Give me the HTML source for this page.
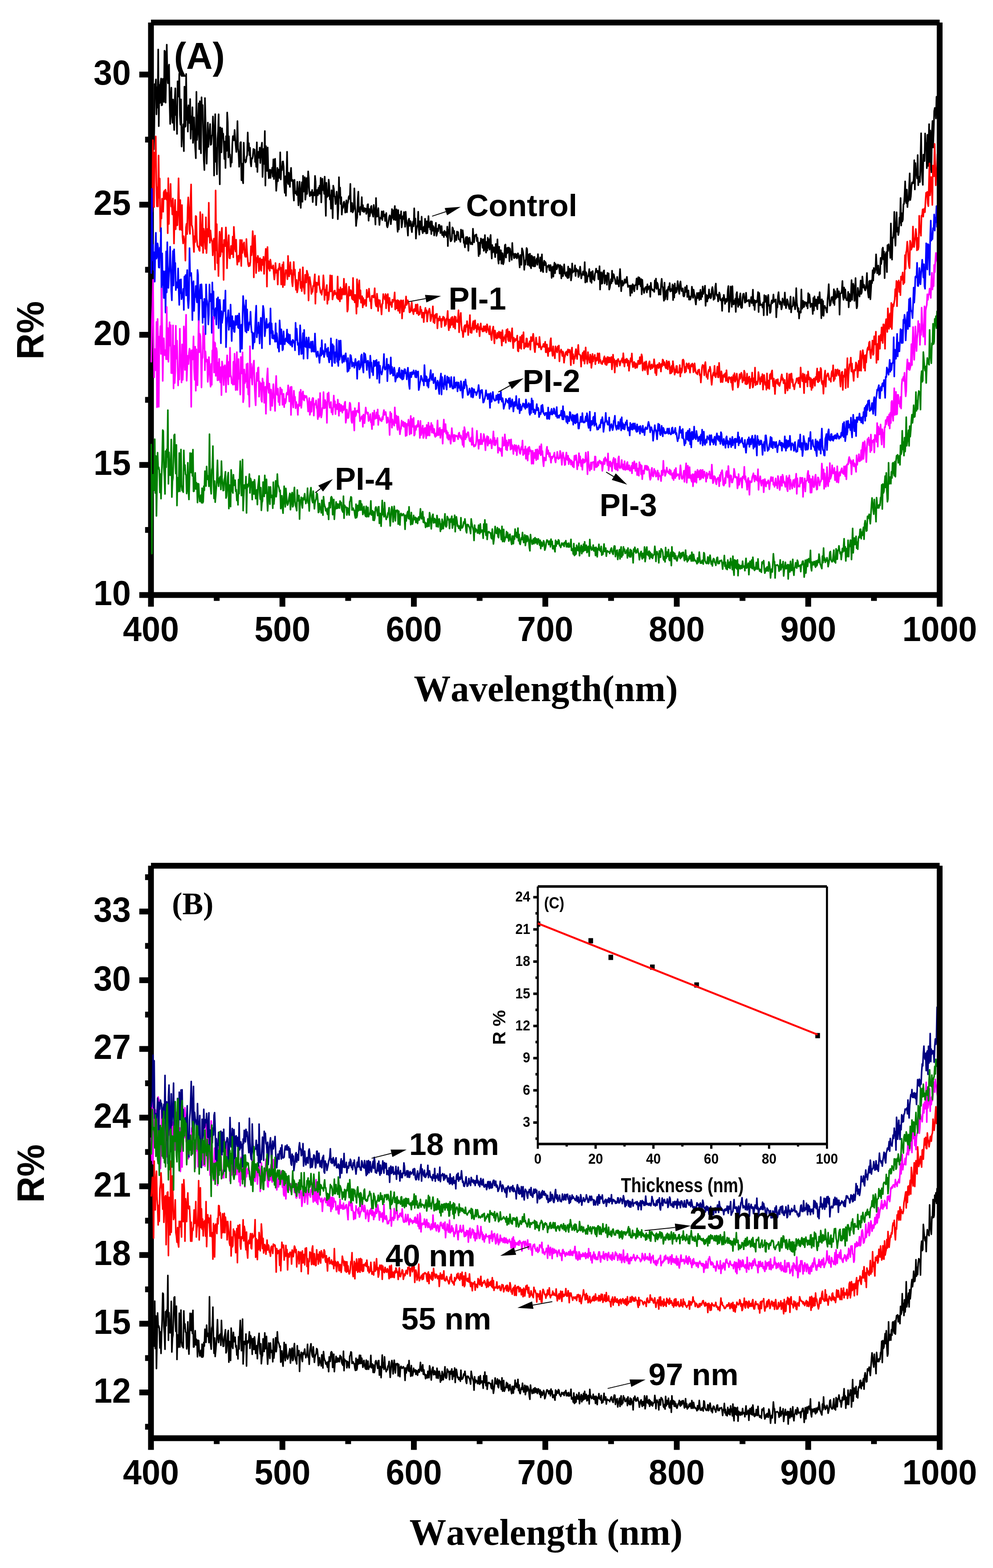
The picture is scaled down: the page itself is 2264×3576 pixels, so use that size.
<!DOCTYPE html>
<html lang="en"><head><meta charset="utf-8"><title>Reflectance spectra</title>
<style>html,body{margin:0;padding:0;background:#fff}svg{display:block}text{fill:#000}</style></head><body>
<svg width="2264" height="3576" viewBox="0 0 2264 3576">
<rect width="2264" height="3576" fill="#fff"/>
<g id="plotA">
<rect x="337.6" y="51.4" width="13.2" height="1332.2" fill="#000"/>
<rect x="344.2" y="1350.4" width="1798.2" height="13.2" fill="#000"/>
<text transform="translate(344.2,1461.9) scale(0.964,1)" font-family='"Liberation Sans", sans-serif' font-size="79.5" font-weight="bold" text-anchor="middle" >400</text>
<rect x="487.5" y="1357" width="13.2" height="13.4" fill="#000"/>
<rect x="637.3" y="1357" width="13.2" height="26.6" fill="#000"/>
<text transform="translate(643.9,1461.9) scale(0.964,1)" font-family='"Liberation Sans", sans-serif' font-size="79.5" font-weight="bold" text-anchor="middle" >500</text>
<rect x="787.2" y="1357" width="13.2" height="13.4" fill="#000"/>
<rect x="937" y="1357" width="13.2" height="26.6" fill="#000"/>
<text transform="translate(943.6,1461.9) scale(0.964,1)" font-family='"Liberation Sans", sans-serif' font-size="79.5" font-weight="bold" text-anchor="middle" >600</text>
<rect x="1086.9" y="1357" width="13.2" height="13.4" fill="#000"/>
<rect x="1236.7" y="1357" width="13.2" height="26.6" fill="#000"/>
<text transform="translate(1243.3,1461.9) scale(0.964,1)" font-family='"Liberation Sans", sans-serif' font-size="79.5" font-weight="bold" text-anchor="middle" >700</text>
<rect x="1386.6" y="1357" width="13.2" height="13.4" fill="#000"/>
<rect x="1536.4" y="1357" width="13.2" height="26.6" fill="#000"/>
<text transform="translate(1543,1461.9) scale(0.964,1)" font-family='"Liberation Sans", sans-serif' font-size="79.5" font-weight="bold" text-anchor="middle" >800</text>
<rect x="1686.3" y="1357" width="13.2" height="13.4" fill="#000"/>
<rect x="1836.1" y="1357" width="13.2" height="26.6" fill="#000"/>
<text transform="translate(1842.7,1461.9) scale(0.964,1)" font-family='"Liberation Sans", sans-serif' font-size="79.5" font-weight="bold" text-anchor="middle" >900</text>
<rect x="1986" y="1357" width="13.2" height="13.4" fill="#000"/>
<text transform="translate(2142.4,1461.9) scale(0.964,1)" font-family='"Liberation Sans", sans-serif' font-size="79.5" font-weight="bold" text-anchor="middle" >1000</text>
<rect x="317.6" y="1350.4" width="26.6" height="13.2" fill="#000"/>
<text transform="translate(298.4,1380) scale(0.964,1)" font-family='"Liberation Sans", sans-serif' font-size="79.5" font-weight="bold" text-anchor="end" >10</text>
<rect x="317.6" y="1053.7" width="26.6" height="13.2" fill="#000"/>
<text transform="translate(298.4,1083.3) scale(0.964,1)" font-family='"Liberation Sans", sans-serif' font-size="79.5" font-weight="bold" text-anchor="end" >15</text>
<rect x="317.6" y="756.9" width="26.6" height="13.2" fill="#000"/>
<text transform="translate(298.4,786.5) scale(0.964,1)" font-family='"Liberation Sans", sans-serif' font-size="79.5" font-weight="bold" text-anchor="end" >20</text>
<rect x="317.6" y="460.2" width="26.6" height="13.2" fill="#000"/>
<text transform="translate(298.4,489.8) scale(0.964,1)" font-family='"Liberation Sans", sans-serif' font-size="79.5" font-weight="bold" text-anchor="end" >25</text>
<rect x="317.6" y="163.4" width="26.6" height="13.2" fill="#000"/>
<text transform="translate(298.4,193) scale(0.964,1)" font-family='"Liberation Sans", sans-serif' font-size="79.5" font-weight="bold" text-anchor="end" >30</text>
<rect x="330.8" y="1202" width="13.4" height="13.2" fill="#000"/>
<rect x="330.8" y="905.3" width="13.4" height="13.2" fill="#000"/>
<rect x="330.8" y="608.6" width="13.4" height="13.2" fill="#000"/>
<rect x="330.8" y="311.8" width="13.4" height="13.2" fill="#000"/>
<polyline fill="none" stroke="#000000" stroke-width="3.7" stroke-linejoin="round" stroke-linecap="round" points="349,305.6 350.3,340.8 351.6,303 352.9,191.7 354.2,198.1 355.5,181.2 356.8,260.9 358.1,198.9 359.4,245.5 360.7,112.8 362,287.8 363.3,193.6 364.6,234.9 365.9,190.3 367.2,179.2 368.5,240.3 369.8,239.3 371.1,179.9 372.4,188 373.7,232.7 375,115.5 376.3,117.9 377.6,234.1 378.9,163.9 380.2,101.8 381.5,166.2 382.8,189.9 384.1,158.1 385.4,147.4 386.7,232.1 388,282.8 389.3,223.3 390.6,199.8 391.9,263.8 393.2,279.9 394.5,226.8 395.8,270.7 397.1,296.7 398.4,229 399.7,201.4 401,262.4 402.3,261.2 403.6,305.5 404.9,185.4 406.2,220.5 407.5,213.3 408.8,167.6 410.1,262.1 411.4,284.1 412.7,226.7 414,334.3 415.3,306.6 416.6,295.9 417.9,283.4 419.2,344.8 420.5,197.7 421.8,289.4 423.1,287.4 424.4,168.7 425.7,273.5 427,244.5 428.3,300.2 429.6,240 430.9,260.3 432.2,280.6 433.5,225.8 434.8,316.4 436.1,265.7 437.4,294.8 438.7,244.7 440,326 441.3,303.4 442.6,267.6 443.9,312.8 445.2,339.2 446.5,360.9 447.8,209.4 449.1,319.3 450.4,303.5 451.7,278.5 453,235.5 454.3,340.3 455.6,230.8 456.9,314 458.2,349.7 459.5,221.9 460.8,270.1 462.1,239.7 463.4,307.4 464.7,365 466,387.8 467.3,223.7 468.6,277.4 469.9,336 471.2,373.4 472.5,325.2 473.8,279.6 475.1,335 476.4,311.4 477.7,301.9 479,282.8 480.3,330.5 481.6,329.1 482.9,310.1 484.2,307 485.5,265.7 486.8,300.5 488.1,400.5 489.4,309.5 490.7,260.3 492,369.2 493.3,337 494.6,397.6 495.9,317 497.2,299.1 498.5,260.7 499.8,369.8 501.1,420.5 502.4,290.7 503.7,300.7 505,347.4 506.3,292.6 507.6,310.2 508.9,304.9 510.2,328.2 511.5,362.6 512.8,322.9 514.1,383.1 515.4,310.5 516.7,344.1 518,256.7 519.3,279.4 520.6,359.2 521.9,310.8 523.2,353.7 524.5,352.3 525.8,380.1 527.1,362.1 528.4,370.7 529.7,328.9 531,310.3 532.3,311 533.6,320 534.9,296.3 536.2,318.1 537.5,332.9 538.8,346.6 540.1,329.3 541.4,276.1 542.7,337.9 544,349.3 545.3,380.4 546.6,364.7 547.9,325.5 549.2,324.1 550.5,411.2 551.8,373.1 553.1,409.4 554.4,418 555.7,325.4 557,363.6 558.3,364.6 559.6,370.5 560.9,368.5 562.2,357.9 563.5,354.1 564.8,302.2 566.1,343.5 567.4,326.6 568.7,354 570,336.8 571.3,370.4 572.6,379.5 573.9,360.9 575.2,361.8 576.5,356.5 577.8,339.6 579.1,344.3 580.4,340.9 581.7,369.3 583,362.5 584.3,380.6 585.6,324.6 586.9,392.1 588.2,346.7 589.5,346.2 590.8,359.9 592.1,336.7 593.4,371.8 594.7,349.5 596,335.4 597.3,325.4 598.6,403.7 599.9,371.6 601.2,339.4 602.5,373.8 603.8,298.8 605.1,423.3 606.4,333.4 607.7,388 609,389.8 610.3,336.3 611.6,384.7 612.9,406.4 614.2,390.6 615.5,387.1 616.8,405.9 618.1,388.2 619.4,393.2 620.7,382.3 622,402.8 623.3,363.4 624.6,408.4 625.9,368.5 627.2,362 628.5,400.4 629.8,435.2 631.1,417.5 632.4,382.9 633.7,413.4 635,386.5 636.3,397.3 637.6,405.8 638.9,347.4 640.2,409.4 641.5,380.4 642.8,388.1 644.1,368.5 645.4,368.2 646.7,379.8 648,420.8 649.3,440 650.6,402.2 651.9,446.4 653.2,400.6 654.5,346.2 655.8,412 657.1,419.6 658.4,393.9 659.7,419 661,426.3 662.3,396.2 663.6,382.8 664.9,412.6 666.2,413 667.5,410.5 668.8,440.3 670.1,457.5 671.4,410.1 672.7,435.9 674,441.1 675.3,437 676.6,444.6 677.9,414.5 679.2,439.9 680.5,468.4 681.8,442.3 683.1,414.4 684.4,450.9 685.7,474.1 687,435.2 688.3,415.5 689.6,460.1 690.9,400.9 692.2,436.9 693.5,426.7 694.8,404.1 696.1,455.5 697.4,442.4 698.7,406.2 700,442.3 701.3,421.9 702.6,390.8 703.9,405.9 705.2,438.6 706.5,447.4 707.8,439.1 709.1,437.7 710.4,445.5 711.7,433 713,461 714.3,438.8 715.6,440.9 716.9,445.6 718.2,401 719.5,414 720.8,468 722.1,444.9 723.4,433.2 724.7,445.4 726,428.3 727.3,441.6 728.6,423.5 729.9,442 731.2,405.3 732.5,461.7 733.8,426.7 735.1,407.6 736.4,433.6 737.7,425.9 739,442.2 740.3,402.9 741.6,448 742.9,492.3 744.2,416.9 745.5,449.7 746.8,437.1 748.1,447.2 749.4,409.6 750.7,423.6 752,454.9 753.3,445.5 754.6,476 755.9,433.9 757.2,450.7 758.5,497.7 759.8,423.3 761.1,430.2 762.4,447.5 763.7,449 765,465.5 766.3,453.9 767.6,437 768.9,455.9 770.2,499.9 771.5,475.3 772.8,404.2 774.1,450.9 775.4,427.8 776.7,465.4 778,449.5 779.3,489.5 780.6,473.3 781.9,474 783.2,462.4 784.5,460 785.8,467.6 787.1,484.9 788.4,472 789.7,456.8 791,484.1 792.3,465.9 793.6,461.2 794.9,449.7 796.2,446.9 797.5,453.7 798.8,419.3 800.1,482.7 801.4,475.9 802.7,462.9 804,484.4 805.3,481.5 806.6,476.3 807.9,429.6 809.2,466.6 810.5,478.9 811.8,515.3 813.1,502.2 814.4,496.1 815.7,453.4 817,437.1 818.3,482.9 819.6,474.7 820.9,489.8 822.2,471.4 823.5,476.6 824.8,449.6 826.1,481.8 827.4,467.8 828.7,481 830,483.7 831.3,474.5 832.6,480.4 833.9,475.9 835.2,487.8 836.5,483.4 837.8,466.8 839.1,465.7 840.4,503.3 841.7,476.6 843,493.2 844.3,485.5 845.6,472 846.9,469.7 848.2,485 849.5,488.3 850.8,494.2 852.1,467.4 853.4,477.6 854.7,486.5 856,512.2 857.3,451.6 858.6,494.1 859.9,479.3 861.2,493.7 862.5,474.5 863.8,492.9 865.1,513.2 866.4,496.5 867.7,498.3 869,498.1 870.3,482.2 871.6,502 872.9,490.7 874.2,481.5 875.5,493 876.8,489.5 878.1,504 879.4,492.5 880.7,485.9 882,514.8 883.3,518.5 884.6,513.2 885.9,504.6 887.2,494.8 888.5,491.2 889.8,493.8 891.1,511.3 892.4,499.2 893.7,476.9 895,496.9 896.3,479.6 897.6,501.2 898.9,481.8 900.2,469.9 901.5,501.8 902.8,498.3 904.1,477.4 905.4,509 906.7,528.7 908,479.1 909.3,523.4 910.6,490 911.9,494.1 913.2,498.2 914.5,481.8 915.8,518.6 917.1,509 918.4,493.2 919.7,499.3 921,483.6 922.3,499.6 923.6,517.3 924.9,482.8 926.2,500 927.5,508 928.8,520.7 930.1,537.3 931.4,502.2 932.7,498.7 934,515.1 935.3,504.1 936.6,505.1 937.9,522.5 939.2,529.4 940.5,513.4 941.8,505.2 943.1,516 944.4,475.1 945.7,510.5 947,498.3 948.3,544.1 949.6,523.6 950.9,516.9 952.2,512.4 953.5,482.9 954.8,523.5 956.1,535.2 957.4,504.7 958.7,522.6 960,523.1 961.3,494.2 962.6,526.1 963.9,531.8 965.2,520.8 966.5,516.9 967.8,528 969.1,498.9 970.4,519.4 971.7,532.4 973,504.5 974.3,531.8 975.6,514.1 976.9,492.9 978.2,517.9 979.5,508 980.8,523.3 982.1,504.5 983.4,533.9 984.7,505.1 986,526.2 987.3,515.1 988.6,518.2 989.9,537 991.2,526 992.5,518.2 993.8,508.1 995.1,537.9 996.4,532.9 997.7,521.3 999,527.7 1000.3,512.8 1001.6,512.7 1002.9,515.3 1004.2,531.5 1005.5,527.9 1006.8,515.7 1008.1,536 1009.4,536.4 1010.7,529.4 1012,540.6 1013.3,526.4 1014.6,529.1 1015.9,536.1 1017.2,529.3 1018.5,540.1 1019.8,516.8 1021.1,561.3 1022.4,524 1023.7,532.2 1025,507.1 1026.3,542.7 1027.6,550.4 1028.9,548.9 1030.2,545.9 1031.5,518.5 1032.8,521 1034.1,531.9 1035.4,526.6 1036.7,551.3 1038,539.6 1039.3,537.1 1040.6,547.6 1041.9,528.2 1043.2,528.8 1044.5,529.4 1045.8,545.5 1047.1,546.4 1048.4,546.4 1049.7,551.6 1051,523.5 1052.3,532.6 1053.6,541.3 1054.9,525.2 1056.2,535.8 1057.5,553.8 1058.8,555.4 1060.1,564.1 1061.4,544.2 1062.7,540.6 1064,556.1 1065.3,540.4 1066.6,549.4 1067.9,572 1069.2,543.5 1070.5,541.9 1071.8,550 1073.1,556.8 1074.4,556.2 1075.7,553.2 1077,557.4 1078.3,521.5 1079.6,541 1080.9,552.7 1082.2,540.6 1083.5,536 1084.8,537.8 1086.1,534.6 1087.4,550 1088.7,542.4 1090,556.5 1091.3,584.2 1092.6,553.3 1093.9,579.4 1095.2,558.7 1096.5,543.9 1097.8,553.8 1099.1,546 1100.4,565.1 1101.7,545.5 1103,572.2 1104.3,565 1105.6,536.1 1106.9,566.9 1108.2,576.1 1109.5,551.7 1110.8,571.6 1112.1,542.1 1113.4,565.1 1114.7,545.8 1116,569.3 1117.3,545.2 1118.6,535.9 1119.9,569.2 1121.2,589.7 1122.5,558.9 1123.8,575.6 1125.1,567.9 1126.4,564 1127.7,574.9 1129,586.5 1130.3,556.4 1131.6,576.9 1132.9,574.7 1134.2,545.8 1135.5,589.3 1136.8,601.2 1138.1,562.5 1139.4,592.3 1140.7,574.1 1142,570.7 1143.3,601.4 1144.6,577.1 1145.9,577.9 1147.2,602.6 1148.5,598.4 1149.8,584.7 1151.1,559.6 1152.4,557.6 1153.7,587.5 1155,566.2 1156.3,577.8 1157.6,564.9 1158.9,575.4 1160.2,564.5 1161.5,596 1162.8,566.9 1164.1,577 1165.4,576.9 1166.7,592.6 1168,554.1 1169.3,580.3 1170.6,578.3 1171.9,588.7 1173.2,588.5 1174.5,578.6 1175.8,586.2 1177.1,579.8 1178.4,589.5 1179.7,583 1181,577.7 1182.3,584.8 1183.6,592.5 1184.9,610 1186.2,581.7 1187.5,590.8 1188.8,604 1190.1,566.3 1191.4,570 1192.7,575.4 1194,588.3 1195.3,615.4 1196.6,594.2 1197.9,603.7 1199.2,589 1200.5,565.7 1201.8,568.2 1203.1,604.1 1204.4,595.8 1205.7,580.2 1207,606.2 1208.3,578.5 1209.6,608.2 1210.9,611.8 1212.2,583 1213.5,585.9 1214.8,606.6 1216.1,586.4 1217.4,607.7 1218.7,585.8 1220,607.4 1221.3,599.8 1222.6,593.7 1223.9,589.4 1225.2,603.8 1226.5,579.7 1227.8,596 1229.1,595.1 1230.4,611.4 1231.7,587 1233,618.7 1234.3,596.4 1235.6,580.1 1236.9,616.6 1238.2,620.5 1239.5,601.4 1240.8,594.5 1242.1,604.7 1243.4,597.4 1244.7,600.9 1246,620.7 1247.3,608.5 1248.6,606.8 1249.9,608.5 1251.2,604.4 1252.5,615.9 1253.8,617.1 1255.1,604.4 1256.4,609.8 1257.7,633.8 1259,613.6 1260.3,608.1 1261.6,631 1262.9,610.2 1264.2,598.9 1265.5,623.1 1266.8,602 1268.1,606.1 1269.4,614.2 1270.7,610.1 1272,603.2 1273.3,605.9 1274.6,605.2 1275.9,623.9 1277.2,604.5 1278.5,607.1 1279.8,635 1281.1,607.9 1282.4,629.9 1283.7,629.5 1285,614.9 1286.3,602.9 1287.6,622.9 1288.9,625.9 1290.2,629.4 1291.5,620.7 1292.8,631.8 1294.1,634.1 1295.4,607.9 1296.7,633.4 1298,619.5 1299.3,612.7 1300.6,615.3 1301.9,639.6 1303.2,630.5 1304.5,600.8 1305.8,621.6 1307.1,619.9 1308.4,619.2 1309.7,615.6 1311,605.2 1312.3,629.4 1313.6,612.4 1314.9,618.7 1316.2,616.6 1317.5,615.6 1318.8,631.8 1320.1,628.7 1321.4,618.4 1322.7,608 1324,619.9 1325.3,635 1326.6,625.9 1327.9,627.3 1329.2,619 1330.5,622.2 1331.8,627.5 1333.1,597.8 1334.4,644.3 1335.7,620.4 1337,623 1338.3,642.8 1339.6,631.6 1340.9,630.4 1342.2,624.5 1343.5,613.7 1344.8,631.6 1346.1,642.1 1347.4,620.8 1348.7,645.1 1350,619.5 1351.3,618.1 1352.6,636.7 1353.9,632.3 1355.2,639.6 1356.5,624.7 1357.8,620.7 1359.1,612.5 1360.4,619.7 1361.7,621.4 1363,617.7 1364.3,636.8 1365.6,626.9 1366.9,607.1 1368.2,660.5 1369.5,625.9 1370.8,621.1 1372.1,647.2 1373.4,646 1374.7,622.7 1376,618.9 1377.3,616.6 1378.6,646.6 1379.9,632.8 1381.2,628.1 1382.5,636.5 1383.8,649.5 1385.1,622.4 1386.4,633.5 1387.7,623.6 1389,660.4 1390.3,656.3 1391.6,647.9 1392.9,636.7 1394.2,646 1395.5,617.3 1396.8,641.5 1398.1,625 1399.4,625.8 1400.7,632.4 1402,636.3 1403.3,645.8 1404.6,648 1405.9,644.2 1407.2,631.3 1408.5,648.1 1409.8,639.8 1411.1,653.5 1412.4,632.6 1413.7,613.7 1415,636.8 1416.3,664.1 1417.6,646.8 1418.9,640.1 1420.2,651.3 1421.5,647 1422.8,647.1 1424.1,637 1425.4,643.8 1426.7,645 1428,636.2 1429.3,631.5 1430.6,645.1 1431.9,654.4 1433.2,652.5 1434.5,651.3 1435.8,652 1437.1,674.3 1438.4,651 1439.7,659.1 1441,668 1442.3,648 1443.6,649.9 1444.9,658 1446.2,664.3 1447.5,650.6 1448.8,650.5 1450.1,648.4 1451.4,635.2 1452.7,659.8 1454,646.7 1455.3,632 1456.6,648.4 1457.9,633 1459.2,641.3 1460.5,652.8 1461.8,636.3 1463.1,671.3 1464.4,638.1 1465.7,655.3 1467,659.2 1468.3,668.1 1469.6,662.5 1470.9,656.1 1472.2,654.9 1473.5,654 1474.8,666.8 1476.1,648.3 1477.4,660.6 1478.7,654.1 1480,657.3 1481.3,652.5 1482.6,677 1483.9,644.8 1485.2,658.6 1486.5,658.9 1487.8,662.3 1489.1,660.9 1490.4,663.1 1491.7,665.7 1493,639.6 1494.3,656.2 1495.6,635.3 1496.9,659 1498.2,644.7 1499.5,647.5 1500.8,657.1 1502.1,672.1 1503.4,663.6 1504.7,660.2 1506,671.8 1507.3,648.7 1508.6,635.9 1509.9,653 1511.2,655.2 1512.5,670.6 1513.8,686 1515.1,644.6 1516.4,682.7 1517.7,674 1519,666.7 1520.3,661.5 1521.6,683.1 1522.9,659.1 1524.2,654 1525.5,660.7 1526.8,645.5 1528.1,664.8 1529.4,659 1530.7,663.5 1532,663.2 1533.3,648.6 1534.6,684.5 1535.9,651.4 1537.2,678.6 1538.5,646.7 1539.8,668.2 1541.1,656.5 1542.4,666.2 1543.7,657.8 1545,641 1546.3,652.2 1547.6,663.9 1548.9,670.2 1550.2,648.7 1551.5,641.8 1552.8,656.1 1554.1,663.9 1555.4,659.5 1556.7,657.7 1558,674.8 1559.3,676.1 1560.6,673.8 1561.9,655.1 1563.2,666 1564.5,663.4 1565.8,651.4 1567.1,677.3 1568.4,668.5 1569.7,662.4 1571,683.5 1572.3,675.8 1573.6,683.4 1574.9,680.3 1576.2,675.4 1577.5,653.8 1578.8,663.7 1580.1,679.4 1581.4,660.5 1582.7,670.1 1584,673.9 1585.3,685.5 1586.6,694.5 1587.9,679.6 1589.2,668.1 1590.5,680 1591.8,675 1593.1,667.7 1594.4,684.1 1595.7,674.8 1597,660.8 1598.3,682.6 1599.6,666.7 1600.9,677 1602.2,653.4 1603.5,670.4 1604.8,660.5 1606.1,661.6 1607.4,651.6 1608.7,697.5 1610,671.8 1611.3,679.3 1612.6,687.6 1613.9,673.5 1615.2,680.4 1616.5,660 1617.8,677.6 1619.1,670.5 1620.4,680.3 1621.7,676.8 1623,660 1624.3,654.7 1625.6,663.9 1626.9,683.8 1628.2,680.8 1629.5,681.2 1630.8,654.1 1632.1,646.7 1633.4,670 1634.7,674.6 1636,672.2 1637.3,687.5 1638.6,679.3 1639.9,667 1641.2,671.5 1642.5,684.9 1643.8,684.3 1645.1,682.4 1646.4,709 1647.7,679.6 1649,685.5 1650.3,672.3 1651.6,679.5 1652.9,693.2 1654.2,689.7 1655.5,681.5 1656.8,688.1 1658.1,684 1659.4,661.7 1660.7,652.3 1662,711.3 1663.3,694 1664.6,684 1665.9,653.3 1667.2,669.7 1668.5,699.9 1669.8,652.7 1671.1,680.9 1672.4,694.4 1673.7,685.8 1675,692.6 1676.3,681.2 1677.6,711.4 1678.9,671.1 1680.2,666.4 1681.5,686 1682.8,699.9 1684.1,682.1 1685.4,695.7 1686.7,676.9 1688,669 1689.3,700.3 1690.6,702.5 1691.9,701.5 1693.2,678.6 1694.5,670.2 1695.8,669.9 1697.1,680.5 1698.4,690.2 1699.7,689.5 1701,667.6 1702.3,687.4 1703.6,685.2 1704.9,686.5 1706.2,685.8 1707.5,683.6 1708.8,698.6 1710.1,686.9 1711.4,687.9 1712.7,677.4 1714,691.7 1715.3,685.1 1716.6,660.6 1717.9,696.6 1719.2,683.8 1720.5,706.9 1721.8,686 1723.1,685.9 1724.4,689.9 1725.7,687.7 1727,682.5 1728.3,666.2 1729.6,711.6 1730.9,668.1 1732.2,683.9 1733.5,696.2 1734.8,695 1736.1,694.1 1737.4,695.9 1738.7,701.4 1740,689.8 1741.3,719.2 1742.6,673.1 1743.9,689 1745.2,681.6 1746.5,674.7 1747.8,690.2 1749.1,718.7 1750.4,679.1 1751.7,672.5 1753,697.3 1754.3,695.3 1755.6,713.7 1756.9,711.3 1758.2,691.9 1759.5,685 1760.8,691.7 1762.1,686.9 1763.4,671.6 1764.7,688.8 1766,684.8 1767.3,685.8 1768.6,682.8 1769.9,723.6 1771.2,698.6 1772.5,701.1 1773.8,675.3 1775.1,666.3 1776.4,686 1777.7,693.8 1779,687.2 1780.3,689.9 1781.6,705.6 1782.9,700.3 1784.2,680.7 1785.5,687.9 1786.8,685 1788.1,695.6 1789.4,667.1 1790.7,691.2 1792,702.9 1793.3,695 1794.6,682.7 1795.9,686 1797.2,695.1 1798.5,699.6 1799.8,704.7 1801.1,691.9 1802.4,676.3 1803.7,712.5 1805,700.8 1806.3,699.2 1807.6,697.5 1808.9,678.1 1810.2,687.5 1811.5,695.2 1812.8,705.4 1814.1,693.4 1815.4,657.2 1816.7,690.6 1818,699.4 1819.3,710.9 1820.6,702.9 1821.9,726.4 1823.2,711.2 1824.5,710.1 1825.8,712.9 1827.1,660 1828.4,704.5 1829.7,701.1 1831,685.8 1832.3,700.6 1833.6,699.1 1834.9,688.4 1836.2,692.1 1837.5,690.7 1838.8,697.9 1840.1,689.4 1841.4,703.3 1842.7,668.6 1844,690.7 1845.3,671.3 1846.6,682.3 1847.9,700.2 1849.2,694 1850.5,692.4 1851.8,695.7 1853.1,716.2 1854.4,679.4 1855.7,708.1 1857,675.8 1858.3,689.8 1859.6,697.6 1860.9,682.8 1862.2,697.2 1863.5,705.3 1864.8,677 1866.1,691.9 1867.4,687.9 1868.7,666.4 1870,691.8 1871.3,683.3 1872.6,725.9 1873.9,682.5 1875.2,718.8 1876.5,686.4 1877.8,720.4 1879.1,698.7 1880.4,697.7 1881.7,702 1883,702 1884.3,708.9 1885.6,712.6 1886.9,682.2 1888.2,669.5 1889.5,648 1890.8,680.6 1892.1,697.2 1893.4,695.3 1894.7,687.7 1896,678 1897.3,677.2 1898.6,681.7 1899.9,691.1 1901.2,659.5 1902.5,695.7 1903.8,663.9 1905.1,682 1906.4,675 1907.7,678.8 1909,658.2 1910.3,666 1911.6,678.1 1912.9,664.4 1914.2,717.7 1915.5,669.4 1916.8,669.1 1918.1,668.6 1919.4,661.3 1920.7,640.9 1922,675.5 1923.3,683.7 1924.6,655.6 1925.9,679.1 1927.2,660.1 1928.5,678.7 1929.8,684.2 1931.1,684.9 1932.4,683.8 1933.7,665.6 1935,700.9 1936.3,670.1 1937.6,682 1938.9,687 1940.2,670.2 1941.5,638.8 1942.8,684 1944.1,654.7 1945.4,647 1946.7,654.1 1948,686.2 1949.3,669.3 1950.6,634 1951.9,682.4 1953.2,703.2 1954.5,698.4 1955.8,656.4 1957.1,665.3 1958.4,671.4 1959.7,676.3 1961,660.4 1962.3,639.6 1963.6,670.3 1964.9,666.1 1966.2,630.5 1967.5,645.5 1968.8,655.9 1970.1,649.5 1971.4,659.1 1972.7,662.3 1974,657.6 1975.3,646.1 1976.6,622.7 1977.9,657.4 1979.2,669.8 1980.5,678.7 1981.8,641.6 1983.1,640.1 1984.4,682.7 1985.7,662.5 1987,639.4 1988.3,645.7 1989.6,616.4 1990.9,640 1992.2,611.1 1993.5,622.8 1994.8,621.3 1996.1,613.1 1997.4,580 1998.7,603.3 2000,623.3 2001.3,614.6 2002.6,605.6 2003.9,626.8 2005.2,623.7 2006.5,624.6 2007.8,588.2 2009.1,602.2 2010.4,591.7 2011.7,567.8 2013,564.6 2014.3,591.9 2015.6,573.8 2016.9,634.5 2018.2,585.3 2019.5,579.4 2020.8,575.1 2022.1,620.7 2023.4,559.2 2024.7,572.5 2026,557.1 2027.3,567.2 2028.6,566.4 2029.9,588.3 2031.2,509.6 2032.5,558.5 2033.8,592.1 2035.1,541.9 2036.4,542.9 2037.7,526.7 2039,483 2040.3,535.6 2041.6,560.4 2042.9,518 2044.2,484.2 2045.5,528.1 2046.8,519.1 2048.1,536.2 2049.4,528.5 2050.7,496.1 2052,507.8 2053.3,451.7 2054.6,514.3 2055.9,486.2 2057.2,505.1 2058.5,500.8 2059.8,465.7 2061.1,465.4 2062.4,445 2063.7,413.7 2065,457.8 2066.3,463.3 2067.6,432.3 2068.9,472.3 2070.2,454 2071.5,458.3 2072.8,425.8 2074.1,395.4 2075.4,456.2 2076.7,447.9 2078,426.7 2079.3,416 2080.6,418.1 2081.9,417.9 2083.2,407.3 2084.5,365.3 2085.8,432.1 2087.1,371.9 2088.4,397.8 2089.7,395.5 2091,406.9 2092.3,353.6 2093.6,422.5 2094.9,405.3 2096.2,403 2097.5,415.3 2098.8,358 2100.1,303.8 2101.4,381.3 2102.7,406.7 2104,421.7 2105.3,352.5 2106.6,357.7 2107.9,367.3 2109.2,304.4 2110.5,332.1 2111.8,326.6 2113.1,383.6 2114.4,307.3 2115.7,378.7 2117,334.1 2118.3,283 2119.6,388.5 2120.9,297.6 2122.2,337.1 2123.5,392.9 2124.8,300.7 2126.1,275.8 2127.4,336.3 2128.7,301.3 2130,253.4 2131.3,246 2132.6,247.6 2133.9,270.2 2135.2,220.7 2136.5,229.6 2137.8,240.7"/>
<polyline fill="none" stroke="#ff0000" stroke-width="3.7" stroke-linejoin="round" stroke-linecap="round" points="346,466.4 347.3,482.9 348.6,319.7 349.9,431.5 351.2,472.3 352.5,347.8 353.8,377.2 355.1,311.1 356.4,413.1 357.7,470.7 359,427.2 360.3,470.9 361.6,354.7 362.9,450.9 364.2,407.2 365.5,528.1 366.8,491 368.1,498.1 369.4,453 370.7,480.8 372,482.9 373.3,439 374.6,435.5 375.9,454.2 377.2,432.6 378.5,439.9 379.8,455.3 381.1,440.2 382.4,532 383.7,406.4 385,510.9 386.3,448.9 387.6,452.9 388.9,419.4 390.2,470.9 391.5,457.6 392.8,488.9 394.1,452.6 395.4,481.2 396.7,555.5 398,496.9 399.3,455.9 400.6,523 401.9,482.6 403.2,513.8 404.5,513.6 405.8,469 407.1,406.5 408.4,472.5 409.7,524 411,456.1 412.3,512.3 413.6,524.5 414.9,467.5 416.2,539.6 417.5,555.2 418.8,538.5 420.1,547.4 421.4,548.3 422.7,594.4 424,518.7 425.3,510.3 426.6,534 427.9,473.9 429.2,450.2 430.5,475.1 431.8,524.2 433.1,533.3 434.4,458 435.7,420.7 437,513 438.3,516.7 439.6,524.6 440.9,554.6 442.2,574.6 443.5,538.3 444.8,552.3 446.1,492.7 447.4,493.5 448.7,544.6 450,559.6 451.3,563.1 452.6,562.2 453.9,570.1 455.2,572.2 456.5,483.6 457.8,518.7 459.1,559.3 460.4,561.3 461.7,488.8 463,576.8 464.3,521.5 465.6,529.6 466.9,546.8 468.2,567.4 469.5,495.5 470.8,577.1 472.1,547.9 473.4,521.8 474.7,539.5 476,462.3 477.3,525.8 478.6,553.6 479.9,525.7 481.2,541.6 482.5,548 483.8,552.2 485.1,582.4 486.4,550.7 487.7,544 489,566.9 490.3,614.9 491.6,434.3 492.9,570.8 494.2,511 495.5,600.2 496.8,579.1 498.1,629.6 499.4,559.4 500.7,528.4 502,585 503.3,579.4 504.6,534.1 505.9,519.7 507.2,574.8 508.5,557.9 509.8,638.5 511.1,547.1 512.4,550.6 513.7,561.3 515,518.5 516.3,541.5 517.6,612 518.9,564.1 520.2,553.4 521.5,536.4 522.8,587.9 524.1,589.3 525.4,577.5 526.7,560.8 528,579.5 529.3,579.2 530.6,539.6 531.9,587 533.2,517.3 534.5,540.5 535.8,567.7 537.1,573.5 538.4,546.7 539.7,584.5 541,603.7 542.3,587.3 543.6,583.2 544.9,596.8 546.2,584.3 547.5,547.1 548.8,570.3 550.1,606.6 551.4,547.4 552.7,576.9 554,566.5 555.3,556.7 556.6,553 557.9,580.6 559.2,585.5 560.5,585.7 561.8,545.1 563.1,572.4 564.4,587.3 565.7,602.2 567,607.4 568.3,600.2 569.6,606.3 570.9,597.3 572.2,561.6 573.5,582.1 574.8,565.6 576.1,527 577.4,545.6 578.7,632.7 580,562.4 581.3,537.4 582.6,574.9 583.9,622.9 585.2,588.4 586.5,598.1 587.8,583.4 589.1,589.2 590.4,618.3 591.7,608.5 593,588.8 594.3,612.8 595.6,617.6 596.9,591.6 598.2,602.7 599.5,604.3 600.8,585.5 602.1,624.7 603.4,596 604.7,589.8 606,567.4 607.3,575.4 608.6,653.6 609.9,563.3 611.2,611.9 612.5,595.6 613.8,613.8 615.1,617.6 616.4,592.1 617.7,601.8 619,611.6 620.3,612.3 621.6,609.7 622.9,605.2 624.2,624 625.5,637.5 626.8,624.8 628.1,599.9 629.4,621.8 630.7,615.8 632,623.8 633.3,648.9 634.6,612.5 635.9,615.7 637.2,601.3 638.5,612.9 639.8,610.3 641.1,648.9 642.4,627.2 643.7,603.7 645,655 646.3,597.8 647.6,647.4 648.9,650.1 650.2,630.1 651.5,615.8 652.8,617.7 654.1,616.4 655.4,636.8 656.7,583.7 658,616.8 659.3,630.2 660.6,617.7 661.9,598.1 663.2,624.9 664.5,615.9 665.8,642.8 667.1,653 668.4,630.6 669.7,597.3 671,626.3 672.3,614.8 673.6,643.6 674.9,661.1 676.2,638.4 677.5,666.8 678.8,659.3 680.1,647.4 681.4,621.3 682.7,638.6 684,614.1 685.3,656.9 686.6,642.7 687.9,664 689.2,645.3 690.5,609.6 691.8,653.1 693.1,657.9 694.4,670 695.7,626.5 697,627.8 698.3,644.4 699.6,617.3 700.9,622.3 702.2,626.4 703.5,685.4 704.8,636.7 706.1,631.9 707.4,641.7 708.7,650.5 710,670.3 711.3,665.6 712.6,665.6 713.9,651.9 715.2,652.4 716.5,639.8 717.8,625.5 719.1,692.7 720.4,644.1 721.7,666.5 723,644.8 724.3,649.6 725.6,649.3 726.9,629.7 728.2,651.2 729.5,658.8 730.8,667.6 732.1,663.8 733.4,672.2 734.7,660.6 736,658.1 737.3,627.9 738.6,646.3 739.9,684.1 741.2,661 742.5,673 743.8,658 745.1,650.1 746.4,693 747.7,667 749,683.8 750.3,670.3 751.6,657.1 752.9,627.9 754.2,664.7 755.5,639.2 756.8,628.6 758.1,683 759.4,674.3 760.7,673.7 762,663.8 763.3,662.6 764.6,670.9 765.9,668.2 767.2,669 768.5,679.9 769.8,630.7 771.1,682.6 772.4,660.2 773.7,681.7 775,687.4 776.3,655.3 777.6,681.5 778.9,681.5 780.2,658.9 781.5,661.5 782.8,671.8 784.1,635.5 785.4,662.7 786.7,671.8 788,662.8 789.3,647.1 790.6,665.7 791.9,710.7 793.2,705.7 794.5,672.2 795.8,653.9 797.1,674.1 798.4,673.4 799.7,661.6 801,666.3 802.3,680.2 803.6,682.7 804.9,633.8 806.2,684.4 807.5,672.3 808.8,689.6 810.1,672.7 811.4,681.8 812.7,715.4 814,636.9 815.3,699.4 816.6,679.5 817.9,650.1 819.2,639.4 820.5,681.5 821.8,662.2 823.1,690.5 824.4,680.4 825.7,675.6 827,701.2 828.3,679.8 829.6,695.4 830.9,690.3 832.2,684 833.5,689.3 834.8,697.9 836.1,660.8 837.4,673.5 838.7,677.8 840,674.5 841.3,658.3 842.6,673.8 843.9,686.9 845.2,685 846.5,703.4 847.8,674.7 849.1,676.2 850.4,674.3 851.7,678.4 853,674.4 854.3,657.3 855.6,687.1 856.9,696.3 858.2,699 859.5,669.8 860.8,682.2 862.1,709.2 863.4,684.1 864.7,691.1 866,684.8 867.3,700 868.6,699.6 869.9,717.1 871.2,693.3 872.5,692.4 873.8,670.6 875.1,678 876.4,677.5 877.7,683.1 879,670.5 880.3,703.1 881.6,673.7 882.9,690.6 884.2,670.7 885.5,693 886.8,709.9 888.1,679.4 889.4,694.6 890.7,689.2 892,694.5 893.3,700.3 894.6,683.6 895.9,689.1 897.2,683.7 898.5,682.3 899.8,666.9 901.1,705.8 902.4,685.1 903.7,703.2 905,703.2 906.3,684.3 907.6,708.6 908.9,685.7 910.2,703.7 911.5,713.7 912.8,687.5 914.1,684.9 915.4,685.5 916.7,726.4 918,694.6 919.3,684.8 920.6,710.5 921.9,699.2 923.2,702.3 924.5,691.5 925.8,676.2 927.1,695.3 928.4,691.4 929.7,684.9 931,690.8 932.3,691.7 933.6,712.5 934.9,711.9 936.2,709.8 937.5,698.1 938.8,689.9 940.1,708.7 941.4,710.7 942.7,716.6 944,705.3 945.3,704.7 946.6,709.8 947.9,694.6 949.2,697 950.5,714.8 951.8,694 953.1,708 954.4,718.6 955.7,713.2 957,716.6 958.3,699.2 959.6,710.6 960.9,706.7 962.2,724.3 963.5,717 964.8,712.9 966.1,734.7 967.4,718.4 968.7,710.4 970,702.2 971.3,713.9 972.6,707.7 973.9,733.3 975.2,721.5 976.5,711.9 977.8,708 979.1,704 980.4,712.9 981.7,732.2 983,726.9 984.3,717.5 985.6,720.9 986.9,698.5 988.2,734.7 989.5,719.1 990.8,737.1 992.1,720 993.4,716.6 994.7,724.4 996,715.7 997.3,749 998.6,726.6 999.9,731.4 1001.2,728.3 1002.5,721.5 1003.8,731.1 1005.1,727.5 1006.4,746 1007.7,727 1009,730.9 1010.3,722 1011.6,723.2 1012.9,725 1014.2,743.3 1015.5,729.7 1016.8,740 1018.1,726.4 1019.4,726 1020.7,709.2 1022,739.6 1023.3,753.1 1024.6,728.7 1025.9,747.4 1027.2,741.9 1028.5,725.1 1029.8,740.7 1031.1,722.7 1032.4,729.3 1033.7,746.2 1035,735.8 1036.3,721.5 1037.6,749.6 1038.9,722.8 1040.2,733.2 1041.5,732.1 1042.8,734.5 1044.1,727.3 1045.4,707.7 1046.7,757.8 1048,728.9 1049.3,724.1 1050.6,713.5 1051.9,741.4 1053.2,754 1054.5,755.7 1055.8,768.7 1057.1,756.2 1058.4,745.3 1059.7,742 1061,756.7 1062.3,741 1063.6,745.4 1064.9,732.4 1066.2,744 1067.5,764.1 1068.8,742 1070.1,747.8 1071.4,718.5 1072.7,758.4 1074,747.9 1075.3,759.2 1076.6,747.7 1077.9,737.5 1079.2,732.3 1080.5,751.8 1081.8,747.3 1083.1,730.7 1084.4,748.1 1085.7,742.9 1087,757.2 1088.3,745.8 1089.6,738.6 1090.9,750.9 1092.2,746.2 1093.5,766.9 1094.8,746.4 1096.1,737.6 1097.4,751 1098.7,749.2 1100,755.7 1101.3,755.9 1102.6,744 1103.9,754.6 1105.2,754.4 1106.5,743.5 1107.8,750.6 1109.1,757.9 1110.4,739.7 1111.7,744.7 1113,751.8 1114.3,756.1 1115.6,762.3 1116.9,743.8 1118.2,761.4 1119.5,765.5 1120.8,775.6 1122.1,756.1 1123.4,750.7 1124.7,744.8 1126,766.7 1127.3,783.2 1128.6,753.8 1129.9,765.6 1131.2,769.7 1132.5,772.3 1133.8,759.2 1135.1,770.4 1136.4,764 1137.7,756.2 1139,769 1140.3,771 1141.6,757.6 1142.9,772.1 1144.2,788.2 1145.5,753.2 1146.8,775.9 1148.1,778.1 1149.4,769 1150.7,772 1152,764.1 1153.3,781.7 1154.6,752.4 1155.9,767.6 1157.2,750.3 1158.5,774.3 1159.8,777.9 1161.1,756 1162.4,758.6 1163.7,778.8 1165,769.5 1166.3,761.7 1167.6,748.6 1168.9,777.8 1170.2,794 1171.5,770.2 1172.8,779.4 1174.1,778.3 1175.4,773.1 1176.7,775.8 1178,775.4 1179.3,765.3 1180.6,799.4 1181.9,801.4 1183.2,778.7 1184.5,793.8 1185.8,768.4 1187.1,772.6 1188.4,795.6 1189.7,765.2 1191,764.4 1192.3,780.7 1193.6,757.7 1194.9,794.9 1196.2,786 1197.5,783.3 1198.8,791.2 1200.1,771.8 1201.4,772.2 1202.7,790.5 1204,791.5 1205.3,784.3 1206.6,782.5 1207.9,778.2 1209.2,797.4 1210.5,768.7 1211.8,774.6 1213.1,778.2 1214.4,768.5 1215.7,761.2 1217,773.4 1218.3,794.4 1219.6,803.1 1220.9,789.4 1222.2,769.9 1223.5,780.3 1224.8,785.9 1226.1,785.1 1227.4,784 1228.7,792.2 1230,768.4 1231.3,783.9 1232.6,792.2 1233.9,797 1235.2,792.8 1236.5,790.8 1237.8,789.5 1239.1,784.4 1240.4,791.2 1241.7,788.4 1243,779.4 1244.3,803.5 1245.6,803.2 1246.9,785.6 1248.2,798.3 1249.5,812 1250.8,794.3 1252.1,793.9 1253.4,801.3 1254.7,777.8 1256,771.3 1257.3,800.5 1258.6,799.6 1259.9,811.6 1261.2,789.8 1262.5,808.7 1263.8,808.2 1265.1,817.2 1266.4,789.8 1267.7,794.7 1269,800.5 1270.3,803.5 1271.6,790.2 1272.9,794.5 1274.2,788.1 1275.5,824.2 1276.8,801.3 1278.1,802.7 1279.4,797.2 1280.7,803.4 1282,811.9 1283.3,801.5 1284.6,805.4 1285.9,827.2 1287.2,815.9 1288.5,811.5 1289.8,803 1291.1,807.5 1292.4,801.1 1293.7,810.3 1295,796.8 1296.3,800.1 1297.6,803.4 1298.9,797.8 1300.2,809.7 1301.5,832.8 1302.8,802.7 1304.1,792.7 1305.4,818.6 1306.7,807.9 1308,828.8 1309.3,813.2 1310.6,818.1 1311.9,802.8 1313.2,796.2 1314.5,810 1315.8,818.8 1317.1,803.6 1318.4,786.7 1319.7,807.2 1321,808.3 1322.3,808.9 1323.6,812.4 1324.9,836.1 1326.2,813.3 1327.5,809.2 1328.8,804.4 1330.1,822.7 1331.4,800.8 1332.7,829.4 1334,816 1335.3,792.4 1336.6,818.5 1337.9,815.7 1339.2,829.3 1340.5,803.2 1341.8,819.7 1343.1,817.9 1344.4,827 1345.7,808.5 1347,812.3 1348.3,838.9 1349.6,828.5 1350.9,807.2 1352.2,824.4 1353.5,814.1 1354.8,814.6 1356.1,809.4 1357.4,830.6 1358.7,816 1360,822.6 1361.3,821.1 1362.6,805.8 1363.9,813.6 1365.2,828.2 1366.5,805.8 1367.8,823.9 1369.1,821 1370.4,828.7 1371.7,829.1 1373,830.3 1374.3,822.9 1375.6,825.4 1376.9,816.2 1378.2,812.7 1379.5,830 1380.8,816.8 1382.1,832.4 1383.4,832 1384.7,814.2 1386,827.5 1387.3,814.8 1388.6,826.1 1389.9,815.6 1391.2,826.2 1392.5,824.8 1393.8,814.1 1395.1,842.5 1396.4,832.9 1397.7,808.8 1399,826.3 1400.3,819.3 1401.6,849.6 1402.9,823.2 1404.2,830.2 1405.5,822 1406.8,835.8 1408.1,821.8 1409.4,818.7 1410.7,823 1412,824.2 1413.3,833.6 1414.6,827.9 1415.9,822.1 1417.2,822.6 1418.5,817.2 1419.8,826.9 1421.1,805.6 1422.4,823.2 1423.7,835.8 1425,822.2 1426.3,819.7 1427.6,826.7 1428.9,818 1430.2,820.6 1431.5,834.1 1432.8,822.4 1434.1,845.6 1435.4,832.3 1436.7,826.2 1438,816.8 1439.3,824.4 1440.6,806.1 1441.9,830 1443.2,837.1 1444.5,834.4 1445.8,825.3 1447.1,835 1448.4,839.6 1449.7,828.4 1451,832.7 1452.3,838.5 1453.6,833.2 1454.9,822.6 1456.2,829.3 1457.5,830.4 1458.8,814.4 1460.1,829.7 1461.4,826.9 1462.7,808 1464,813.1 1465.3,845.1 1466.6,829.6 1467.9,840.9 1469.2,826 1470.5,844.2 1471.8,836.1 1473.1,824 1474.4,833.2 1475.7,845.6 1477,853.7 1478.3,836.5 1479.6,828 1480.9,824.1 1482.2,838.4 1483.5,842 1484.8,833.3 1486.1,831.1 1487.4,839.7 1488.7,836.9 1490,836.1 1491.3,819.3 1492.6,830.8 1493.9,850.7 1495.2,833.2 1496.5,855.6 1497.8,837.5 1499.1,831.3 1500.4,836.1 1501.7,839.5 1503,827.6 1504.3,837.1 1505.6,830.8 1506.9,847.4 1508.2,829.9 1509.5,835.5 1510.8,819.9 1512.1,821.4 1513.4,832.8 1514.7,825.8 1516,832.2 1517.3,837.8 1518.6,840 1519.9,822.7 1521.2,834.3 1522.5,842.1 1523.8,825.5 1525.1,824.2 1526.4,829.9 1527.7,851.9 1529,837.5 1530.3,851 1531.6,834.1 1532.9,848.1 1534.2,823.7 1535.5,834.8 1536.8,839.6 1538.1,854.5 1539.4,843.2 1540.7,849.6 1542,834.7 1543.3,834.5 1544.6,849.9 1545.9,850.5 1547.2,848.9 1548.5,848.6 1549.8,832.6 1551.1,858.6 1552.4,840.3 1553.7,849.9 1555,845.4 1556.3,821.2 1557.6,820 1558.9,822.6 1560.2,837.5 1561.5,849.7 1562.8,836.9 1564.1,847.3 1565.4,828.6 1566.7,833.9 1568,831.3 1569.3,840.3 1570.6,828.5 1571.9,839.1 1573.2,849.8 1574.5,835.1 1575.8,831.3 1577.1,835.7 1578.4,829 1579.7,831.5 1581,849 1582.3,845.2 1583.6,828.6 1584.9,840 1586.2,848.3 1587.5,851.4 1588.8,849.8 1590.1,853.8 1591.4,844.3 1592.7,844.9 1594,842.8 1595.3,855.9 1596.6,854 1597.9,872.4 1599.2,857 1600.5,838.1 1601.8,832.3 1603.1,833.1 1604.4,837.3 1605.7,855.9 1607,832.1 1608.3,825.9 1609.6,844.6 1610.9,859.6 1612.2,854.5 1613.5,864.1 1614.8,848.4 1616.1,843.5 1617.4,846.5 1618.7,836.3 1620,843.4 1621.3,863 1622.6,877.6 1623.9,864 1625.2,855 1626.5,850 1627.8,855.5 1629.1,834.3 1630.4,858.3 1631.7,860.4 1633,851.7 1634.3,852.2 1635.6,836.1 1636.9,860.3 1638.2,860.6 1639.5,827.5 1640.8,848.2 1642.1,857.4 1643.4,871.6 1644.7,846.8 1646,855.3 1647.3,871.4 1648.6,862.2 1649.9,855.6 1651.2,853.8 1652.5,859.5 1653.8,851 1655.1,869 1656.4,844.4 1657.7,864.5 1659,868.9 1660.3,872.1 1661.6,860.1 1662.9,860.2 1664.2,863.7 1665.5,861.4 1666.8,872.3 1668.1,859.9 1669.4,880.4 1670.7,889.2 1672,855.7 1673.3,866.9 1674.6,851.2 1675.9,870.6 1677.2,867.3 1678.5,860.9 1679.8,852.1 1681.1,864 1682.4,883.6 1683.7,879.2 1685,867.4 1686.3,853.3 1687.6,864 1688.9,856.3 1690.2,850.1 1691.5,854.8 1692.8,872 1694.1,868.3 1695.4,867.1 1696.7,845.3 1698,850 1699.3,875.3 1700.6,861.9 1701.9,876.5 1703.2,852 1704.5,875.2 1705.8,868.5 1707.1,861.5 1708.4,858.9 1709.7,885.3 1711,875.8 1712.3,863.6 1713.6,868.8 1714.9,849.6 1716.2,883.8 1717.5,880.5 1718.8,862.3 1720.1,872.1 1721.4,838.4 1722.7,878.4 1724,872.2 1725.3,870.4 1726.6,876.4 1727.9,870.2 1729.2,848.7 1730.5,858.7 1731.8,864.4 1733.1,876.3 1734.4,866.3 1735.7,859.2 1737,870.1 1738.3,853.2 1739.6,888.7 1740.9,869.3 1742.2,855.2 1743.5,868 1744.8,877.7 1746.1,872.2 1747.4,888.8 1748.7,851.7 1750,885.2 1751.3,867.7 1752.6,877.8 1753.9,886.9 1755.2,855.2 1756.5,852.9 1757.8,864 1759.1,848.9 1760.4,844.8 1761.7,868.3 1763,880.9 1764.3,863.4 1765.6,874.4 1766.9,898.7 1768.2,873 1769.5,866 1770.8,867.5 1772.1,874.9 1773.4,864.8 1774.7,877.7 1776,873.8 1777.3,880.3 1778.6,873.4 1779.9,870.2 1781.2,859.2 1782.5,854 1783.8,866.4 1785.1,862.7 1786.4,874 1787.7,870.4 1789,866.5 1790.3,896.8 1791.6,874.3 1792.9,885.5 1794.2,851.7 1795.5,890.7 1796.8,884 1798.1,875.9 1799.4,853.6 1800.7,885.6 1802,862.1 1803.3,852.5 1804.6,852 1805.9,872.2 1807.2,865.1 1808.5,880.9 1809.8,879.3 1811.1,887.9 1812.4,876.7 1813.7,873.7 1815,872 1816.3,863.2 1817.6,862.7 1818.9,862.8 1820.2,874.3 1821.5,861 1822.8,868.7 1824.1,883.1 1825.4,838.2 1826.7,859.7 1828,859 1829.3,869.5 1830.6,851.8 1831.9,861.7 1833.2,896.7 1834.5,853.9 1835.8,868.2 1837.1,871.5 1838.4,865.9 1839.7,855.1 1841,881.5 1842.3,847 1843.6,858 1844.9,865.5 1846.2,861.1 1847.5,881.4 1848.8,862.9 1850.1,889.4 1851.4,865.7 1852.7,884.3 1854,871.6 1855.3,863.4 1856.6,863.7 1857.9,879.8 1859.2,860 1860.5,866.1 1861.8,856 1863.1,840.4 1864.4,871.1 1865.7,871.6 1867,848 1868.3,869 1869.6,859.4 1870.9,839 1872.2,842.3 1873.5,871.7 1874.8,876.5 1876.1,869 1877.4,898 1878.7,868.8 1880,855.3 1881.3,845.2 1882.6,882 1883.9,857.7 1885.2,858.7 1886.5,852.9 1887.8,851.5 1889.1,855.9 1890.4,866.5 1891.7,865.9 1893,863.4 1894.3,870.6 1895.6,852.4 1896.9,846.4 1898.2,857.8 1899.5,833 1900.8,869 1902.1,864.8 1903.4,864.3 1904.7,842.8 1906,846 1907.3,857.2 1908.6,843.4 1909.9,842.5 1911.2,851.3 1912.5,856.2 1913.8,844.9 1915.1,866.5 1916.4,881.6 1917.7,859.8 1919,848.9 1920.3,847.8 1921.6,889.4 1922.9,856.8 1924.2,859.4 1925.5,854.6 1926.8,841.9 1928.1,885.3 1929.4,846.3 1930.7,850 1932,816.8 1933.3,883.2 1934.6,854.8 1935.9,842.6 1937.2,830.5 1938.5,831.9 1939.8,815.7 1941.1,847.1 1942.4,829 1943.7,847.3 1945,851.8 1946.3,868.7 1947.6,843.5 1948.9,843.4 1950.2,845.1 1951.5,826.5 1952.8,829.8 1954.1,837.1 1955.4,860.3 1956.7,839.7 1958,822.8 1959.3,845.1 1960.6,819.1 1961.9,800.7 1963.2,845.7 1964.5,820.6 1965.8,811.5 1967.1,798.6 1968.4,808.1 1969.7,839.2 1971,811.1 1972.3,845.5 1973.6,809.9 1974.9,826.7 1976.2,807.7 1977.5,796.4 1978.8,792.5 1980.1,797.8 1981.4,781.6 1982.7,779.1 1984,804 1985.3,817 1986.6,798.7 1987.9,796.2 1989.2,776.7 1990.5,809.2 1991.8,807 1993.1,766.8 1994.4,785.6 1995.7,778.4 1997,756.4 1998.3,827.7 1999.6,801.4 2000.9,784.3 2002.2,820.5 2003.5,766.3 2004.8,778.2 2006.1,795.4 2007.4,763.8 2008.7,776.5 2010,746.6 2011.3,773.9 2012.6,782.2 2013.9,739.7 2015.2,740.3 2016.5,751.6 2017.8,795.5 2019.1,738 2020.4,727.8 2021.7,736.9 2023,757.2 2024.3,703.1 2025.6,724.5 2026.9,750 2028.2,721.7 2029.5,714.6 2030.8,745.9 2032.1,690.8 2033.4,750.4 2034.7,715.5 2036,693.8 2037.3,698.6 2038.6,690.4 2039.9,683 2041.2,659.4 2042.5,675.1 2043.8,640.7 2045.1,698.5 2046.4,643 2047.7,646.3 2049,639.5 2050.3,666 2051.6,643.5 2052.9,673.1 2054.2,630.5 2055.5,638.4 2056.8,631.4 2058.1,621.4 2059.4,648.1 2060.7,645.9 2062,644.4 2063.3,581.9 2064.6,613.3 2065.9,576 2067.2,570.5 2068.5,551 2069.8,564.2 2071.1,592.9 2072.4,605.8 2073.7,611.6 2075,549.1 2076.3,553.1 2077.6,569.5 2078.9,565.2 2080.2,563.5 2081.5,516.6 2082.8,548.6 2084.1,563.3 2085.4,551.1 2086.7,540.3 2088,522.1 2089.3,534.3 2090.6,570.9 2091.9,542.5 2093.2,569.3 2094.5,562.8 2095.8,492.2 2097.1,529.7 2098.4,522 2099.7,537.6 2101,491.6 2102.3,492.3 2103.6,477.4 2104.9,494.2 2106.2,477.9 2107.5,475.7 2108.8,483.9 2110.1,459.4 2111.4,439.5 2112.7,446.4 2114,437.6 2115.3,463.5 2116.6,470.1 2117.9,420.7 2119.2,372.5 2120.5,445.6 2121.8,428.1 2123.1,403.8 2124.4,418.6 2125.7,467.4 2127,377.6 2128.3,381.2 2129.6,402 2130.9,328.2 2132.2,376.4 2133.5,422.6 2134.8,389.7 2136.1,383.6 2137.4,351.6"/>
<polyline fill="none" stroke="#0000ff" stroke-width="3.7" stroke-linejoin="round" stroke-linecap="round" points="345,622.8 346.3,430.3 347.6,593.6 348.9,558.3 350.2,615.3 351.5,575.4 352.8,642.4 354.1,569.4 355.4,530.9 356.7,589.9 358,584.7 359.3,555.2 360.6,566.6 361.9,609.6 363.2,610.6 364.5,564.7 365.8,576.5 367.1,520 368.4,707 369.7,577.9 371,649.8 372.3,618.4 373.6,679.8 374.9,666 376.2,618.7 377.5,712.9 378.8,573.4 380.1,667 381.4,552.3 382.7,630.8 384,656.6 385.3,625.5 386.6,605.1 387.9,562.6 389.2,606.9 390.5,663.5 391.8,685 393.1,615.9 394.4,572.3 395.7,651.1 397,568.5 398.3,605 399.6,599.8 400.9,661.6 402.2,643.5 403.5,656 404.8,655.8 406.1,612.2 407.4,660.3 408.7,695.5 410,638.4 411.3,668.4 412.6,637.2 413.9,682.4 415.2,670.4 416.5,678.5 417.8,658.9 419.1,706.9 420.4,630.8 421.7,637 423,627.3 424.3,674 425.6,632.3 426.9,615.9 428.2,685.1 429.5,702.7 430.8,681.6 432.1,565.8 433.4,628.8 434.7,626.5 436,622.6 437.3,651 438.6,730.1 439.9,649.7 441.2,641.4 442.5,709.2 443.8,672.5 445.1,677.5 446.4,652.1 447.7,676.4 449,689.6 450.3,615.5 451.6,626.9 452.9,742 454.2,708.4 455.5,665.9 456.8,649.1 458.1,680.4 459.4,648.3 460.7,674.5 462,736.5 463.3,689.1 464.6,723.2 465.9,681.6 467.2,699.4 468.5,762.3 469.8,648.7 471.1,681.6 472.4,687.4 473.7,702 475,740 476.3,716.4 477.6,648.9 478.9,687.1 480.2,670.3 481.5,671.3 482.8,759.2 484.1,644.2 485.4,703.8 486.7,664.6 488,727.7 489.3,713.6 490.6,707.8 491.9,702.6 493.2,740.2 494.5,681.4 495.8,688.4 497.1,678.2 498.4,748.5 499.7,703.3 501,683.5 502.3,700.5 503.6,783 504.9,709.8 506.2,736.2 507.5,726.4 508.8,715.3 510.1,684.3 511.4,709.5 512.7,704.9 514,662.7 515.3,791.8 516.6,747.9 517.9,727 519.2,721.8 520.5,707.4 521.8,752.4 523.1,725.2 524.4,744.1 525.7,694.6 527,738.3 528.3,777.8 529.6,721.2 530.9,749.2 532.2,732 533.5,756.1 534.8,757.2 536.1,734.7 537.4,720.3 538.7,740.9 540,735.3 541.3,719.6 542.6,746.3 543.9,748.4 545.2,714.8 546.5,734 547.8,802.7 549.1,758.9 550.4,740.3 551.7,795.5 553,725.9 554.3,675.2 555.6,692.8 556.9,698.8 558.2,738 559.5,755.5 560.8,684.8 562.1,758.4 563.4,705.6 564.7,739.5 566,753.3 567.3,746.6 568.6,734.8 569.9,739.3 571.2,710.9 572.5,743.1 573.8,757.9 575.1,757.6 576.4,795.5 577.7,781.9 579,759.6 580.3,780.6 581.6,750.6 582.9,718 584.2,697.2 585.5,769.3 586.8,755.3 588.1,759.4 589.4,735.3 590.7,755.2 592,783.4 593.3,752.7 594.6,724.8 595.9,737.3 597.2,794.2 598.5,726 599.8,697.6 601.1,704.9 602.4,724.7 603.7,766.9 605,753.8 606.3,737 607.6,726.9 608.9,747.9 610.2,747.2 611.5,739.6 612.8,745.3 614.1,736.6 615.4,785.3 616.7,703.3 618,759.3 619.3,737.6 620.6,771 621.9,755.1 623.2,772.3 624.5,771 625.8,765 627.1,779.4 628.4,737.4 629.7,778.9 631,759.8 632.3,770.8 633.6,793.4 634.9,786.5 636.2,802 637.5,730.5 638.8,753.3 640.1,784.8 641.4,751.2 642.7,767.7 644,798.8 645.3,796.2 646.6,755.6 647.9,779.6 649.2,785.2 650.5,775 651.8,771.6 653.1,777.8 654.4,751.6 655.7,780.3 657,761.5 658.3,782.4 659.6,783.7 660.9,763.3 662.2,786.9 663.5,783.3 664.8,778.6 666.1,790.6 667.4,775 668.7,776.2 670,781.6 671.3,780.2 672.6,798.9 673.9,736.1 675.2,775.4 676.5,749.6 677.8,773.5 679.1,786.7 680.4,782.7 681.7,808.7 683,788.4 684.3,741.9 685.6,766 686.9,807.5 688.2,806.7 689.5,784.9 690.8,759.6 692.1,818.1 693.4,752.4 694.7,789.9 696,785.6 697.3,791.6 698.6,769.5 699.9,783.9 701.2,817.7 702.5,782.5 703.8,769.7 705.1,791.7 706.4,793.2 707.7,788 709,779.2 710.3,802.1 711.6,793.5 712.9,778.6 714.2,801.7 715.5,798.4 716.8,802.1 718.1,760.6 719.4,788.2 720.7,806.9 722,813.9 723.3,805.1 724.6,801.6 725.9,809.9 727.2,815.1 728.5,827.5 729.8,808.1 731.1,793.6 732.4,810.9 733.7,775.8 735,807.2 736.3,799.2 737.6,806.1 738.9,814.3 740.2,807.7 741.5,784.7 742.8,801.3 744.1,795.5 745.4,807.9 746.7,813.2 748,792.9 749.3,818.4 750.6,826.5 751.9,803.4 753.2,819.4 754.5,771.7 755.8,801.3 757.1,835 758.4,785 759.7,804.6 761,789.1 762.3,826.8 763.6,827.8 764.9,803 766.2,813.4 767.5,774.3 768.8,825.1 770.1,819.5 771.4,834.7 772.7,776.8 774,820.5 775.3,811 776.6,776.7 777.9,806.6 779.2,814.9 780.5,827.4 781.8,819.5 783.1,810.8 784.4,824.9 785.7,818.2 787,809.9 788.3,805.8 789.6,824.5 790.9,823.3 792.2,847.8 793.5,816.5 794.8,845.8 796.1,828.8 797.4,840.5 798.7,809.7 800,810.9 801.3,819.2 802.6,836 803.9,826.3 805.2,834 806.5,828.1 807.8,838.7 809.1,828.2 810.4,818.6 811.7,833 813,828.1 814.3,863.9 815.6,825.1 816.9,828.8 818.2,823.4 819.5,842.7 820.8,839.3 822.1,837 823.4,811.6 824.7,808.5 826,832.6 827.3,839.1 828.6,849.6 829.9,805.1 831.2,827 832.5,807.4 833.8,817.8 835.1,828.1 836.4,843.8 837.7,823.8 839,822.6 840.3,827.3 841.6,847 842.9,861.9 844.2,811.1 845.5,827.6 846.8,826.7 848.1,848.3 849.4,840.1 850.7,855.8 852,822.7 853.3,835.4 854.6,830.9 855.9,822.9 857.2,834.3 858.5,820.9 859.8,863.9 861.1,842.8 862.4,826.2 863.7,825.6 865,873.2 866.3,834 867.6,849.4 868.9,848.1 870.2,854.1 871.5,847.7 872.8,837.4 874.1,833 875.4,807.4 876.7,840.5 878,843.1 879.3,837.5 880.6,840.9 881.9,818.1 883.2,869.4 884.5,837.8 885.8,831.5 887.1,836.9 888.4,841.9 889.7,853 891,815 892.3,851 893.6,836.6 894.9,842.7 896.2,856.7 897.5,855.2 898.8,838.3 900.1,846.3 901.4,870.3 902.7,864.6 904,859.9 905.3,850.9 906.6,860.8 907.9,858.1 909.2,843.7 910.5,838.9 911.8,860.7 913.1,853 914.4,862.7 915.7,844.3 917,865.6 918.3,845.6 919.6,864.3 920.9,857.3 922.2,841.9 923.5,842.3 924.8,851.6 926.1,850.5 927.4,865.1 928.7,846.8 930,838.6 931.3,854.8 932.6,877.3 933.9,887 935.2,849.7 936.5,853 937.8,860.1 939.1,848.5 940.4,853.7 941.7,853.3 943,844.5 944.3,850.6 945.6,852.2 946.9,860 948.2,845 949.5,860.8 950.8,848 952.1,850.8 953.4,847.2 954.7,889.7 956,883.2 957.3,873.9 958.6,868.3 959.9,857 961.2,860.6 962.5,864.2 963.8,869.2 965.1,868.1 966.4,879 967.7,832.7 969,856.9 970.3,869.6 971.6,858.1 972.9,860 974.2,879.8 975.5,866.3 976.8,883.8 978.1,864.1 979.4,869 980.7,854.7 982,844.2 983.3,861.1 984.6,866.6 985.9,862.7 987.2,852.7 988.5,874 989.8,868.3 991.1,869 992.4,861 993.7,887.7 995,885.3 996.3,873.4 997.6,868.2 998.9,872.4 1000.2,888.3 1001.5,898.6 1002.8,869.6 1004.1,863.3 1005.4,851.9 1006.7,899.8 1008,859.9 1009.3,880.7 1010.6,877.9 1011.9,887.3 1013.2,864.4 1014.5,856.4 1015.8,876.1 1017.1,880.2 1018.4,888.4 1019.7,858.7 1021,871.3 1022.3,872.9 1023.6,861.2 1024.9,873.6 1026.2,882.9 1027.5,874 1028.8,859.9 1030.1,878.8 1031.4,884.9 1032.7,886.3 1034,885.1 1035.3,860 1036.6,882.3 1037.9,884.1 1039.2,872.7 1040.5,878.5 1041.8,871.6 1043.1,892.6 1044.4,878 1045.7,872.4 1047,884.4 1048.3,883.9 1049.6,890.7 1050.9,869.3 1052.2,877.6 1053.5,891.3 1054.8,907.2 1056.1,889.1 1057.4,870.3 1058.7,885.7 1060,876.9 1061.3,865.4 1062.6,877.4 1063.9,879.1 1065.2,890.3 1066.5,900.8 1067.8,899.8 1069.1,897.2 1070.4,886.1 1071.7,892.8 1073,891.5 1074.3,905.2 1075.6,884.8 1076.9,885.9 1078.2,906.6 1079.5,901.7 1080.8,887.7 1082.1,893.5 1083.4,894.3 1084.7,894.3 1086,901.2 1087.3,897.6 1088.6,892.6 1089.9,889.6 1091.2,878.2 1092.5,891.5 1093.8,908.1 1095.1,899 1096.4,890.4 1097.7,895 1099,889.2 1100.3,901.1 1101.6,918.2 1102.9,917.3 1104.2,912 1105.5,908.2 1106.8,899.2 1108.1,890.1 1109.4,902.4 1110.7,898.5 1112,910.3 1113.3,904.5 1114.6,898.3 1115.9,908.2 1117.2,930.1 1118.5,896.5 1119.8,916.3 1121.1,915.7 1122.4,905 1123.7,893.8 1125,906.8 1126.3,911 1127.6,913.7 1128.9,913.6 1130.2,913.2 1131.5,901.9 1132.8,911.4 1134.1,904.5 1135.4,899.4 1136.7,919 1138,904.5 1139.3,899.5 1140.6,911.1 1141.9,892.7 1143.2,911 1144.5,916 1145.8,908 1147.1,915.5 1148.4,932.4 1149.7,926.7 1151,922.6 1152.3,919.8 1153.6,909.5 1154.9,913.4 1156.2,913.6 1157.5,917.7 1158.8,918.7 1160.1,908.9 1161.4,932.4 1162.7,908 1164,921.5 1165.3,927.6 1166.6,916.6 1167.9,910.9 1169.2,919.6 1170.5,938.5 1171.8,925.3 1173.1,916.9 1174.4,926.1 1175.7,919.5 1177,903.2 1178.3,923.1 1179.6,930.5 1180.9,932.6 1182.2,922.1 1183.5,909.6 1184.8,942.5 1186.1,922.3 1187.4,935.9 1188.7,935.2 1190,928.3 1191.3,925.1 1192.6,920.1 1193.9,923 1195.2,928.6 1196.5,921 1197.8,932.4 1199.1,911.1 1200.4,920 1201.7,929.4 1203,923.2 1204.3,924.7 1205.6,919.3 1206.9,941.3 1208.2,946 1209.5,921.4 1210.8,942.2 1212.1,908.6 1213.4,933.3 1214.7,913.5 1216,940.4 1217.3,933.2 1218.6,934.7 1219.9,944.4 1221.2,938.4 1222.5,933 1223.8,921.6 1225.1,935.7 1226.4,929.7 1227.7,932.3 1229,951.2 1230.3,946.2 1231.6,941.2 1232.9,944 1234.2,925.2 1235.5,939.1 1236.8,923.2 1238.1,933.5 1239.4,943.5 1240.7,943.7 1242,947 1243.3,941.8 1244.6,942.2 1245.9,941.5 1247.2,955.2 1248.5,954.9 1249.8,929.4 1251.1,944.6 1252.4,955.7 1253.7,940.6 1255,945.3 1256.3,937.5 1257.6,932.5 1258.9,945.5 1260.2,940.3 1261.5,943.1 1262.8,931.3 1264.1,934.1 1265.4,944.2 1266.7,940.3 1268,949.5 1269.3,928.4 1270.6,953 1271.9,951.7 1273.2,947.9 1274.5,952.8 1275.8,946.9 1277.1,946.2 1278.4,947.6 1279.7,936.5 1281,948.3 1282.3,956.4 1283.6,926.3 1284.9,956.6 1286.2,938.6 1287.5,946.4 1288.8,950.2 1290.1,952.7 1291.4,962.2 1292.7,948.5 1294,965.6 1295.3,950.9 1296.6,955.4 1297.9,960.6 1299.2,939.7 1300.5,941.2 1301.8,952.2 1303.1,957.8 1304.4,959.7 1305.7,945.8 1307,968.6 1308.3,952.1 1309.6,947.3 1310.9,964.6 1312.2,965.5 1313.5,946.4 1314.8,962.9 1316.1,944.2 1317.4,956.3 1318.7,977.3 1320,977.2 1321.3,964.4 1322.6,963.4 1323.9,950.3 1325.2,961.1 1326.5,962.3 1327.8,942.2 1329.1,960.2 1330.4,963.6 1331.7,961.8 1333,963.5 1334.3,957.3 1335.6,949.8 1336.9,960.6 1338.2,942.3 1339.5,949.1 1340.8,968.9 1342.1,976 1343.4,964 1344.7,938.9 1346,981.9 1347.3,966.6 1348.6,959.9 1349.9,969 1351.2,966.8 1352.5,951.6 1353.8,950.3 1355.1,971.2 1356.4,941.4 1357.7,968.2 1359,965.7 1360.3,972.3 1361.6,980 1362.9,976.3 1364.2,979.1 1365.5,972.8 1366.8,969.3 1368.1,975.3 1369.4,965.8 1370.7,957.1 1372,964.8 1373.3,951.4 1374.6,961.2 1375.9,985 1377.2,974.5 1378.5,964.4 1379.8,960.7 1381.1,941.5 1382.4,961.7 1383.7,959.5 1385,967.2 1386.3,968.7 1387.6,968 1388.9,952 1390.2,982.4 1391.5,976.2 1392.8,970.1 1394.1,967.2 1395.4,973.7 1396.7,981 1398,975.2 1399.3,959.6 1400.6,958.7 1401.9,948.1 1403.2,969.7 1404.5,975.3 1405.8,980 1407.1,970.7 1408.4,977.1 1409.7,962.1 1411,978.5 1412.3,970 1413.6,964.9 1414.9,956.1 1416.2,981.7 1417.5,951.7 1418.8,977.4 1420.1,965 1421.4,978.1 1422.7,968.3 1424,979.5 1425.3,970.6 1426.6,963.2 1427.9,968 1429.2,958.5 1430.5,975.1 1431.8,982 1433.1,976.6 1434.4,974.6 1435.7,993.1 1437,964.4 1438.3,979.5 1439.6,974.6 1440.9,967.5 1442.2,980 1443.5,965.6 1444.8,974.7 1446.1,978 1447.4,965.5 1448.7,974 1450,981.3 1451.3,984.9 1452.6,967.8 1453.9,984.1 1455.2,974.1 1456.5,977.6 1457.8,972.6 1459.1,989.1 1460.4,971.7 1461.7,980.3 1463,982 1464.3,985.9 1465.6,970.8 1466.9,985.6 1468.2,979.9 1469.5,992.3 1470.8,976.9 1472.1,974.5 1473.4,978.7 1474.7,976.7 1476,978.2 1477.3,968.3 1478.6,962.1 1479.9,968.3 1481.2,972.9 1482.5,986 1483.8,979.2 1485.1,974.3 1486.4,980 1487.7,982.1 1489,1005.2 1490.3,992.7 1491.6,983.2 1492.9,969.7 1494.2,981.6 1495.5,981 1496.8,988.9 1498.1,1001.8 1499.4,983.3 1500.7,966.3 1502,982 1503.3,968.1 1504.6,989.6 1505.9,992.4 1507.2,986.7 1508.5,971.2 1509.8,982 1511.1,995.1 1512.4,975.9 1513.7,979.5 1515,986.7 1516.3,988.8 1517.6,985.2 1518.9,987.8 1520.2,987.3 1521.5,977.4 1522.8,986.1 1524.1,989.4 1525.4,977.2 1526.7,988.2 1528,988 1529.3,990.8 1530.6,989.6 1531.9,976.4 1533.2,974.9 1534.5,988.3 1535.8,984.8 1537.1,986.9 1538.4,981.4 1539.7,975.8 1541,990.6 1542.3,987.4 1543.6,998 1544.9,1006.3 1546.2,999.6 1547.5,999.7 1548.8,983 1550.1,972.9 1551.4,986.9 1552.7,982.6 1554,981.3 1555.3,998.7 1556.6,978.4 1557.9,1000.3 1559.2,1001.8 1560.5,1015.7 1561.8,1007.9 1563.1,1010.8 1564.4,986.9 1565.7,986.1 1567,1001.8 1568.3,982.1 1569.6,1005.2 1570.9,992.6 1572.2,978.1 1573.5,1013.5 1574.8,987.7 1576.1,1020.4 1577.4,984.7 1578.7,985.4 1580,1001.9 1581.3,998.3 1582.6,972.9 1583.9,997.9 1585.2,999.1 1586.5,1001.7 1587.8,982.8 1589.1,991.9 1590.4,997.2 1591.7,1006.3 1593,1001 1594.3,996.1 1595.6,995.4 1596.9,1012.2 1598.2,991.1 1599.5,1003.9 1600.8,979.8 1602.1,1015.8 1603.4,1007.3 1604.7,984.3 1606,1006.8 1607.3,1014.5 1608.6,1008.8 1609.9,1002.2 1611.2,1009.6 1612.5,994.9 1613.8,999.2 1615.1,998.7 1616.4,1002.7 1617.7,992.5 1619,1014.6 1620.3,1000.7 1621.6,992.3 1622.9,1001.1 1624.2,1008.2 1625.5,1003.1 1626.8,1013.4 1628.1,1000.2 1629.4,996.1 1630.7,1008 1632,1014.9 1633.3,994.3 1634.6,988.4 1635.9,997.7 1637.2,1003.1 1638.5,994.5 1639.8,1006 1641.1,995.5 1642.4,1012.3 1643.7,985.7 1645,989.4 1646.3,1005.6 1647.6,1012.3 1648.9,1015.4 1650.2,1000.9 1651.5,1007.3 1652.8,1012.1 1654.1,1021.2 1655.4,999.1 1656.7,995.2 1658,1011.9 1659.3,1004.7 1660.6,1020.6 1661.9,1007.8 1663.2,1012.9 1664.5,999.9 1665.8,1010.1 1667.1,1019.6 1668.4,1005.5 1669.7,996.4 1671,1015.6 1672.3,1003.9 1673.6,1008.4 1674.9,1000.7 1676.2,1022.1 1677.5,1000.3 1678.8,1002.7 1680.1,1008.1 1681.4,1004.7 1682.7,986.2 1684,1015.6 1685.3,996.7 1686.6,1010.6 1687.9,1005 1689.2,1008.1 1690.5,1002.4 1691.8,998.6 1693.1,1011.1 1694.4,1011.8 1695.7,1019.6 1697,1015 1698.3,1003.1 1699.6,1021.6 1700.9,1032.5 1702.2,1017.5 1703.5,1009.9 1704.8,1002.2 1706.1,1012.3 1707.4,997.3 1708.7,1019.1 1710,1007.8 1711.3,1001.4 1712.6,1013.4 1713.9,999 1715.2,993.8 1716.5,1006.8 1717.8,1023.2 1719.1,1001.8 1720.4,1019.3 1721.7,992.9 1723,1010.1 1724.3,1016.5 1725.6,1038.9 1726.9,994.2 1728.2,1011.2 1729.5,1003 1730.8,1015.1 1732.1,1006.9 1733.4,1013.5 1734.7,1004.4 1736,1006.2 1737.3,1016.1 1738.6,1037.5 1739.9,1013.9 1741.2,1013.4 1742.5,1007.6 1743.8,1028.4 1745.1,993.1 1746.4,992.9 1747.7,1004.6 1749,1017.6 1750.3,1028.5 1751.6,1021.5 1752.9,1025.5 1754.2,1014.4 1755.5,1009.2 1756.8,996.3 1758.1,1019.6 1759.4,998.4 1760.7,1019.1 1762,1022.2 1763.3,1007.9 1764.6,1009.5 1765.9,1008.2 1767.2,1020.5 1768.5,1015.6 1769.8,1007.9 1771.1,1018.2 1772.4,1031.4 1773.7,1017.6 1775,1015.6 1776.3,1010.7 1777.6,1005 1778.9,1015 1780.2,1016.2 1781.5,1009.4 1782.8,1027.9 1784.1,1010.6 1785.4,1013.8 1786.7,1017.2 1788,1020.7 1789.3,995.2 1790.6,1017.2 1791.9,1028 1793.2,1003.7 1794.5,1021.9 1795.8,1010.5 1797.1,1005.1 1798.4,1018.8 1799.7,1014.4 1801,993.8 1802.3,1010.9 1803.6,1026.2 1804.9,1011.4 1806.2,1011 1807.5,1015.2 1808.8,1014.2 1810.1,1028.1 1811.4,1010.3 1812.7,1008.1 1814,1025.3 1815.3,1030.6 1816.6,1028 1817.9,1029.5 1819.2,1013.5 1820.5,1003.7 1821.8,1011.7 1823.1,1019.6 1824.4,990.9 1825.7,1016.7 1827,1025.5 1828.3,1010.3 1829.6,1040.2 1830.9,1026.4 1832.2,994.3 1833.5,1003.7 1834.8,1008.3 1836.1,1025.3 1837.4,1026.1 1838.7,1011.1 1840,1018.5 1841.3,1025.4 1842.6,1022.8 1843.9,999.2 1845.2,1003.5 1846.5,1005.6 1847.8,985.2 1849.1,1024.4 1850.4,1007.2 1851.7,1006.5 1853,1003.5 1854.3,1017 1855.6,1019.3 1856.9,1020.5 1858.2,1027 1859.5,1002.1 1860.8,1030.8 1862.1,1040.1 1863.4,1006 1864.7,1008 1866,1018.7 1867.3,1026 1868.6,1008.3 1869.9,1002.4 1871.2,1034.6 1872.5,1004.1 1873.8,977.3 1875.1,1013.9 1876.4,1026.6 1877.7,1026.8 1879,1038.5 1880.3,1038.9 1881.6,1000.7 1882.9,996 1884.2,989.8 1885.5,1026.4 1886.8,1001.5 1888.1,985.1 1889.4,979.2 1890.7,1003.4 1892,996.2 1893.3,1004.9 1894.6,990.5 1895.9,989.8 1897.2,1003.3 1898.5,995.7 1899.8,1005.2 1901.1,996.2 1902.4,993.3 1903.7,1000.3 1905,992.1 1906.3,998.9 1907.6,1000.6 1908.9,988.5 1910.2,992.7 1911.5,994.9 1912.8,1000.7 1914.1,995.6 1915.4,996.1 1916.7,997.9 1918,986.9 1919.3,994.1 1920.6,980.5 1921.9,966.2 1923.2,997 1924.5,962.5 1925.8,985 1927.1,1006.1 1928.4,994.4 1929.7,960.5 1931,991.2 1932.3,983 1933.6,959.7 1934.9,975.3 1936.2,968 1937.5,970.5 1938.8,980.9 1940.1,952.4 1941.4,984.2 1942.7,997.6 1944,967.2 1945.3,945.8 1946.6,962 1947.9,983.3 1949.2,957.9 1950.5,970 1951.8,994.7 1953.1,951.9 1954.4,962.9 1955.7,951.6 1957,952.1 1958.3,957.2 1959.6,943 1960.9,958.5 1962.2,952 1963.5,963.5 1964.8,962.8 1966.1,951.2 1967.4,965.9 1968.7,939.8 1970,949.9 1971.3,930 1972.6,959.6 1973.9,925.8 1975.2,949.1 1976.5,922.3 1977.8,934.8 1979.1,914.1 1980.4,917.4 1981.7,913 1983,937.3 1984.3,932 1985.6,934.8 1986.9,928.1 1988.2,919.1 1989.5,931.9 1990.8,943.9 1992.1,913.3 1993.4,905.6 1994.7,925.6 1996,947.1 1997.3,909.2 1998.6,902.1 1999.9,888.7 2001.2,890.3 2002.5,883.6 2003.8,878.5 2005.1,907.4 2006.4,908.2 2007.7,885.1 2009,881.7 2010.3,890.7 2011.6,874.9 2012.9,873.8 2014.2,880.6 2015.5,866.6 2016.8,886.5 2018.1,907.4 2019.4,859.2 2020.7,860.3 2022,838.2 2023.3,842.2 2024.6,849.6 2025.9,854.7 2027.2,840.5 2028.5,820.5 2029.8,847.8 2031.1,828.6 2032.4,843.9 2033.7,830.1 2035,827.8 2036.3,825.2 2037.6,769.1 2038.9,858.6 2040.2,797.3 2041.5,817.2 2042.8,818.2 2044.1,793.9 2045.4,761.4 2046.7,812.8 2048,781.2 2049.3,794.5 2050.6,801.3 2051.9,778.9 2053.2,750.5 2054.5,765.5 2055.8,782.5 2057.1,752.2 2058.4,781.9 2059.7,729.2 2061,736.8 2062.3,717.9 2063.6,729.9 2064.9,776.3 2066.2,752.6 2067.5,728.3 2068.8,712.1 2070.1,750.4 2071.4,718.5 2072.7,682.3 2074,744.7 2075.3,679.8 2076.6,706.2 2077.9,709.8 2079.2,711.2 2080.5,725.7 2081.8,694.6 2083.1,655.9 2084.4,690.1 2085.7,668.1 2087,631.3 2088.3,630 2089.6,632.5 2090.9,599.3 2092.2,651.8 2093.5,652.3 2094.8,644.8 2096.1,611.1 2097.4,624.7 2098.7,648.3 2100,626.7 2101.3,610.8 2102.6,592.3 2103.9,606.6 2105.2,632.8 2106.5,602.5 2107.8,652.4 2109.1,658.5 2110.4,611.3 2111.7,554.8 2113,581.6 2114.3,614.7 2115.6,556.6 2116.9,558.4 2118.2,571.6 2119.5,627 2120.8,544.6 2122.1,503 2123.4,548.7 2124.7,544.1 2126,545.2 2127.3,520.2 2128.6,521.8 2129.9,489 2131.2,525.9 2132.5,496 2133.8,506.6 2135.1,470.1 2136.4,517.5 2137.7,488.6"/>
<polyline fill="none" stroke="#ff00ff" stroke-width="3.7" stroke-linejoin="round" stroke-linecap="round" points="345,825 346.3,730.3 347.6,697.1 348.9,638 350.2,769.2 351.5,860.7 352.8,796.1 354.1,818.2 355.4,844.7 356.7,734 358,928.8 359.3,727.4 360.6,801.8 361.9,927.8 363.2,767.7 364.5,780.1 365.8,743.9 367.1,807.2 368.4,657.9 369.7,739 371,868.8 372.3,794 373.6,771.3 374.9,810 376.2,809.4 377.5,798.4 378.8,819.5 380.1,700.1 381.4,819.5 382.7,748 384,825.2 385.3,785.6 386.6,734.9 387.9,788.1 389.2,741.6 390.5,850.9 391.8,801.9 393.1,850.9 394.4,742 395.7,886 397,788.7 398.3,873.7 399.6,847.1 400.9,742.8 402.2,817.9 403.5,776.9 404.8,827.7 406.1,879.2 407.4,843.2 408.7,865.6 410,749.5 411.3,819 412.6,831 413.9,872.3 415.2,785.3 416.5,866.5 417.8,836.9 419.1,744.4 420.4,771.4 421.7,843.8 423,762.7 424.3,717.9 425.6,868.5 426.9,838.4 428.2,811.4 429.5,830.3 430.8,805.2 432.1,795 433.4,800 434.7,839.3 436,927.9 437.3,798.6 438.6,820.2 439.9,814.5 441.2,767.1 442.5,840.5 443.8,866.2 445.1,790.6 446.4,891.2 447.7,796.7 449,871.1 450.3,878.7 451.6,805.2 452.9,732 454.2,803.4 455.5,761.3 456.8,766.5 458.1,807.9 459.4,883.8 460.7,819.3 462,815.2 463.3,743.5 464.6,794.7 465.9,761.2 467.2,844.5 468.5,801.6 469.8,822.9 471.1,824.7 472.4,820.1 473.7,871 475,849.3 476.3,814.4 477.6,834.4 478.9,866.1 480.2,882 481.5,829.8 482.8,877.7 484.1,799.2 485.4,813.5 486.7,722.9 488,849.7 489.3,780.6 490.6,782.8 491.9,857.3 493.2,793.8 494.5,802.1 495.8,867.5 497.1,827 498.4,866.7 499.7,818.3 501,862 502.3,872.1 503.6,837.3 504.9,901.1 506.2,824.4 507.5,833.6 508.8,845.3 510.1,878.3 511.4,835.9 512.7,833 514,856.4 515.3,894.2 516.6,837.2 517.9,810.3 519.2,850 520.5,876.6 521.8,825.3 523.1,858.8 524.4,793.2 525.7,855.1 527,859.7 528.3,874.2 529.6,870.7 530.9,877.1 532.2,824.8 533.5,876.9 534.8,806.7 536.1,838.1 537.4,889.7 538.7,882.3 540,803.1 541.3,889.5 542.6,846.4 543.9,818.9 545.2,864.2 546.5,863.8 547.8,899.9 549.1,814.2 550.4,843.8 551.7,851.6 553,803.6 554.3,917.3 555.6,909 556.9,842.5 558.2,873.8 559.5,854.2 560.8,869.9 562.1,830.3 563.4,883.9 564.7,828.9 566,899.8 567.3,880 568.6,927.7 569.9,789.5 571.2,861.2 572.5,829.7 573.8,862.4 575.1,877.1 576.4,840.4 577.7,829 579,822.3 580.3,875.6 581.6,904.4 582.9,924.5 584.2,874.3 585.5,850.2 586.8,868.6 588.1,839.2 589.4,837.9 590.7,904.6 592,870.2 593.3,888.2 594.6,873.8 595.9,912.5 597.2,916.4 598.5,863.2 599.8,877.1 601.1,872 602.4,918.6 603.7,917.6 605,882.2 606.3,943.6 607.6,890.2 608.9,859.1 610.2,840.1 611.5,885.8 612.8,895.8 614.1,874.9 615.4,896.9 616.7,935.6 618,888.3 619.3,920.9 620.6,925.9 621.9,900.4 623.2,876.2 624.5,906.3 625.8,909.4 627.1,937.2 628.4,882.4 629.7,857.4 631,896.6 632.3,900.6 633.6,886.4 634.9,916.8 636.2,904.9 637.5,923.9 638.8,883.9 640.1,886.6 641.4,898.7 642.7,888.7 644,923.2 645.3,910.1 646.6,898.2 647.9,928.6 649.2,910.1 650.5,919.8 651.8,915.4 653.1,897.6 654.4,895.3 655.7,899.7 657,878.9 658.3,893.3 659.6,915.6 660.9,906.3 662.2,882.8 663.5,946.4 664.8,882.2 666.1,914.4 667.4,918.2 668.7,929.3 670,891 671.3,908.6 672.6,905.1 673.9,931.1 675.2,916.5 676.5,922.5 677.8,927.2 679.1,946.2 680.4,922.4 681.7,926.6 683,894.1 684.3,924.9 685.6,888.9 686.9,930.1 688.2,915.2 689.5,897 690.8,892.8 692.1,910.6 693.4,913.3 694.7,902.1 696,904.5 697.3,906.4 698.6,903.1 699.9,909.2 701.2,918.8 702.5,938.5 703.8,928 705.1,907.9 706.4,946.1 707.7,939.6 709,916.4 710.3,938.8 711.6,911.9 712.9,907.7 714.2,908.3 715.5,947.8 716.8,921.3 718.1,923.2 719.4,920.1 720.7,913.2 722,929.8 723.3,933.3 724.6,955.9 725.9,910.2 727.2,950.7 728.5,945.7 729.8,896.4 731.1,940.8 732.4,952.1 733.7,944.4 735,930.4 736.3,929.7 737.6,894 738.9,931.5 740.2,929.7 741.5,912.3 742.8,930.4 744.1,917.1 745.4,964.4 746.7,897.6 748,915 749.3,895.2 750.6,922.5 751.9,930 753.2,928.1 754.5,916.9 755.8,940.5 757.1,931.2 758.4,945.4 759.7,927.1 761,902.2 762.3,927.9 763.6,915.1 764.9,944.3 766.2,922.9 767.5,929.1 768.8,933.3 770.1,911.4 771.4,929.4 772.7,948.1 774,920.6 775.3,932.3 776.6,937.6 777.9,923.3 779.2,929.2 780.5,941 781.8,926.2 783.1,935.7 784.4,932.4 785.7,919.4 787,916.1 788.3,964.1 789.6,955.2 790.9,934.1 792.2,950.8 793.5,953.4 794.8,952 796.1,933.9 797.4,918.4 798.7,920.9 800,936 801.3,960.2 802.6,964.4 803.9,938.9 805.2,937.5 806.5,960.5 807.8,981.8 809.1,930.9 810.4,949.3 811.7,946.5 813,937 814.3,936.8 815.6,936.2 816.9,940.6 818.2,918.6 819.5,941.1 820.8,960.7 822.1,953.8 823.4,955.2 824.7,949.6 826,949 827.3,973.3 828.6,945.3 829.9,950.2 831.2,965.2 832.5,947.6 833.8,929.3 835.1,939 836.4,941.2 837.7,944.2 839,940.9 840.3,960.2 841.6,957.6 842.9,955.4 844.2,944.4 845.5,963.1 846.8,963.4 848.1,978.6 849.4,941.7 850.7,948.8 852,969.1 853.3,936.4 854.6,955.5 855.9,954.6 857.2,953.4 858.5,940.7 859.8,953.9 861.1,933.9 862.4,969.2 863.7,947.6 865,955.9 866.3,953.3 867.6,959.1 868.9,958 870.2,960.7 871.5,951.1 872.8,956.6 874.1,942.2 875.4,935.2 876.7,946.1 878,944.7 879.3,939.6 880.6,949 881.9,964.6 883.2,962.8 884.5,952.2 885.8,961.8 887.1,962.4 888.4,992.2 889.7,939.4 891,962.7 892.3,943.1 893.6,975.4 894.9,956.7 896.2,966.2 897.5,966.2 898.8,970.7 900.1,929.2 901.4,949.6 902.7,964.9 904,948 905.3,972.2 906.6,980.3 907.9,949.8 909.2,960.9 910.5,974.8 911.8,990.5 913.1,980.8 914.4,977.2 915.7,959.2 917,970.5 918.3,971 919.6,961.9 920.9,973.5 922.2,964.6 923.5,964.1 924.8,994.5 926.1,966.6 927.4,992.9 928.7,966.9 930,970.4 931.3,957.1 932.6,965.5 933.9,991 935.2,972.5 936.5,948.5 937.8,989 939.1,955.4 940.4,968.7 941.7,973.4 943,952.9 944.3,993.5 945.6,990.9 946.9,971.6 948.2,980.7 949.5,973.8 950.8,969.5 952.1,973.3 953.4,959.7 954.7,972 956,971 957.3,998.8 958.6,959.9 959.9,992.6 961.2,986.1 962.5,979.5 963.8,970.7 965.1,998.9 966.4,994.9 967.7,977.8 969,975.7 970.3,981.9 971.6,999.7 972.9,969.1 974.2,980.4 975.5,993.2 976.8,963.8 978.1,979.4 979.4,993.3 980.7,972.4 982,979.4 983.3,964.7 984.6,986.7 985.9,969.5 987.2,979.2 988.5,987.9 989.8,978 991.1,993 992.4,996.4 993.7,988.5 995,994.3 996.3,979.8 997.6,958.9 998.9,992.7 1000.2,992.1 1001.5,979 1002.8,975.6 1004.1,998.6 1005.4,980.3 1006.7,981.1 1008,980.3 1009.3,1011.8 1010.6,977.7 1011.9,956.9 1013.2,984.8 1014.5,974.9 1015.8,967.2 1017.1,988.9 1018.4,982.2 1019.7,998.9 1021,986.3 1022.3,1002.7 1023.6,1001.3 1024.9,992.2 1026.2,1001 1027.5,1012 1028.8,999.3 1030.1,976.4 1031.4,992.6 1032.7,995.8 1034,1006.6 1035.3,991.5 1036.6,1006.2 1037.9,992.9 1039.2,995.2 1040.5,993.5 1041.8,995.3 1043.1,994.5 1044.4,1001.7 1045.7,988.7 1047,986.6 1048.3,995 1049.6,998.4 1050.9,993.3 1052.2,1001.6 1053.5,1001.2 1054.8,1014.7 1056.1,982.6 1057.4,1019.2 1058.7,974.2 1060,980.7 1061.3,1001.9 1062.6,989.6 1063.9,997.5 1065.2,990.4 1066.5,985.9 1067.8,985.9 1069.1,996.3 1070.4,1004.2 1071.7,1006.7 1073,1002 1074.3,997.7 1075.6,1014.6 1076.9,976.7 1078.2,1001.9 1079.5,1015.5 1080.8,1018.5 1082.1,1014.8 1083.4,1017.1 1084.7,1014.7 1086,1006.1 1087.3,982.4 1088.6,1001.8 1089.9,1004.7 1091.2,1023.5 1092.5,1003.1 1093.8,1003.4 1095.1,1013.3 1096.4,989 1097.7,1006.1 1099,1013.1 1100.3,1004.1 1101.6,1006.9 1102.9,989.8 1104.2,995.2 1105.5,1005.5 1106.8,1026.8 1108.1,1002.7 1109.4,1000 1110.7,994.7 1112,1016.4 1113.3,996.3 1114.6,1011.8 1115.9,1006 1117.2,1010.6 1118.5,1001.6 1119.8,1009.7 1121.1,1022.5 1122.4,1005.6 1123.7,1003.7 1125,983.9 1126.3,1014.7 1127.6,998.7 1128.9,1015.7 1130.2,1013.3 1131.5,1004.5 1132.8,1006 1134.1,998.9 1135.4,1032.6 1136.7,1022.4 1138,1021.3 1139.3,1025.8 1140.6,1028.2 1141.9,1023.1 1143.2,1031.3 1144.5,1039.9 1145.8,997.4 1147.1,1016.8 1148.4,1008.7 1149.7,1015.8 1151,990.7 1152.3,1006 1153.6,1025.2 1154.9,1004.7 1156.2,1026.8 1157.5,1009.7 1158.8,1016.7 1160.1,1002.9 1161.4,1007.5 1162.7,1003.6 1164,1025.4 1165.3,1002.2 1166.6,1023.3 1167.9,1015.2 1169.2,1019.4 1170.5,1035.4 1171.8,1018.8 1173.1,1014.7 1174.4,1021.7 1175.7,1028.7 1177,1015.5 1178.3,1038.1 1179.6,1023.7 1180.9,1019.3 1182.2,1016.1 1183.5,1021.2 1184.8,1032.5 1186.1,1035 1187.4,1026.1 1188.7,1019.2 1190,1025.1 1191.3,1004.7 1192.6,1037.8 1193.9,1036.2 1195.2,1025.3 1196.5,1034 1197.8,1018 1199.1,1046.4 1200.4,1027.6 1201.7,1024.4 1203,1050.3 1204.3,1021 1205.6,1035.8 1206.9,1019.2 1208.2,1026.9 1209.5,1029.5 1210.8,1027.3 1212.1,1057.7 1213.4,1044.7 1214.7,1028 1216,1057.7 1217.3,1033.7 1218.6,1032.9 1219.9,1044.6 1221.2,1025.7 1222.5,1049.5 1223.8,1027.3 1225.1,1024.6 1226.4,1047.2 1227.7,1028.3 1229,1034.3 1230.3,1017.9 1231.6,1030.8 1232.9,1038.2 1234.2,1013.2 1235.5,1036.4 1236.8,1028.9 1238.1,1051.5 1239.4,1063.3 1240.7,1043.4 1242,1044.7 1243.3,1049.8 1244.6,1050 1245.9,1026 1247.2,1018.9 1248.5,1035.5 1249.8,1027 1251.1,1035.9 1252.4,1041.8 1253.7,1033.1 1255,1045.7 1256.3,1055.2 1257.6,1041.7 1258.9,1045.7 1260.2,1041.1 1261.5,1041.6 1262.8,1037.6 1264.1,1032.3 1265.4,1048.9 1266.7,1054.7 1268,1043.3 1269.3,1044.9 1270.6,1030.5 1271.9,1042.2 1273.2,1046.9 1274.5,1043.7 1275.8,1045.1 1277.1,1028.4 1278.4,1033.5 1279.7,1043.3 1281,1060.2 1282.3,1043.1 1283.6,1032.2 1284.9,1041.5 1286.2,1045.1 1287.5,1060.6 1288.8,1059.3 1290.1,1041.4 1291.4,1032.1 1292.7,1046.8 1294,1049.2 1295.3,1039.4 1296.6,1058.6 1297.9,1045.7 1299.2,1052.7 1300.5,1049.1 1301.8,1059.7 1303.1,1050.3 1304.4,1053.9 1305.7,1063.7 1307,1053.8 1308.3,1065.9 1309.6,1039.4 1310.9,1049.3 1312.2,1040.9 1313.5,1038.1 1314.8,1051.3 1316.1,1070.4 1317.4,1054.1 1318.7,1061.9 1320,1033.5 1321.3,1054.7 1322.6,1040.7 1323.9,1055.4 1325.2,1063.5 1326.5,1049.6 1327.8,1071.4 1329.1,1046.7 1330.4,1055.7 1331.7,1048.7 1333,1054.8 1334.3,1052.3 1335.6,1032 1336.9,1050.5 1338.2,1049.7 1339.5,1081.6 1340.8,1030.3 1342.1,1055.5 1343.4,1063.2 1344.7,1073.5 1346,1067.3 1347.3,1054.5 1348.6,1069.8 1349.9,1054.9 1351.2,1054.4 1352.5,1053.5 1353.8,1053.2 1355.1,1072 1356.4,1041 1357.7,1041.5 1359,1065.7 1360.3,1060.4 1361.6,1064.3 1362.9,1053.4 1364.2,1061.5 1365.5,1053.2 1366.8,1050.1 1368.1,1051.4 1369.4,1057.4 1370.7,1056.7 1372,1053.5 1373.3,1073.8 1374.6,1062.9 1375.9,1055.6 1377.2,1046.3 1378.5,1058.3 1379.8,1043.2 1381.1,1050.7 1382.4,1047.6 1383.7,1050.4 1385,1060.9 1386.3,1034.2 1387.6,1072.8 1388.9,1062.6 1390.2,1053.3 1391.5,1052.4 1392.8,1064.1 1394.1,1056.2 1395.4,1074.3 1396.7,1056 1398,1048.8 1399.3,1044.2 1400.6,1056.6 1401.9,1068.8 1403.2,1046.9 1404.5,1071.2 1405.8,1068.1 1407.1,1057.7 1408.4,1073.1 1409.7,1044.8 1411,1040.9 1412.3,1065.2 1413.6,1067.8 1414.9,1065.8 1416.2,1062.1 1417.5,1049 1418.8,1068.3 1420.1,1059.1 1421.4,1070.8 1422.7,1064.8 1424,1051.9 1425.3,1071.7 1426.6,1070.8 1427.9,1070.7 1429.2,1056.8 1430.5,1053.8 1431.8,1070.8 1433.1,1062.5 1434.4,1061.3 1435.7,1073.2 1437,1073.7 1438.3,1068.9 1439.6,1062.4 1440.9,1079.5 1442.2,1055 1443.5,1065.6 1444.8,1068.4 1446.1,1052.1 1447.4,1058.8 1448.7,1074 1450,1065.7 1451.3,1057.1 1452.6,1083.5 1453.9,1068.8 1455.2,1068.5 1456.5,1084.9 1457.8,1054.1 1459.1,1063.1 1460.4,1059.6 1461.7,1081.6 1463,1062.2 1464.3,1092.8 1465.6,1074.4 1466.9,1073.2 1468.2,1080.5 1469.5,1068.6 1470.8,1061.8 1472.1,1064.6 1473.4,1070.9 1474.7,1062 1476,1072.2 1477.3,1064.3 1478.6,1069.2 1479.9,1070.8 1481.2,1086.9 1482.5,1094.2 1483.8,1090.6 1485.1,1071.4 1486.4,1067.1 1487.7,1084.1 1489,1086.7 1490.3,1083.5 1491.6,1069.4 1492.9,1078.4 1494.2,1074 1495.5,1086.8 1496.8,1085.7 1498.1,1080.2 1499.4,1073.1 1500.7,1094 1502,1078.7 1503.3,1084.8 1504.6,1086.3 1505.9,1085.5 1507.2,1097.2 1508.5,1073.8 1509.8,1073 1511.1,1083.3 1512.4,1050.8 1513.7,1076.1 1515,1071.9 1516.3,1085.3 1517.6,1081.8 1518.9,1076.5 1520.2,1066.4 1521.5,1076 1522.8,1075.2 1524.1,1078.9 1525.4,1079.6 1526.7,1070.5 1528,1082.4 1529.3,1073 1530.6,1083 1531.9,1081.4 1533.2,1091.1 1534.5,1078.7 1535.8,1094.9 1537.1,1076.2 1538.4,1071.3 1539.7,1090.3 1541,1067.3 1542.3,1086.1 1543.6,1083.6 1544.9,1081.5 1546.2,1083.8 1547.5,1081.6 1548.8,1092.6 1550.1,1079.5 1551.4,1061 1552.7,1075.2 1554,1090.4 1555.3,1092.2 1556.6,1089.5 1557.9,1083.3 1559.2,1073.5 1560.5,1098.8 1561.8,1076.5 1563.1,1070.3 1564.4,1056.5 1565.7,1100.8 1567,1081.6 1568.3,1062 1569.6,1089.9 1570.9,1088.3 1572.2,1065.4 1573.5,1090.6 1574.8,1083.3 1576.1,1095.6 1577.4,1098.5 1578.7,1081.4 1580,1109.2 1581.3,1086.3 1582.6,1081.5 1583.9,1098.9 1585.2,1075.1 1586.5,1083.9 1587.8,1100.9 1589.1,1076.7 1590.4,1071.5 1591.7,1088.6 1593,1085.4 1594.3,1074.1 1595.6,1094 1596.9,1071.6 1598.2,1091.8 1599.5,1072.7 1600.8,1088.5 1602.1,1071.7 1603.4,1090.4 1604.7,1083 1606,1075.3 1607.3,1085.5 1608.6,1083.5 1609.9,1098.6 1611.2,1077.8 1612.5,1090.7 1613.8,1083.6 1615.1,1080.9 1616.4,1081.8 1617.7,1075.2 1619,1090.8 1620.3,1088.4 1621.6,1091.2 1622.9,1059.5 1624.2,1081.4 1625.5,1102 1626.8,1098.8 1628.1,1085.9 1629.4,1086.7 1630.7,1089.4 1632,1099.3 1633.3,1104.5 1634.6,1092.3 1635.9,1092.5 1637.2,1089.2 1638.5,1093.9 1639.8,1109 1641.1,1083.3 1642.4,1097.1 1643.7,1077.5 1645,1078.7 1646.3,1072.3 1647.6,1083.8 1648.9,1105.4 1650.2,1107.4 1651.5,1103.8 1652.8,1090 1654.1,1101.8 1655.4,1078.4 1656.7,1074.4 1658,1081.5 1659.3,1088.9 1660.6,1062.8 1661.9,1082.3 1663.2,1110.1 1664.5,1089.5 1665.8,1083.9 1667.1,1085.4 1668.4,1100.3 1669.7,1100.1 1671,1093.7 1672.3,1090.2 1673.6,1069.1 1674.9,1076.2 1676.2,1088.6 1677.5,1086.8 1678.8,1089.6 1680.1,1088.1 1681.4,1113.8 1682.7,1106.1 1684,1081.1 1685.3,1105.6 1686.6,1097.4 1687.9,1092.4 1689.2,1090.1 1690.5,1095.6 1691.8,1112.2 1693.1,1086.9 1694.4,1090.6 1695.7,1089 1697,1064.7 1698.3,1093.9 1699.6,1086.1 1700.9,1098.8 1702.2,1101.3 1703.5,1116.8 1704.8,1093.8 1706.1,1090.1 1707.4,1104.8 1708.7,1128.5 1710,1097.2 1711.3,1100.3 1712.6,1099.9 1713.9,1099.1 1715.2,1087.5 1716.5,1084.3 1717.8,1079.4 1719.1,1090.1 1720.4,1098.1 1721.7,1084.6 1723,1085.9 1724.3,1094.5 1725.6,1093.8 1726.9,1096.6 1728.2,1070.1 1729.5,1117.1 1730.8,1093.6 1732.1,1093.5 1733.4,1086.2 1734.7,1101 1736,1107.7 1737.3,1096.4 1738.6,1095.7 1739.9,1094.2 1741.2,1122.6 1742.5,1104.5 1743.8,1092.5 1745.1,1099.5 1746.4,1109.4 1747.7,1099.3 1749,1102.6 1750.3,1099.9 1751.6,1095.3 1752.9,1103.3 1754.2,1115.9 1755.5,1102.7 1756.8,1093.5 1758.1,1087.9 1759.4,1097 1760.7,1092 1762,1088.6 1763.3,1105.5 1764.6,1101.3 1765.9,1110.3 1767.2,1102.5 1768.5,1091.2 1769.8,1106.6 1771.1,1101.2 1772.4,1113.6 1773.7,1085.6 1775,1094.2 1776.3,1099.2 1777.6,1117.4 1778.9,1108.4 1780.2,1087 1781.5,1090.4 1782.8,1108 1784.1,1082.5 1785.4,1087.8 1786.7,1100.8 1788,1098.4 1789.3,1104.9 1790.6,1110.3 1791.9,1104.2 1793.2,1085.5 1794.5,1114.8 1795.8,1120.3 1797.1,1090.2 1798.4,1093 1799.7,1084.2 1801,1116 1802.3,1094.1 1803.6,1105.4 1804.9,1105.7 1806.2,1114.1 1807.5,1099.9 1808.8,1094.6 1810.1,1106.1 1811.4,1111 1812.7,1092.6 1814,1096.1 1815.3,1080.3 1816.6,1126.3 1817.9,1090.9 1819.2,1110.2 1820.5,1108.5 1821.8,1107.5 1823.1,1109.9 1824.4,1089.3 1825.7,1101.8 1827,1090.1 1828.3,1097.3 1829.6,1089.7 1830.9,1133.1 1832.2,1101.6 1833.5,1110.8 1834.8,1091.1 1836.1,1120.9 1837.4,1097.2 1838.7,1097 1840,1095.6 1841.3,1080.2 1842.6,1074 1843.9,1100 1845.2,1084.4 1846.5,1095.5 1847.8,1123.6 1849.1,1092.7 1850.4,1123.3 1851.7,1103.6 1853,1086.4 1854.3,1106.4 1855.6,1111.3 1856.9,1106.9 1858.2,1088.1 1859.5,1082.6 1860.8,1104.7 1862.1,1116.7 1863.4,1115.6 1864.7,1088.8 1866,1089.6 1867.3,1095.9 1868.6,1107.4 1869.9,1099.2 1871.2,1098.6 1872.5,1093.2 1873.8,1057 1875.1,1076.8 1876.4,1093.2 1877.7,1070.7 1879,1115 1880.3,1079.7 1881.6,1097.9 1882.9,1110.1 1884.2,1103.4 1885.5,1065.1 1886.8,1086.8 1888.1,1108.8 1889.4,1089.5 1890.7,1098.3 1892,1056.1 1893.3,1092 1894.6,1087.8 1895.9,1083.1 1897.2,1061.2 1898.5,1074.2 1899.8,1079.8 1901.1,1077.1 1902.4,1067.2 1903.7,1095.1 1905,1093 1906.3,1076.2 1907.6,1099.5 1908.9,1063.4 1910.2,1083.6 1911.5,1100.7 1912.8,1086.3 1914.1,1076.5 1915.4,1084.8 1916.7,1076.4 1918,1071.4 1919.3,1068 1920.6,1078.7 1921.9,1075 1923.2,1081.1 1924.5,1063.7 1925.8,1077.9 1927.1,1085.9 1928.4,1062.6 1929.7,1093.2 1931,1060.1 1932.3,1058.1 1933.6,1059.2 1934.9,1048.2 1936.2,1042.4 1937.5,1047.1 1938.8,1056.4 1940.1,1050 1941.4,1082 1942.7,1056.4 1944,1052.2 1945.3,1049.1 1946.6,1063.6 1947.9,1056.6 1949.2,1059.5 1950.5,1067 1951.8,1076.1 1953.1,1038.3 1954.4,1060.1 1955.7,1048.1 1957,1050.9 1958.3,1035.9 1959.6,1052.1 1960.9,1051.1 1962.2,1049.9 1963.5,1026.7 1964.8,1048.7 1966.1,1020.6 1967.4,1009.1 1968.7,1046.7 1970,1030.2 1971.3,1006.2 1972.6,1019.2 1973.9,1028.5 1975.2,1054 1976.5,1023.1 1977.8,1001.5 1979.1,1004.4 1980.4,998 1981.7,1015.5 1983,1003.7 1984.3,1031.2 1985.6,991.1 1986.9,1027.2 1988.2,1005.1 1989.5,1008.7 1990.8,1004.8 1992.1,1002.6 1993.4,1031.9 1994.7,991.9 1996,993.2 1997.3,995 1998.6,1007.9 1999.9,964.9 2001.2,1018.6 2002.5,972.9 2003.8,977.8 2005.1,990.8 2006.4,988.6 2007.7,968 2009,998.5 2010.3,1013.8 2011.6,978.9 2012.9,990 2014.2,987 2015.5,1020.2 2016.8,974.1 2018.1,974.7 2019.4,958.2 2020.7,967.8 2022,956.2 2023.3,950.3 2024.6,950.7 2025.9,970.4 2027.2,945 2028.5,977.1 2029.8,941.3 2031.1,964.9 2032.4,916.6 2033.7,914.3 2035,944.8 2036.3,959.6 2037.6,918.9 2038.9,885.3 2040.2,946.5 2041.5,932 2042.8,893.5 2044.1,945.5 2045.4,943.9 2046.7,900.4 2048,900.7 2049.3,919.8 2050.6,915.9 2051.9,928 2053.2,905.2 2054.5,931.7 2055.8,878.9 2057.1,864.7 2058.4,866 2059.7,859.3 2061,868.9 2062.3,850 2063.6,880.8 2064.9,903.8 2066.2,891.7 2067.5,839.8 2068.8,819.7 2070.1,835.8 2071.4,842.5 2072.7,827.7 2074,843.8 2075.3,838.7 2076.6,832.5 2077.9,784.8 2079.2,832.7 2080.5,787.1 2081.8,745.9 2083.1,793.2 2084.4,820.7 2085.7,787.7 2087,744.6 2088.3,769.7 2089.6,800.6 2090.9,772.8 2092.2,762.3 2093.5,732 2094.8,756.2 2096.1,738.5 2097.4,786.4 2098.7,755.8 2100,764 2101.3,701.7 2102.6,735.3 2103.9,751 2105.2,767.9 2106.5,755.6 2107.8,698.5 2109.1,786 2110.4,707.8 2111.7,700.9 2113,695.4 2114.3,671.2 2115.6,683.8 2116.9,671.4 2118.2,671.7 2119.5,658.1 2120.8,663.1 2122.1,679.5 2123.4,639.2 2124.7,622 2126,660.1 2127.3,638.5 2128.6,652.8 2129.9,604.2 2131.2,621 2132.5,595.9 2133.8,576.8 2135.1,578 2136.4,594.6 2137.7,598.4"/>
<polyline fill="none" stroke="#008000" stroke-width="3.7" stroke-linejoin="round" stroke-linecap="round" points="345,1013.8 346.3,1262.6 347.6,1105.3 348.9,1082.7 350.2,1110.6 351.5,1118.3 352.8,1001.7 354.1,1124.5 355.4,1039.9 356.7,1176.7 358,1103.4 359.3,1032.3 360.6,1069 361.9,1065.8 363.2,1072.4 364.5,1123.1 365.8,1081.2 367.1,1137.3 368.4,1088.8 369.7,1047.9 371,980.9 372.3,982.9 373.6,1067 374.9,1087.4 376.2,1126.6 377.5,1028.9 378.8,1065.8 380.1,1024.8 381.4,1042.1 382.7,935.3 384,1103.4 385.3,1031.5 386.6,1061.1 387.9,1084 389.2,1079.1 390.5,1002.3 391.8,1133.7 393.1,1098.3 394.4,1088.9 395.7,1034.7 397,992.5 398.3,990.6 399.6,1053.5 400.9,1080.1 402.2,1014.7 403.5,1152.9 404.8,1089.3 406.1,1121.5 407.4,1114.8 408.7,1033 410,1120.7 411.3,1096.5 412.6,1025.1 413.9,1105.2 415.2,1118.8 416.5,1117.4 417.8,1122.5 419.1,1027 420.4,1071.8 421.7,1060.7 423,1081.4 424.3,1083.9 425.6,1125.6 426.9,1109.9 428.2,1055.4 429.5,1116.6 430.8,1139.1 432.1,1094.2 433.4,1033.1 434.7,1059.2 436,1077.9 437.3,1033.5 438.6,1085.3 439.9,1025.4 441.2,1120.7 442.5,1120.1 443.8,1102.7 445.1,1078.3 446.4,1115.2 447.7,1100.5 449,1105.1 450.3,1146.1 451.6,1103.1 452.9,1103.7 454.2,1131.1 455.5,1143.6 456.8,1140.9 458.1,1129.2 459.4,1146.6 460.7,1113.3 462,1147 463.3,1144.2 464.6,1108.9 465.9,1118.3 467.2,1074.4 468.5,1085.4 469.8,1108.6 471.1,1063.9 472.4,1089.4 473.7,1093.3 475,1085.2 476.3,1109.1 477.6,990.2 478.9,1087.3 480.2,1112.9 481.5,1126.2 482.8,1071.9 484.1,1066.3 485.4,1017.3 486.7,1099.6 488,1137 489.3,1097.1 490.6,1145.3 491.9,1129.3 493.2,1112.4 494.5,1089.5 495.8,1049.7 497.1,1095.8 498.4,1109 499.7,1093.5 501,1089.6 502.3,1086.8 503.6,1116.3 504.9,1051.7 506.2,1089.9 507.5,1101.3 508.8,1118.9 510.1,1118.3 511.4,1094.5 512.7,1087.5 514,1075.8 515.3,1136 516.6,1131.6 517.9,1110.6 519.2,1087.2 520.5,1077.8 521.8,1160 523.1,1106.1 524.4,1120.3 525.7,1155.5 527,1071.7 528.3,1090 529.6,1119 530.9,1124.4 532.2,1082.7 533.5,1107 534.8,1095.7 536.1,1095.1 537.4,1120.5 538.7,1116.8 540,1141.4 541.3,1128.8 542.6,1151.5 543.9,1093.9 545.2,1125.8 546.5,1082.2 547.8,1051.7 549.1,1082.3 550.4,1130.2 551.7,1117.2 553,1048.2 554.3,1164.6 555.6,1134.2 556.9,1106.2 558.2,1107 559.5,1113.7 560.8,1086.8 562.1,1170 563.4,1104.9 564.7,1111.1 566,1107.8 567.3,1099.7 568.6,1081 569.9,1124.1 571.2,1091 572.5,1096.7 573.8,1102.7 575.1,1139.5 576.4,1099.2 577.7,1098.7 579,1127 580.3,1094.1 581.6,1110.7 582.9,1137.2 584.2,1125.2 585.5,1117 586.8,1150.8 588.1,1110.5 589.4,1099.1 590.7,1085.3 592,1124.1 593.3,1138.7 594.6,1112.1 595.9,1164 597.2,1146.6 598.5,1142.4 599.8,1099.4 601.1,1131.2 602.4,1132.1 603.7,1084.2 605,1125.2 606.3,1120.4 607.6,1093.2 608.9,1136.4 610.2,1165.2 611.5,1140.9 612.8,1110.1 614.1,1118 615.4,1150 616.7,1110.3 618,1134.5 619.3,1129.5 620.6,1131.3 621.9,1159.1 623.2,1099.6 624.5,1149.5 625.8,1133.3 627.1,1125.5 628.4,1096.5 629.7,1132.9 631,1121.3 632.3,1081 633.6,1105.3 634.9,1108.7 636.2,1112.8 637.5,1121.2 638.8,1118.2 640.1,1159.9 641.4,1151.4 642.7,1130.6 644,1157.4 645.3,1170.3 646.6,1140.1 647.9,1108.8 649.2,1138.2 650.5,1156 651.8,1113.9 653.1,1130.7 654.4,1147 655.7,1152 657,1148.1 658.3,1139.8 659.6,1131.9 660.9,1125.2 662.2,1162.5 663.5,1149.4 664.8,1127.3 666.1,1123.4 667.4,1155.9 668.7,1152.5 670,1125.6 671.3,1111.7 672.6,1142.4 673.9,1153.9 675.2,1157.2 676.5,1164.6 677.8,1117.3 679.1,1142.4 680.4,1136.1 681.7,1130.1 683,1184 684.3,1141.1 685.6,1144.4 686.9,1134.2 688.2,1151.2 689.5,1158.4 690.8,1135.6 692.1,1140 693.4,1134.1 694.7,1125.8 696,1139.7 697.3,1148.4 698.6,1142.8 699.9,1138.8 701.2,1113.4 702.5,1147.2 703.8,1144.8 705.1,1165.5 706.4,1130.7 707.7,1120.4 709,1112.1 710.3,1132.4 711.6,1141.7 712.9,1146.3 714.2,1120.2 715.5,1136.8 716.8,1160.4 718.1,1146.5 719.4,1141.5 720.7,1137.9 722,1124.6 723.3,1126.8 724.6,1141 725.9,1168.8 727.2,1167.5 728.5,1148.3 729.8,1161 731.1,1158.1 732.4,1169.6 733.7,1140.9 735,1155.4 736.3,1175 737.6,1132.5 738.9,1148 740.2,1154.2 741.5,1156.8 742.8,1164.9 744.1,1160.4 745.4,1167.6 746.7,1173.2 748,1158.3 749.3,1184.7 750.6,1146.4 751.9,1149.9 753.2,1158 754.5,1135 755.8,1132.8 757.1,1136.3 758.4,1173.8 759.7,1147.8 761,1139.2 762.3,1184.4 763.6,1162.8 764.9,1160.3 766.2,1144.7 767.5,1159.7 768.8,1148.8 770.1,1158.9 771.4,1155.7 772.7,1149.7 774,1158.8 775.3,1142.7 776.6,1150.3 777.9,1145.8 779.2,1161.3 780.5,1165.2 781.8,1167.9 783.1,1131.5 784.4,1182 785.7,1152.3 787,1155.6 788.3,1156.9 789.6,1156.8 790.9,1174.6 792.2,1158.2 793.5,1159.8 794.8,1168.9 796.1,1174.6 797.4,1144.1 798.7,1142.3 800,1133.2 801.3,1134.4 802.6,1163.2 803.9,1161.2 805.2,1158.9 806.5,1163.9 807.8,1164 809.1,1175.5 810.4,1181.4 811.7,1149.8 813,1180.5 814.3,1176.1 815.6,1152.6 816.9,1165.3 818.2,1157.7 819.5,1142 820.8,1163.7 822.1,1142.2 823.4,1163 824.7,1149.3 826,1158.3 827.3,1173.3 828.6,1165.7 829.9,1155.2 831.2,1168.2 832.5,1174.5 833.8,1177.7 835.1,1154.6 836.4,1178.6 837.7,1160.6 839,1157.2 840.3,1178.4 841.6,1171.6 842.9,1172.8 844.2,1167.6 845.5,1142.4 846.8,1174.5 848.1,1172.1 849.4,1164.9 850.7,1186.5 852,1167.4 853.3,1186.8 854.6,1181.3 855.9,1158.8 857.2,1156.1 858.5,1162 859.8,1166.3 861.1,1175.9 862.4,1156.2 863.7,1155.7 865,1193.6 866.3,1170.8 867.6,1172.9 868.9,1200.1 870.2,1169.3 871.5,1141.3 872.8,1173.9 874.1,1161.3 875.4,1178.6 876.7,1146 878,1169.4 879.3,1177.4 880.6,1184.6 881.9,1179.6 883.2,1179.7 884.5,1169.5 885.8,1169.3 887.1,1157.9 888.4,1180.5 889.7,1199.4 891,1182.5 892.3,1161.1 893.6,1155.6 894.9,1166.4 896.2,1190.2 897.5,1174.2 898.8,1154.7 900.1,1168.6 901.4,1187.9 902.7,1164.5 904,1164 905.3,1166.8 906.6,1163.6 907.9,1195.5 909.2,1165.8 910.5,1177.9 911.8,1197.5 913.1,1173.7 914.4,1170.9 915.7,1173.9 917,1175.9 918.3,1173.7 919.6,1171.8 920.9,1173.9 922.2,1179.3 923.5,1207.1 924.8,1175 926.1,1188.2 927.4,1177.9 928.7,1169.4 930,1166.3 931.3,1182.6 932.6,1155.8 933.9,1184 935.2,1175.8 936.5,1196.6 937.8,1168.8 939.1,1192.1 940.4,1195.3 941.7,1189.6 943,1175.4 944.3,1184.9 945.6,1183.5 946.9,1179.8 948.2,1191.7 949.5,1181.5 950.8,1185.2 952.1,1193.8 953.4,1181.8 954.7,1179 956,1186 957.3,1178.7 958.6,1160.4 959.9,1179.7 961.2,1183.2 962.5,1173.3 963.8,1166.7 965.1,1191.2 966.4,1179.7 967.7,1192.6 969,1191.2 970.3,1202.8 971.6,1193.1 972.9,1196.5 974.2,1201 975.5,1183.4 976.8,1199 978.1,1200.2 979.4,1169.2 980.7,1177.2 982,1189.9 983.3,1206.2 984.6,1185.4 985.9,1175.9 987.2,1172.9 988.5,1192.6 989.8,1191.4 991.1,1182.5 992.4,1192 993.7,1185.4 995,1200.8 996.3,1175.5 997.6,1185.7 998.9,1201.9 1000.2,1185 1001.5,1183.5 1002.8,1189.6 1004.1,1211.8 1005.4,1195.1 1006.7,1207.2 1008,1184.2 1009.3,1191.8 1010.6,1205.7 1011.9,1195.8 1013.2,1188.1 1014.5,1171.9 1015.8,1199.3 1017.1,1201.7 1018.4,1199.2 1019.7,1177.9 1021,1180.8 1022.3,1185.5 1023.6,1184.6 1024.9,1205.3 1026.2,1183.8 1027.5,1191 1028.8,1183.4 1030.1,1177.4 1031.4,1204.4 1032.7,1196.9 1034,1183.7 1035.3,1196.2 1036.6,1175 1037.9,1212.6 1039.2,1186.6 1040.5,1178.5 1041.8,1187.2 1043.1,1200 1044.4,1198 1045.7,1204.7 1047,1205 1048.3,1199.7 1049.6,1209.4 1050.9,1180.7 1052.2,1203.8 1053.5,1204 1054.8,1202.5 1056.1,1198.4 1057.4,1190.1 1058.7,1193.5 1060,1183.4 1061.3,1194.8 1062.6,1210.4 1063.9,1215.1 1065.2,1196.1 1066.5,1196.5 1067.8,1197 1069.1,1200.9 1070.4,1202.6 1071.7,1208.1 1073,1216.8 1074.3,1183.4 1075.6,1193.4 1076.9,1199.6 1078.2,1204.7 1079.5,1210.3 1080.8,1232.6 1082.1,1197.7 1083.4,1213.4 1084.7,1206.1 1086,1207.8 1087.3,1210.1 1088.6,1215.6 1089.9,1208.6 1091.2,1197.7 1092.5,1216.6 1093.8,1217.2 1095.1,1194.8 1096.4,1214 1097.7,1209.4 1099,1208.9 1100.3,1211.2 1101.6,1227.6 1102.9,1195.1 1104.2,1212.4 1105.5,1185.5 1106.8,1211.5 1108.1,1221 1109.4,1195.1 1110.7,1230.3 1112,1217.6 1113.3,1213.2 1114.6,1212.5 1115.9,1214.5 1117.2,1215.6 1118.5,1215.4 1119.8,1226.3 1121.1,1228.6 1122.4,1206.5 1123.7,1225 1125,1240.6 1126.3,1230.5 1127.6,1218.1 1128.9,1200.7 1130.2,1211.6 1131.5,1215.9 1132.8,1216.6 1134.1,1203.4 1135.4,1223.3 1136.7,1226.2 1138,1206.1 1139.3,1212.3 1140.6,1209.6 1141.9,1219.8 1143.2,1230.7 1144.5,1200.4 1145.8,1235.1 1147.1,1229 1148.4,1207.3 1149.7,1235.4 1151,1231.6 1152.3,1225.8 1153.6,1223.9 1154.9,1212.4 1156.2,1226.1 1157.5,1215.2 1158.8,1224.6 1160.1,1233.9 1161.4,1220.7 1162.7,1218.4 1164,1230.4 1165.3,1234.5 1166.6,1241.5 1167.9,1222.3 1169.2,1237.9 1170.5,1239.9 1171.8,1222 1173.1,1229.7 1174.4,1206.5 1175.7,1222.6 1177,1214.6 1178.3,1226.1 1179.6,1220.1 1180.9,1204.4 1182.2,1233.3 1183.5,1218.9 1184.8,1238.9 1186.1,1241.5 1187.4,1233.2 1188.7,1226.6 1190,1230.2 1191.3,1214.3 1192.6,1229.2 1193.9,1237.3 1195.2,1235.2 1196.5,1219.9 1197.8,1244.1 1199.1,1235.2 1200.4,1221.8 1201.7,1234.9 1203,1222.7 1204.3,1226.9 1205.6,1231.9 1206.9,1249.2 1208.2,1256.2 1209.5,1219.2 1210.8,1232.8 1212.1,1232.2 1213.4,1241.1 1214.7,1237.9 1216,1229.1 1217.3,1240 1218.6,1228 1219.9,1226.3 1221.2,1238.3 1222.5,1235 1223.8,1229 1225.1,1241.1 1226.4,1231.9 1227.7,1229 1229,1235 1230.3,1243.1 1231.6,1232.1 1232.9,1251.2 1234.2,1236.2 1235.5,1241.3 1236.8,1245.8 1238.1,1239 1239.4,1233.2 1240.7,1237.1 1242,1254.6 1243.3,1250.6 1244.6,1244.7 1245.9,1235.7 1247.2,1231.4 1248.5,1235.4 1249.8,1233.9 1251.1,1241.9 1252.4,1240.1 1253.7,1233.7 1255,1247.1 1256.3,1229.5 1257.6,1241.8 1258.9,1234.5 1260.2,1251.7 1261.5,1246.2 1262.8,1244.7 1264.1,1252.7 1265.4,1258.4 1266.7,1232 1268,1245.6 1269.3,1235 1270.6,1239.1 1271.9,1240.3 1273.2,1231 1274.5,1232.8 1275.8,1244.2 1277.1,1244.7 1278.4,1248.5 1279.7,1242.8 1281,1238.4 1282.3,1242.3 1283.6,1242.9 1284.9,1238.8 1286.2,1246.3 1287.5,1237.2 1288.8,1237 1290.1,1233.1 1291.4,1247.1 1292.7,1239.3 1294,1244.1 1295.3,1247.5 1296.6,1238.5 1297.9,1247.5 1299.2,1246.8 1300.5,1246 1301.8,1230 1303.1,1255.4 1304.4,1251.4 1305.7,1252.6 1307,1263.6 1308.3,1239.6 1309.6,1267 1310.9,1249.6 1312.2,1264.8 1313.5,1262.7 1314.8,1243.4 1316.1,1254.9 1317.4,1247.5 1318.7,1255.9 1320,1238.9 1321.3,1267.3 1322.6,1255.4 1323.9,1249.3 1325.2,1243.9 1326.5,1262.6 1327.8,1247.2 1329.1,1258.5 1330.4,1241 1331.7,1256 1333,1235.5 1334.3,1255 1335.6,1243.9 1336.9,1243.4 1338.2,1260.1 1339.5,1257.9 1340.8,1247 1342.1,1245.9 1343.4,1268.4 1344.7,1230.4 1346,1250.6 1347.3,1247.1 1348.6,1254.4 1349.9,1253.7 1351.2,1252.4 1352.5,1243 1353.8,1256.2 1355.1,1256.3 1356.4,1248.8 1357.7,1266.8 1359,1248.1 1360.3,1252.9 1361.6,1269.9 1362.9,1251.2 1364.2,1253.4 1365.5,1241.4 1366.8,1254.9 1368.1,1251.8 1369.4,1257.8 1370.7,1246.2 1372,1266.1 1373.3,1263.4 1374.6,1264 1375.9,1253 1377.2,1240.5 1378.5,1257.9 1379.8,1254.8 1381.1,1250.1 1382.4,1268.5 1383.7,1256.7 1385,1256.1 1386.3,1258.6 1387.6,1258.2 1388.9,1259 1390.2,1262.2 1391.5,1256.5 1392.8,1252.3 1394.1,1249.8 1395.4,1258.9 1396.7,1261.7 1398,1264.2 1399.3,1251.4 1400.6,1245.1 1401.9,1245.5 1403.2,1269.5 1404.5,1262.2 1405.8,1256.5 1407.1,1254.6 1408.4,1276 1409.7,1263.9 1411,1263.3 1412.3,1253.5 1413.6,1274.6 1414.9,1255 1416.2,1247.2 1417.5,1270.3 1418.8,1262.3 1420.1,1265.9 1421.4,1247.1 1422.7,1256.5 1424,1252.5 1425.3,1262.1 1426.6,1259.5 1427.9,1260.6 1429.2,1254.2 1430.5,1272.5 1431.8,1249.8 1433.1,1267.5 1434.4,1260.7 1435.7,1270 1437,1253.1 1438.3,1270 1439.6,1255.2 1440.9,1265.2 1442.2,1262.1 1443.5,1283.7 1444.8,1252.4 1446.1,1258.2 1447.4,1248 1448.7,1254.5 1450,1261.1 1451.3,1259.4 1452.6,1255 1453.9,1251.6 1455.2,1260.2 1456.5,1263.2 1457.8,1276.6 1459.1,1266.1 1460.4,1261 1461.7,1257.6 1463,1269.5 1464.3,1274.5 1465.6,1261.8 1466.9,1272 1468.2,1271.1 1469.5,1247.3 1470.8,1280.8 1472.1,1272.2 1473.4,1253.3 1474.7,1247.6 1476,1265.2 1477.3,1259.4 1478.6,1267.6 1479.9,1256.8 1481.2,1274.5 1482.5,1259.5 1483.8,1268.5 1485.1,1271 1486.4,1263 1487.7,1273.5 1489,1267.6 1490.3,1265.5 1491.6,1264.2 1492.9,1245.9 1494.2,1257 1495.5,1280.5 1496.8,1262 1498.1,1258.2 1499.4,1263.7 1500.7,1263.8 1502,1283.6 1503.3,1256.4 1504.6,1259.7 1505.9,1271 1507.2,1251.7 1508.5,1253.2 1509.8,1255.7 1511.1,1259.4 1512.4,1274.4 1513.7,1277.4 1515,1269.7 1516.3,1281.5 1517.6,1248.6 1518.9,1273.2 1520.2,1258.9 1521.5,1269.1 1522.8,1262.5 1524.1,1253.3 1525.4,1275.4 1526.7,1278.4 1528,1268.7 1529.3,1259.9 1530.6,1290 1531.9,1247.2 1533.2,1269 1534.5,1259.3 1535.8,1260.2 1537.1,1274.1 1538.4,1262 1539.7,1274.4 1541,1267.3 1542.3,1277.2 1543.6,1279.3 1544.9,1273.7 1546.2,1267.7 1547.5,1267 1548.8,1259 1550.1,1271.5 1551.4,1273.8 1552.7,1261.9 1554,1270.8 1555.3,1260.3 1556.6,1267.3 1557.9,1259.6 1559.2,1269.2 1560.5,1278.6 1561.8,1272.1 1563.1,1254.6 1564.4,1276.5 1565.7,1267.6 1567,1281.2 1568.3,1277.4 1569.6,1277.6 1570.9,1269.4 1572.2,1274.3 1573.5,1266.3 1574.8,1273.7 1576.1,1279.7 1577.4,1259.3 1578.7,1269.9 1580,1279.6 1581.3,1264.3 1582.6,1272.1 1583.9,1278.7 1585.2,1277.7 1586.5,1280.1 1587.8,1281.6 1589.1,1285.7 1590.4,1272.5 1591.7,1283.1 1593,1279.3 1594.3,1259 1595.6,1274 1596.9,1284.3 1598.2,1281.2 1599.5,1284.3 1600.8,1278.1 1602.1,1277.7 1603.4,1286.5 1604.7,1260.3 1606,1262.7 1607.3,1278.5 1608.6,1281.2 1609.9,1284.3 1611.2,1285 1612.5,1281.1 1613.8,1270.1 1615.1,1285.7 1616.4,1283.7 1617.7,1271.5 1619,1266.2 1620.3,1276.4 1621.6,1286.6 1622.9,1280.6 1624.2,1290.7 1625.5,1277.2 1626.8,1273.8 1628.1,1275.3 1629.4,1282.6 1630.7,1283.9 1632,1289.4 1633.3,1280.7 1634.6,1271.9 1635.9,1270.9 1637.2,1285.3 1638.5,1281.7 1639.8,1285.1 1641.1,1278.8 1642.4,1279.4 1643.7,1278.9 1645,1277.7 1646.3,1284.7 1647.6,1298 1648.9,1282.9 1650.2,1284.5 1651.5,1266.8 1652.8,1291.6 1654.1,1282.3 1655.4,1297 1656.7,1290.2 1658,1298.9 1659.3,1277.2 1660.6,1292.7 1661.9,1294.2 1663.2,1282 1664.5,1296.4 1665.8,1273.3 1667.1,1288.1 1668.4,1281.9 1669.7,1299 1671,1268.4 1672.3,1300.2 1673.6,1311.8 1674.9,1276.9 1676.2,1294.9 1677.5,1278.3 1678.8,1294.8 1680.1,1297.5 1681.4,1276.8 1682.7,1312.9 1684,1287.2 1685.3,1288.7 1686.6,1295.8 1687.9,1297.3 1689.2,1289.8 1690.5,1295.3 1691.8,1296.3 1693.1,1279.9 1694.4,1293.1 1695.7,1293 1697,1291.1 1698.3,1301.5 1699.6,1284.9 1700.9,1273.3 1702.2,1295.7 1703.5,1293.1 1704.8,1289 1706.1,1284.4 1707.4,1310.6 1708.7,1290.9 1710,1280.1 1711.3,1292.4 1712.6,1294.7 1713.9,1277 1715.2,1296.8 1716.5,1270.9 1717.8,1284.2 1719.1,1298.5 1720.4,1300.8 1721.7,1294.1 1723,1298.2 1724.3,1282.5 1725.6,1292.4 1726.9,1298.1 1728.2,1274.5 1729.5,1294.7 1730.8,1298.1 1732.1,1302.6 1733.4,1299 1734.7,1301.3 1736,1305.2 1737.3,1282.1 1738.6,1281.6 1739.9,1284.8 1741.2,1278.5 1742.5,1298.9 1743.8,1307.1 1745.1,1303.4 1746.4,1295.6 1747.7,1302 1749,1292.8 1750.3,1296.8 1751.6,1302.7 1752.9,1281.5 1754.2,1285.8 1755.5,1295.1 1756.8,1318.2 1758.1,1302.7 1759.4,1297.9 1760.7,1304.5 1762,1285.7 1763.3,1262.9 1764.6,1280.1 1765.9,1280.9 1767.2,1318.1 1768.5,1288.9 1769.8,1289.2 1771.1,1288.9 1772.4,1288.2 1773.7,1289.8 1775,1292.1 1776.3,1302.7 1777.6,1293.4 1778.9,1276.9 1780.2,1299.6 1781.5,1296 1782.8,1287.4 1784.1,1293.4 1785.4,1280.5 1786.7,1313.6 1788,1301.4 1789.3,1292.9 1790.6,1282.4 1791.9,1296.9 1793.2,1296.5 1794.5,1290 1795.8,1287.7 1797.1,1320.4 1798.4,1288.2 1799.7,1300.9 1801,1304.2 1802.3,1280.2 1803.6,1295.6 1804.9,1301.3 1806.2,1291.1 1807.5,1275.6 1808.8,1301.4 1810.1,1311.9 1811.4,1295.8 1812.7,1293.7 1814,1283.4 1815.3,1288.7 1816.6,1295.7 1817.9,1277.7 1819.2,1281.2 1820.5,1292 1821.8,1291 1823.1,1290.8 1824.4,1289.1 1825.7,1303.6 1827,1287.3 1828.3,1288.4 1829.6,1280.2 1830.9,1279.8 1832.2,1287.5 1833.5,1316.1 1834.8,1303.1 1836.1,1277.7 1837.4,1306.8 1838.7,1289.6 1840,1276.2 1841.3,1291.7 1842.6,1278.1 1843.9,1274.2 1845.2,1275.1 1846.5,1283.2 1847.8,1255.1 1849.1,1294.1 1850.4,1301.8 1851.7,1281.9 1853,1284.2 1854.3,1288.3 1855.6,1281 1856.9,1280.6 1858.2,1290.1 1859.5,1293.5 1860.8,1278.8 1862.1,1290.5 1863.4,1287 1864.7,1277.3 1866,1282.8 1867.3,1263.7 1868.6,1271.5 1869.9,1286.3 1871.2,1288.6 1872.5,1293.6 1873.8,1296.7 1875.1,1268.3 1876.4,1283.2 1877.7,1249.8 1879,1277.9 1880.3,1272.4 1881.6,1282.6 1882.9,1276.6 1884.2,1279 1885.5,1271.9 1886.8,1278 1888.1,1292.3 1889.4,1286 1890.7,1277.4 1892,1259.8 1893.3,1257.8 1894.6,1276.5 1895.9,1279.5 1897.2,1281.3 1898.5,1279.1 1899.8,1266.2 1901.1,1254.6 1902.4,1281.1 1903.7,1277.8 1905,1283.9 1906.3,1251.5 1907.6,1275.1 1908.9,1275.4 1910.2,1254.5 1911.5,1255.2 1912.8,1244.8 1914.1,1255.3 1915.4,1262.7 1916.7,1259.5 1918,1276.2 1919.3,1264 1920.6,1250.9 1921.9,1258.8 1923.2,1247.5 1924.5,1228.6 1925.8,1257 1927.1,1246.8 1928.4,1279.3 1929.7,1251.2 1931,1269.6 1932.3,1261.8 1933.6,1232.2 1934.9,1269.6 1936.2,1243.2 1937.5,1246.4 1938.8,1231.9 1940.1,1232.7 1941.4,1276.2 1942.7,1243.4 1944,1205 1945.3,1261 1946.6,1239.1 1947.9,1226.9 1949.2,1241.8 1950.5,1236.6 1951.8,1223 1953.1,1250.4 1954.4,1236.6 1955.7,1252.7 1957,1228.8 1958.3,1223.5 1959.6,1226 1960.9,1207.5 1962.2,1207 1963.5,1228.6 1964.8,1213.6 1966.1,1221 1967.4,1210.6 1968.7,1202.5 1970,1229.8 1971.3,1194.8 1972.6,1187.4 1973.9,1198.6 1975.2,1211.3 1976.5,1210 1977.8,1177.8 1979.1,1177.2 1980.4,1181.8 1981.7,1172.8 1983,1184.4 1984.3,1194.5 1985.6,1174.5 1986.9,1152.3 1988.2,1135.7 1989.5,1149 1990.8,1162.9 1992.1,1172.6 1993.4,1139.1 1994.7,1164.1 1996,1164.2 1997.3,1189.8 1998.6,1134.8 1999.9,1150.7 2001.2,1158.4 2002.5,1152.2 2003.8,1158.4 2005.1,1150.5 2006.4,1152.8 2007.7,1135 2009,1133 2010.3,1105.6 2011.6,1160.9 2012.9,1103.8 2014.2,1124.3 2015.5,1120.2 2016.8,1102.1 2018.1,1085.7 2019.4,1111.7 2020.7,1078.4 2022,1120.6 2023.3,1144.3 2024.6,1137.7 2025.9,1055.4 2027.2,1103.7 2028.5,1096.2 2029.8,1087.9 2031.1,1103.1 2032.4,1075.8 2033.7,1090.1 2035,1056.8 2036.3,1055.3 2037.6,1078.6 2038.9,1084.8 2040.2,1052.7 2041.5,1087.3 2042.8,1052 2044.1,1039.5 2045.4,1038.6 2046.7,1037.3 2048,1055.6 2049.3,1053.5 2050.6,1039.4 2051.9,1060.2 2053.2,1015.5 2054.5,1036.2 2055.8,1029.9 2057.1,982.4 2058.4,1024.9 2059.7,1008 2061,1039.1 2062.3,998.2 2063.6,1029.8 2064.9,1010.8 2066.2,951.4 2067.5,1016.7 2068.8,1004.6 2070.1,994.9 2071.4,981 2072.7,1016.9 2074,971.9 2075.3,995.9 2076.6,980.6 2077.9,959.2 2079.2,945.7 2080.5,964.4 2081.8,951.1 2083.1,924.1 2084.4,951.1 2085.7,950.4 2087,936.7 2088.3,894.1 2089.6,937 2090.9,914.2 2092.2,932.9 2093.5,903.2 2094.8,891.6 2096.1,898.3 2097.4,894.1 2098.7,934.2 2100,860.9 2101.3,846.3 2102.6,870.9 2103.9,868.2 2105.2,802.8 2106.5,821.4 2107.8,836.4 2109.1,845.3 2110.4,835.9 2111.7,873.5 2113,835 2114.3,816.4 2115.6,826.3 2116.9,829.5 2118.2,831.9 2119.5,752.3 2120.8,809.1 2122.1,815.2 2123.4,828.5 2124.7,782.9 2126,786 2127.3,738.3 2128.6,784.7 2129.9,779.5 2131.2,727.2 2132.5,743 2133.8,721 2135.1,748.5 2136.4,710.2 2137.7,712.6"/>
<rect x="344.2" y="44.8" width="1798.2" height="13.2" fill="#000"/>
<rect x="2135.8" y="51.4" width="13.2" height="1332.2" fill="#000"/>
<text transform="translate(396.8,156.7) scale(0.976,1)" font-family='"Liberation Sans", sans-serif' font-size="85.5" font-weight="bold" text-anchor="start" >(A)</text>
<text x="1062.6" y="493" font-family='"Liberation Sans", sans-serif' font-size="71.3" font-weight="bold" text-anchor="start" >Control</text>
<text x="1022.8" y="706.2" font-family='"Liberation Sans", sans-serif' font-size="71.5" font-weight="bold" text-anchor="start" >PI-1</text>
<text x="1191.6" y="894.1" font-family='"Liberation Sans", sans-serif' font-size="71.5" font-weight="bold" text-anchor="start" >PI-2</text>
<text x="1367" y="1177.4" font-family='"Liberation Sans", sans-serif' font-size="71.5" font-weight="bold" text-anchor="start" >PI-3</text>
<text x="763.6" y="1116.7" font-family='"Liberation Sans", sans-serif' font-size="71.5" font-weight="bold" text-anchor="start" >PI-4</text>
<line x1="985.2" y1="493.1" x2="1016.6" y2="482.8" stroke="#000" stroke-width="2.0"/><polygon points="1050.3,471.7 1019.3,491.1 1013.9,474.5" fill="#000"/>
<line x1="931.1" y1="688.2" x2="970.5" y2="681.1" stroke="#000" stroke-width="2.0"/><polygon points="1005.5,674.9 972.1,689.8 969,672.5" fill="#000"/>
<line x1="1136.1" y1="894.1" x2="1162.7" y2="879.5" stroke="#000" stroke-width="2.0"/><polygon points="1193.9,862.4 1166.9,887.2 1158.5,871.8" fill="#000"/>
<line x1="1382" y1="1076.7" x2="1399.4" y2="1087.1" stroke="#000" stroke-width="2.0"/><polygon points="1429.9,1105.2 1394.9,1094.6 1403.9,1079.5" fill="#000"/>
<line x1="718.7" y1="1123.8" x2="731" y2="1114.2" stroke="#000" stroke-width="2.0"/><polygon points="759,1092.4 736.4,1121.1 725.7,1107.3" fill="#000"/>
<text transform="translate(99.2,819.9) rotate(-90) scale(0.942,1)" font-family='"Liberation Sans", sans-serif' font-size="87.8" font-weight="bold">R%</text>
<text x="943.5" y="1599.3" font-family='"Liberation Serif", serif' font-size="84" font-weight="bold" text-anchor="start" style="font-kerning:none">Wavelength(nm)</text>
</g>
<g id="plotB">
<rect x="337.6" y="1974.4" width="13.2" height="1332.2" fill="#000"/>
<rect x="344.2" y="3273.4" width="1798.2" height="13.2" fill="#000"/>
<text transform="translate(344.2,3384.9) scale(0.964,1)" font-family='"Liberation Sans", sans-serif' font-size="79.5" font-weight="bold" text-anchor="middle" >400</text>
<rect x="487.5" y="3280" width="13.2" height="13.4" fill="#000"/>
<rect x="637.3" y="3280" width="13.2" height="26.6" fill="#000"/>
<text transform="translate(643.9,3384.9) scale(0.964,1)" font-family='"Liberation Sans", sans-serif' font-size="79.5" font-weight="bold" text-anchor="middle" >500</text>
<rect x="787.2" y="3280" width="13.2" height="13.4" fill="#000"/>
<rect x="937" y="3280" width="13.2" height="26.6" fill="#000"/>
<text transform="translate(943.6,3384.9) scale(0.964,1)" font-family='"Liberation Sans", sans-serif' font-size="79.5" font-weight="bold" text-anchor="middle" >600</text>
<rect x="1086.9" y="3280" width="13.2" height="13.4" fill="#000"/>
<rect x="1236.7" y="3280" width="13.2" height="26.6" fill="#000"/>
<text transform="translate(1243.3,3384.9) scale(0.964,1)" font-family='"Liberation Sans", sans-serif' font-size="79.5" font-weight="bold" text-anchor="middle" >700</text>
<rect x="1386.6" y="3280" width="13.2" height="13.4" fill="#000"/>
<rect x="1536.4" y="3280" width="13.2" height="26.6" fill="#000"/>
<text transform="translate(1543,3384.9) scale(0.964,1)" font-family='"Liberation Sans", sans-serif' font-size="79.5" font-weight="bold" text-anchor="middle" >800</text>
<rect x="1686.3" y="3280" width="13.2" height="13.4" fill="#000"/>
<rect x="1836.1" y="3280" width="13.2" height="26.6" fill="#000"/>
<text transform="translate(1842.7,3384.9) scale(0.964,1)" font-family='"Liberation Sans", sans-serif' font-size="79.5" font-weight="bold" text-anchor="middle" >900</text>
<rect x="1986" y="3280" width="13.2" height="13.4" fill="#000"/>
<text transform="translate(2142.4,3384.9) scale(0.964,1)" font-family='"Liberation Sans", sans-serif' font-size="79.5" font-weight="bold" text-anchor="middle" >1000</text>
<rect x="317.6" y="3169" width="26.6" height="13.2" fill="#000"/>
<text transform="translate(298.4,3198.6) scale(0.964,1)" font-family='"Liberation Sans", sans-serif' font-size="79.5" font-weight="bold" text-anchor="end" >12</text>
<rect x="317.6" y="3012.3" width="26.6" height="13.2" fill="#000"/>
<text transform="translate(298.4,3041.9) scale(0.964,1)" font-family='"Liberation Sans", sans-serif' font-size="79.5" font-weight="bold" text-anchor="end" >15</text>
<rect x="317.6" y="2855.6" width="26.6" height="13.2" fill="#000"/>
<text transform="translate(298.4,2885.2) scale(0.964,1)" font-family='"Liberation Sans", sans-serif' font-size="79.5" font-weight="bold" text-anchor="end" >18</text>
<rect x="317.6" y="2698.9" width="26.6" height="13.2" fill="#000"/>
<text transform="translate(298.4,2728.5) scale(0.964,1)" font-family='"Liberation Sans", sans-serif' font-size="79.5" font-weight="bold" text-anchor="end" >21</text>
<rect x="317.6" y="2542.3" width="26.6" height="13.2" fill="#000"/>
<text transform="translate(298.4,2571.9) scale(0.964,1)" font-family='"Liberation Sans", sans-serif' font-size="79.5" font-weight="bold" text-anchor="end" >24</text>
<rect x="317.6" y="2385.6" width="26.6" height="13.2" fill="#000"/>
<text transform="translate(298.4,2415.2) scale(0.964,1)" font-family='"Liberation Sans", sans-serif' font-size="79.5" font-weight="bold" text-anchor="end" >27</text>
<rect x="317.6" y="2228.9" width="26.6" height="13.2" fill="#000"/>
<text transform="translate(298.4,2258.5) scale(0.964,1)" font-family='"Liberation Sans", sans-serif' font-size="79.5" font-weight="bold" text-anchor="end" >30</text>
<rect x="317.6" y="2072.2" width="26.6" height="13.2" fill="#000"/>
<text transform="translate(298.4,2101.8) scale(0.964,1)" font-family='"Liberation Sans", sans-serif' font-size="79.5" font-weight="bold" text-anchor="end" >33</text>
<rect x="330.8" y="3247.3" width="13.4" height="13.2" fill="#000"/>
<rect x="330.8" y="3090.6" width="13.4" height="13.2" fill="#000"/>
<rect x="330.8" y="2933.9" width="13.4" height="13.2" fill="#000"/>
<rect x="330.8" y="2777.3" width="13.4" height="13.2" fill="#000"/>
<rect x="330.8" y="2620.6" width="13.4" height="13.2" fill="#000"/>
<rect x="330.8" y="2463.9" width="13.4" height="13.2" fill="#000"/>
<rect x="330.8" y="2307.3" width="13.4" height="13.2" fill="#000"/>
<rect x="330.8" y="2150.6" width="13.4" height="13.2" fill="#000"/>
<rect x="330.8" y="1993.9" width="13.4" height="13.2" fill="#000"/>
<polyline fill="none" stroke="#ff00ff" stroke-width="3.6" stroke-linejoin="round" stroke-linecap="round" points="345,2595.6 346.3,2646.1 347.6,2504.8 348.9,2654.1 350.2,2577.1 351.5,2523.8 352.8,2548.7 354.1,2530.9 355.4,2565.8 356.7,2610.9 358,2598.4 359.3,2601.1 360.6,2501.9 361.9,2506.6 363.2,2642.8 364.5,2618.1 365.8,2665 367.1,2623.4 368.4,2530.6 369.7,2627.5 371,2599.7 372.3,2581.9 373.6,2539.2 374.9,2577.8 376.2,2568.5 377.5,2612.1 378.8,2578.3 380.1,2638.3 381.4,2540.3 382.7,2590.5 384,2588.8 385.3,2533.3 386.6,2524 387.9,2616.8 389.2,2611.4 390.5,2568.3 391.8,2598.2 393.1,2558.4 394.4,2596.1 395.7,2560.2 397,2592.5 398.3,2623 399.6,2568.3 400.9,2613.5 402.2,2537.1 403.5,2566.7 404.8,2526.3 406.1,2574.1 407.4,2584.9 408.7,2573.9 410,2572.3 411.3,2671.8 412.6,2640.8 413.9,2540 415.2,2661.8 416.5,2522.8 417.8,2561.9 419.1,2583.7 420.4,2594.4 421.7,2526.3 423,2568.4 424.3,2604.2 425.6,2578.3 426.9,2582.6 428.2,2632.5 429.5,2642.6 430.8,2607 432.1,2611.4 433.4,2608.6 434.7,2592.4 436,2590.1 437.3,2572 438.6,2632.5 439.9,2607.4 441.2,2606.3 442.5,2618.8 443.8,2630.5 445.1,2664.6 446.4,2607.3 447.7,2593 449,2624.7 450.3,2590.1 451.6,2661 452.9,2648.9 454.2,2640.6 455.5,2615.6 456.8,2645.2 458.1,2654.3 459.4,2637.9 460.7,2615.2 462,2574.3 463.3,2657.8 464.6,2617.6 465.9,2602.8 467.2,2659.8 468.5,2641.6 469.8,2554.6 471.1,2625.6 472.4,2624.8 473.7,2663.4 475,2574.9 476.3,2622.8 477.6,2633.1 478.9,2680.3 480.2,2602.8 481.5,2556.2 482.8,2596.2 484.1,2647.8 485.4,2665.1 486.7,2692 488,2652.4 489.3,2618.2 490.6,2667 491.9,2641.8 493.2,2634.7 494.5,2641.2 495.8,2703.4 497.1,2599.9 498.4,2596.3 499.7,2643.7 501,2643.6 502.3,2626.4 503.6,2626.2 504.9,2661.9 506.2,2687.2 507.5,2669.1 508.8,2683.3 510.1,2686.3 511.4,2598.9 512.7,2614.4 514,2637.6 515.3,2604.1 516.6,2631.4 517.9,2659.9 519.2,2624.5 520.5,2639.4 521.8,2606.1 523.1,2633.8 524.4,2693.5 525.7,2646.3 527,2669.5 528.3,2679.8 529.6,2650 530.9,2675.7 532.2,2666.8 533.5,2678.7 534.8,2646.4 536.1,2628.3 537.4,2640.5 538.7,2651.7 540,2678.8 541.3,2661.2 542.6,2657.9 543.9,2664.5 545.2,2695.3 546.5,2655.2 547.8,2703.9 549.1,2639.2 550.4,2655.2 551.7,2689.5 553,2681.1 554.3,2649.3 555.6,2667.3 556.9,2655.3 558.2,2706.6 559.5,2686.2 560.8,2658.7 562.1,2683.8 563.4,2665.7 564.7,2672.4 566,2676.3 567.3,2663.5 568.6,2684 569.9,2684.4 571.2,2684.6 572.5,2701.9 573.8,2671.9 575.1,2645.9 576.4,2666.4 577.7,2682.6 579,2678.8 580.3,2690.7 581.6,2694.4 582.9,2674.3 584.2,2675 585.5,2657 586.8,2700.4 588.1,2675.6 589.4,2659.1 590.7,2658.9 592,2666.9 593.3,2717.1 594.6,2702.4 595.9,2652.4 597.2,2682.7 598.5,2691 599.8,2698 601.1,2693.1 602.4,2672.5 603.7,2692.8 605,2675.5 606.3,2643.5 607.6,2663.1 608.9,2673.9 610.2,2704.7 611.5,2707 612.8,2668.5 614.1,2692.9 615.4,2691.6 616.7,2665.6 618,2655.5 619.3,2691.2 620.6,2695.8 621.9,2682.8 623.2,2644.5 624.5,2693.7 625.8,2684.1 627.1,2679.1 628.4,2690.6 629.7,2676.4 631,2713.8 632.3,2698.5 633.6,2688.6 634.9,2707 636.2,2699 637.5,2674.1 638.8,2698.1 640.1,2692.5 641.4,2671.2 642.7,2690.1 644,2707.6 645.3,2691 646.6,2723.8 647.9,2727.5 649.2,2697.4 650.5,2711.9 651.8,2734.2 653.1,2698.9 654.4,2691.7 655.7,2695.5 657,2687.9 658.3,2688.4 659.6,2713.1 660.9,2705.7 662.2,2714.7 663.5,2717.8 664.8,2699.2 666.1,2708.4 667.4,2708.1 668.7,2702.9 670,2700.2 671.3,2719.7 672.6,2712.5 673.9,2721.8 675.2,2731.9 676.5,2731.9 677.8,2700.7 679.1,2704.9 680.4,2714 681.7,2720.8 683,2732.6 684.3,2704.3 685.6,2713.5 686.9,2723.5 688.2,2751.1 689.5,2740.7 690.8,2706 692.1,2718 693.4,2702.3 694.7,2742.5 696,2729.7 697.3,2716.9 698.6,2714 699.9,2726.6 701.2,2746.2 702.5,2713.2 703.8,2718.9 705.1,2725 706.4,2725.1 707.7,2730.1 709,2712.8 710.3,2718.1 711.6,2698 712.9,2728.2 714.2,2741.4 715.5,2699.3 716.8,2718.2 718.1,2739.1 719.4,2724.7 720.7,2690.4 722,2743 723.3,2709.2 724.6,2746.8 725.9,2717.4 727.2,2721.9 728.5,2733.9 729.8,2733.7 731.1,2740.8 732.4,2740.2 733.7,2732.5 735,2762.6 736.3,2743.1 737.6,2737.2 738.9,2735.2 740.2,2732.2 741.5,2733.8 742.8,2742.8 744.1,2740.8 745.4,2736 746.7,2749 748,2734.2 749.3,2744.8 750.6,2750.5 751.9,2727 753.2,2738.2 754.5,2762.8 755.8,2731.1 757.1,2757.2 758.4,2730.5 759.7,2752.4 761,2732.7 762.3,2738.8 763.6,2741.5 764.9,2740.1 766.2,2759.4 767.5,2758.1 768.8,2758.3 770.1,2749.4 771.4,2767.1 772.7,2768.5 774,2751.6 775.3,2735.4 776.6,2755.4 777.9,2754.6 779.2,2748.5 780.5,2756 781.8,2757.6 783.1,2743.9 784.4,2757 785.7,2755.4 787,2755.6 788.3,2748.8 789.6,2747.4 790.9,2754.5 792.2,2768.1 793.5,2781.7 794.8,2747.5 796.1,2740.8 797.4,2749.2 798.7,2744 800,2749.2 801.3,2760.3 802.6,2743.7 803.9,2760.3 805.2,2762.3 806.5,2781.1 807.8,2773.2 809.1,2764.6 810.4,2779.1 811.7,2749.9 813,2758.7 814.3,2757.6 815.6,2761.4 816.9,2767.8 818.2,2754.1 819.5,2775.8 820.8,2771.3 822.1,2764 823.4,2763.1 824.7,2748.3 826,2732.8 827.3,2757.9 828.6,2762.1 829.9,2763.3 831.2,2749.1 832.5,2756.3 833.8,2779.3 835.1,2768.9 836.4,2768.3 837.7,2759.7 839,2770.9 840.3,2785.5 841.6,2772.1 842.9,2760.4 844.2,2768.5 845.5,2756.2 846.8,2762.4 848.1,2771.9 849.4,2760.8 850.7,2763.7 852,2781.3 853.3,2765 854.6,2775.1 855.9,2764.6 857.2,2755.8 858.5,2767.4 859.8,2763.9 861.1,2747.7 862.4,2755.9 863.7,2763.7 865,2782.6 866.3,2763.3 867.6,2769.3 868.9,2776 870.2,2772 871.5,2766.2 872.8,2786.6 874.1,2782.6 875.4,2746.9 876.7,2779.4 878,2775.9 879.3,2780.9 880.6,2772.5 881.9,2779.4 883.2,2790.9 884.5,2789.2 885.8,2790.3 887.1,2783.6 888.4,2782.6 889.7,2783.1 891,2757 892.3,2796.3 893.6,2777.4 894.9,2778.8 896.2,2776.5 897.5,2783.1 898.8,2756.2 900.1,2778.5 901.4,2764.8 902.7,2767.1 904,2759 905.3,2760.6 906.6,2781.9 907.9,2772.5 909.2,2776.1 910.5,2775.2 911.8,2767.2 913.1,2771.3 914.4,2766.9 915.7,2774.7 917,2757.1 918.3,2773.4 919.6,2785.4 920.9,2787.5 922.2,2787.1 923.5,2781.5 924.8,2769.5 926.1,2786.5 927.4,2783.4 928.7,2781.5 930,2769.7 931.3,2784.2 932.6,2793.2 933.9,2787.4 935.2,2779 936.5,2786.1 937.8,2782.2 939.1,2783.5 940.4,2790.2 941.7,2786.2 943,2783.9 944.3,2787.4 945.6,2777.4 946.9,2775.8 948.2,2789 949.5,2779.3 950.8,2789.8 952.1,2770.1 953.4,2796.7 954.7,2786.2 956,2802.3 957.3,2766.9 958.6,2773.9 959.9,2809.5 961.2,2790.2 962.5,2793.5 963.8,2789.6 965.1,2789.5 966.4,2792.5 967.7,2780 969,2786.6 970.3,2799.3 971.6,2791.3 972.9,2781 974.2,2791.1 975.5,2799.3 976.8,2789 978.1,2790.7 979.4,2799.4 980.7,2799.5 982,2804.7 983.3,2791.9 984.6,2798.9 985.9,2802.7 987.2,2771.1 988.5,2795.4 989.8,2799.3 991.1,2795.4 992.4,2788.8 993.7,2801 995,2807 996.3,2796.4 997.6,2793.5 998.9,2795.1 1000.2,2809.4 1001.5,2807.4 1002.8,2797.7 1004.1,2788.7 1005.4,2787.7 1006.7,2795.5 1008,2796 1009.3,2801.2 1010.6,2790.1 1011.9,2798.7 1013.2,2804.7 1014.5,2787 1015.8,2822.7 1017.1,2806.2 1018.4,2805.9 1019.7,2791.5 1021,2793.8 1022.3,2810 1023.6,2809.2 1024.9,2782.6 1026.2,2811.7 1027.5,2809.1 1028.8,2809 1030.1,2795.5 1031.4,2807.2 1032.7,2800.7 1034,2810.5 1035.3,2820 1036.6,2810.7 1037.9,2813.7 1039.2,2803.9 1040.5,2793 1041.8,2806.7 1043.1,2815.1 1044.4,2827.3 1045.7,2807.3 1047,2810.1 1048.3,2805.2 1049.6,2794.7 1050.9,2808.4 1052.2,2810.3 1053.5,2805.2 1054.8,2807.3 1056.1,2794.6 1057.4,2809.2 1058.7,2820.2 1060,2810.2 1061.3,2819.2 1062.6,2817.4 1063.9,2806.2 1065.2,2814.7 1066.5,2807 1067.8,2832.9 1069.1,2814.5 1070.4,2804.3 1071.7,2801 1073,2823.5 1074.3,2816.6 1075.6,2815.6 1076.9,2803.1 1078.2,2809.7 1079.5,2805.4 1080.8,2822.9 1082.1,2811.3 1083.4,2829.7 1084.7,2819.1 1086,2812.7 1087.3,2824.8 1088.6,2795.2 1089.9,2805.4 1091.2,2810.9 1092.5,2823.7 1093.8,2824.2 1095.1,2819.5 1096.4,2797.2 1097.7,2813.9 1099,2809.9 1100.3,2827.2 1101.6,2815.3 1102.9,2823 1104.2,2832.5 1105.5,2818.9 1106.8,2824 1108.1,2814.6 1109.4,2819.8 1110.7,2820 1112,2820.1 1113.3,2820.9 1114.6,2818 1115.9,2834.9 1117.2,2817.6 1118.5,2824.5 1119.8,2821.2 1121.1,2807.5 1122.4,2831 1123.7,2826.2 1125,2814.7 1126.3,2819.7 1127.6,2813.2 1128.9,2827.6 1130.2,2836.7 1131.5,2834.1 1132.8,2816.4 1134.1,2814.3 1135.4,2830.1 1136.7,2838.6 1138,2826.5 1139.3,2833.9 1140.6,2817 1141.9,2826.8 1143.2,2830.1 1144.5,2824.7 1145.8,2826.5 1147.1,2833.5 1148.4,2825 1149.7,2822.6 1151,2834.4 1152.3,2831.6 1153.6,2823.7 1154.9,2833.9 1156.2,2827.2 1157.5,2835.5 1158.8,2831.2 1160.1,2830.2 1161.4,2826.6 1162.7,2833.4 1164,2832 1165.3,2845.9 1166.6,2832.7 1167.9,2824.2 1169.2,2848.5 1170.5,2820.7 1171.8,2846.4 1173.1,2828.8 1174.4,2844.2 1175.7,2833.7 1177,2838.6 1178.3,2835.3 1179.6,2834.4 1180.9,2839 1182.2,2831.4 1183.5,2840 1184.8,2829.4 1186.1,2832.3 1187.4,2834.1 1188.7,2837.3 1190,2852.8 1191.3,2833.1 1192.6,2832.7 1193.9,2831.2 1195.2,2836.3 1196.5,2843.2 1197.8,2831.1 1199.1,2838.2 1200.4,2836.5 1201.7,2841.9 1203,2827.8 1204.3,2846.5 1205.6,2848.8 1206.9,2836.8 1208.2,2842.5 1209.5,2837.1 1210.8,2850.7 1212.1,2848.3 1213.4,2862.6 1214.7,2843.5 1216,2839.1 1217.3,2842.5 1218.6,2837.5 1219.9,2847.5 1221.2,2849.1 1222.5,2853.4 1223.8,2850.2 1225.1,2844.9 1226.4,2856.3 1227.7,2851 1229,2853.1 1230.3,2839 1231.6,2841.7 1232.9,2840.4 1234.2,2845.6 1235.5,2833.3 1236.8,2857.5 1238.1,2848.2 1239.4,2856 1240.7,2859.7 1242,2861 1243.3,2854.8 1244.6,2854.5 1245.9,2846.7 1247.2,2852.9 1248.5,2869.6 1249.8,2840.1 1251.1,2847 1252.4,2853.7 1253.7,2862.9 1255,2844.8 1256.3,2849.1 1257.6,2853.9 1258.9,2870.4 1260.2,2847.1 1261.5,2852.6 1262.8,2858.5 1264.1,2849 1265.4,2856.5 1266.7,2856.7 1268,2851.7 1269.3,2856.7 1270.6,2865.8 1271.9,2856.7 1273.2,2852.7 1274.5,2850.8 1275.8,2858.1 1277.1,2863.6 1278.4,2858.3 1279.7,2859.5 1281,2874.6 1282.3,2851.8 1283.6,2849.7 1284.9,2858.2 1286.2,2854.7 1287.5,2860.3 1288.8,2865.2 1290.1,2859.6 1291.4,2856.5 1292.7,2861.7 1294,2861.7 1295.3,2858.6 1296.6,2854.8 1297.9,2862.8 1299.2,2857.3 1300.5,2850.9 1301.8,2862.8 1303.1,2855.3 1304.4,2855.1 1305.7,2863.2 1307,2853.5 1308.3,2857.5 1309.6,2852.3 1310.9,2842.6 1312.2,2863.4 1313.5,2870.7 1314.8,2855 1316.1,2869.2 1317.4,2873.8 1318.7,2871.4 1320,2854.7 1321.3,2857.2 1322.6,2872 1323.9,2861 1325.2,2861.3 1326.5,2865.7 1327.8,2865.5 1329.1,2857.9 1330.4,2860.1 1331.7,2865.6 1333,2864.8 1334.3,2856.9 1335.6,2870.3 1336.9,2867.3 1338.2,2859.2 1339.5,2859.1 1340.8,2868.8 1342.1,2847.6 1343.4,2864.9 1344.7,2859.7 1346,2856.9 1347.3,2873.8 1348.6,2865.5 1349.9,2880.2 1351.2,2862.5 1352.5,2866.4 1353.8,2855.2 1355.1,2870.7 1356.4,2860.6 1357.7,2865.6 1359,2872.7 1360.3,2871.9 1361.6,2867.3 1362.9,2872.6 1364.2,2860.3 1365.5,2855 1366.8,2855.3 1368.1,2869.3 1369.4,2878.3 1370.7,2864.5 1372,2866.4 1373.3,2864.2 1374.6,2869.6 1375.9,2854.7 1377.2,2871 1378.5,2872 1379.8,2860.8 1381.1,2858.8 1382.4,2859.4 1383.7,2868.7 1385,2874.4 1386.3,2859.1 1387.6,2856.4 1388.9,2866.4 1390.2,2867.8 1391.5,2871 1392.8,2862 1394.1,2871.6 1395.4,2874.2 1396.7,2856.8 1398,2865.6 1399.3,2870.8 1400.6,2872 1401.9,2863.8 1403.2,2855.3 1404.5,2862.5 1405.8,2858.7 1407.1,2864.5 1408.4,2874.2 1409.7,2863.7 1411,2868.2 1412.3,2859.9 1413.6,2873.3 1414.9,2863.3 1416.2,2860.9 1417.5,2879.5 1418.8,2870.1 1420.1,2872.2 1421.4,2850.8 1422.7,2877 1424,2879.1 1425.3,2867.6 1426.6,2866.1 1427.9,2864.8 1429.2,2875.5 1430.5,2859.2 1431.8,2871.4 1433.1,2881.7 1434.4,2870.4 1435.7,2882 1437,2869.4 1438.3,2867.2 1439.6,2874.7 1440.9,2868.4 1442.2,2869.4 1443.5,2866 1444.8,2861.1 1446.1,2867 1447.4,2873 1448.7,2875.2 1450,2868.2 1451.3,2870.8 1452.6,2863.2 1453.9,2868 1455.2,2868.2 1456.5,2868.6 1457.8,2870 1459.1,2872 1460.4,2877.4 1461.7,2875.3 1463,2874 1464.3,2858.5 1465.6,2862.4 1466.9,2870.6 1468.2,2870.9 1469.5,2874.7 1470.8,2859.4 1472.1,2871.1 1473.4,2870.9 1474.7,2868.5 1476,2866 1477.3,2872.7 1478.6,2870.2 1479.9,2873.6 1481.2,2858.7 1482.5,2865.6 1483.8,2880.5 1485.1,2872.9 1486.4,2866.5 1487.7,2868.9 1489,2863.2 1490.3,2879.5 1491.6,2879.8 1492.9,2876.4 1494.2,2883.8 1495.5,2874.3 1496.8,2886 1498.1,2876.2 1499.4,2880.9 1500.7,2872.3 1502,2872 1503.3,2869.5 1504.6,2869.8 1505.9,2863.1 1507.2,2886.6 1508.5,2881.3 1509.8,2877.6 1511.1,2879.7 1512.4,2874.7 1513.7,2876.4 1515,2865.2 1516.3,2873.4 1517.6,2862.7 1518.9,2869.5 1520.2,2871.4 1521.5,2871.4 1522.8,2867.1 1524.1,2881.1 1525.4,2879.2 1526.7,2870.3 1528,2865.5 1529.3,2870.3 1530.6,2883.2 1531.9,2861.7 1533.2,2878.3 1534.5,2872.3 1535.8,2870.7 1537.1,2880 1538.4,2873.8 1539.7,2871 1541,2881.9 1542.3,2864.8 1543.6,2885.3 1544.9,2870.5 1546.2,2870.6 1547.5,2885.6 1548.8,2892 1550.1,2883.8 1551.4,2870.6 1552.7,2862.3 1554,2877 1555.3,2876 1556.6,2872.8 1557.9,2876 1559.2,2872 1560.5,2882.2 1561.8,2876.7 1563.1,2876.6 1564.4,2864.3 1565.7,2879.9 1567,2869.1 1568.3,2883.3 1569.6,2878.7 1570.9,2865.7 1572.2,2876.2 1573.5,2870.5 1574.8,2881.8 1576.1,2881.3 1577.4,2890.6 1578.7,2873.6 1580,2884.5 1581.3,2870.5 1582.6,2881.7 1583.9,2878.3 1585.2,2881.6 1586.5,2880.5 1587.8,2887.4 1589.1,2879.4 1590.4,2880.5 1591.7,2890.7 1593,2881.5 1594.3,2878.4 1595.6,2876.2 1596.9,2882.2 1598.2,2881.4 1599.5,2886.3 1600.8,2881.7 1602.1,2887.9 1603.4,2881.9 1604.7,2901.6 1606,2884 1607.3,2893.1 1608.6,2887.7 1609.9,2876.3 1611.2,2891.7 1612.5,2882.5 1613.8,2891.6 1615.1,2871.5 1616.4,2872 1617.7,2866 1619,2873 1620.3,2882.7 1621.6,2884.8 1622.9,2878 1624.2,2882.9 1625.5,2880.7 1626.8,2890.3 1628.1,2890.2 1629.4,2887.3 1630.7,2890.5 1632,2898.7 1633.3,2891.2 1634.6,2876.2 1635.9,2885.6 1637.2,2885.2 1638.5,2893.4 1639.8,2890.3 1641.1,2893.2 1642.4,2875.3 1643.7,2904.2 1645,2885.7 1646.3,2893.8 1647.6,2890.4 1648.9,2880.6 1650.2,2880.9 1651.5,2892.1 1652.8,2896.3 1654.1,2880.2 1655.4,2872.9 1656.7,2871.7 1658,2880.1 1659.3,2881.2 1660.6,2882.6 1661.9,2890.1 1663.2,2881.3 1664.5,2876 1665.8,2881.8 1667.1,2884.5 1668.4,2886.3 1669.7,2886.2 1671,2884.3 1672.3,2893.2 1673.6,2883.7 1674.9,2877.9 1676.2,2884.9 1677.5,2900.8 1678.8,2879 1680.1,2904.7 1681.4,2881.4 1682.7,2890.8 1684,2872.1 1685.3,2883.4 1686.6,2895.7 1687.9,2874.8 1689.2,2878.8 1690.5,2888.9 1691.8,2888.1 1693.1,2873.2 1694.4,2875.6 1695.7,2888.4 1697,2888.4 1698.3,2891.6 1699.6,2884 1700.9,2889.5 1702.2,2901.2 1703.5,2867.3 1704.8,2892.2 1706.1,2890.1 1707.4,2895.2 1708.7,2879.6 1710,2885.2 1711.3,2886.3 1712.6,2881.1 1713.9,2892.9 1715.2,2886.7 1716.5,2875.7 1717.8,2886.1 1719.1,2875.1 1720.4,2871 1721.7,2875.9 1723,2885.7 1724.3,2886.3 1725.6,2885.3 1726.9,2890.5 1728.2,2902.5 1729.5,2877.2 1730.8,2889.8 1732.1,2888.4 1733.4,2876.6 1734.7,2882.3 1736,2888.5 1737.3,2886.2 1738.6,2879.2 1739.9,2892.7 1741.2,2888.6 1742.5,2895.8 1743.8,2899.6 1745.1,2876 1746.4,2894.8 1747.7,2891.2 1749,2879.5 1750.3,2886.8 1751.6,2883.9 1752.9,2877.9 1754.2,2894.5 1755.5,2881.7 1756.8,2871.1 1758.1,2895.6 1759.4,2884.2 1760.7,2891.3 1762,2891.4 1763.3,2885.3 1764.6,2885 1765.9,2867.2 1767.2,2882.3 1768.5,2878.9 1769.8,2892.9 1771.1,2881.9 1772.4,2883.5 1773.7,2890.9 1775,2880 1776.3,2883.7 1777.6,2886.1 1778.9,2894.3 1780.2,2879.4 1781.5,2898.1 1782.8,2889.5 1784.1,2886.8 1785.4,2896.5 1786.7,2899.5 1788,2900.1 1789.3,2874.6 1790.6,2901.1 1791.9,2889.4 1793.2,2900.5 1794.5,2880 1795.8,2887.8 1797.1,2889.2 1798.4,2879.6 1799.7,2886.2 1801,2904 1802.3,2900.3 1803.6,2897 1804.9,2894.1 1806.2,2887.3 1807.5,2909.5 1808.8,2880.4 1810.1,2881.4 1811.4,2885.3 1812.7,2893.2 1814,2887.2 1815.3,2896.9 1816.6,2866.7 1817.9,2897.2 1819.2,2913.9 1820.5,2902.3 1821.8,2887.2 1823.1,2884.4 1824.4,2900.1 1825.7,2875.3 1827,2883 1828.3,2875.3 1829.6,2888.4 1830.9,2905.4 1832.2,2885.8 1833.5,2898.9 1834.8,2880.1 1836.1,2885 1837.4,2885.4 1838.7,2899.9 1840,2882.8 1841.3,2884.7 1842.6,2890.7 1843.9,2904.1 1845.2,2890.5 1846.5,2905.2 1847.8,2893.1 1849.1,2887.1 1850.4,2899.3 1851.7,2883.3 1853,2880.3 1854.3,2889.5 1855.6,2874.2 1856.9,2869.2 1858.2,2880.4 1859.5,2887.2 1860.8,2896 1862.1,2896.8 1863.4,2884.8 1864.7,2888.7 1866,2883.6 1867.3,2872.2 1868.6,2888.2 1869.9,2877.6 1871.2,2890.5 1872.5,2877.4 1873.8,2873.2 1875.1,2884.7 1876.4,2876.1 1877.7,2869.3 1879,2890.6 1880.3,2885.6 1881.6,2882.8 1882.9,2879.4 1884.2,2873.2 1885.5,2852.9 1886.8,2873.1 1888.1,2873.1 1889.4,2879.9 1890.7,2864.3 1892,2881.3 1893.3,2877.1 1894.6,2889.6 1895.9,2868.1 1897.2,2874.1 1898.5,2876.5 1899.8,2878.3 1901.1,2883.4 1902.4,2874.1 1903.7,2856.9 1905,2884.4 1906.3,2850.2 1907.6,2878.6 1908.9,2881.1 1910.2,2861.5 1911.5,2867.4 1912.8,2866.3 1914.1,2856.6 1915.4,2870.6 1916.7,2850.7 1918,2869.1 1919.3,2871.5 1920.6,2876.3 1921.9,2878.9 1923.2,2869 1924.5,2869.1 1925.8,2861.9 1927.1,2863 1928.4,2872.3 1929.7,2875.9 1931,2866.3 1932.3,2861 1933.6,2870.4 1934.9,2847.1 1936.2,2851.8 1937.5,2858.2 1938.8,2867 1940.1,2841.8 1941.4,2843.2 1942.7,2841.3 1944,2860 1945.3,2860.6 1946.6,2878.7 1947.9,2873.8 1949.2,2836.4 1950.5,2844.8 1951.8,2839.1 1953.1,2832.3 1954.4,2842.4 1955.7,2834.9 1957,2840.8 1958.3,2833.7 1959.6,2820.2 1960.9,2841.3 1962.2,2839.9 1963.5,2825.1 1964.8,2807.4 1966.1,2805 1967.4,2813.9 1968.7,2835.1 1970,2833.8 1971.3,2826 1972.6,2822.7 1973.9,2791.9 1975.2,2821.9 1976.5,2808.8 1977.8,2811.1 1979.1,2801.1 1980.4,2788.2 1981.7,2818 1983,2812.3 1984.3,2793.2 1985.6,2784.4 1986.9,2792.9 1988.2,2808 1989.5,2801.4 1990.8,2793.8 1992.1,2800.9 1993.4,2792.9 1994.7,2776.9 1996,2792.5 1997.3,2780.9 1998.6,2769.3 1999.9,2789.2 2001.2,2779.6 2002.5,2754.2 2003.8,2777.2 2005.1,2768 2006.4,2759.3 2007.7,2756.3 2009,2746.3 2010.3,2737.7 2011.6,2756.4 2012.9,2757.2 2014.2,2747 2015.5,2752.8 2016.8,2737.7 2018.1,2740.3 2019.4,2749.6 2020.7,2747 2022,2756.3 2023.3,2728.9 2024.6,2736.5 2025.9,2727.3 2027.2,2729.1 2028.5,2740.2 2029.8,2727.8 2031.1,2709.1 2032.4,2710.9 2033.7,2706 2035,2708.9 2036.3,2702.4 2037.6,2701.9 2038.9,2703 2040.2,2707.6 2041.5,2690.1 2042.8,2700.9 2044.1,2698.2 2045.4,2705.7 2046.7,2694.9 2048,2695.9 2049.3,2689.6 2050.6,2697.7 2051.9,2676.6 2053.2,2654.2 2054.5,2677.1 2055.8,2654.8 2057.1,2633 2058.4,2667.8 2059.7,2656 2061,2655.7 2062.3,2655.1 2063.6,2641.7 2064.9,2656.5 2066.2,2639.3 2067.5,2629.8 2068.8,2632.2 2070.1,2599.3 2071.4,2633.8 2072.7,2600.3 2074,2623.6 2075.3,2610.3 2076.6,2612 2077.9,2594.6 2079.2,2628.5 2080.5,2569.5 2081.8,2596.9 2083.1,2583.2 2084.4,2569 2085.7,2612.5 2087,2590.8 2088.3,2621.8 2089.6,2592.9 2090.9,2584.3 2092.2,2580.7 2093.5,2549.3 2094.8,2544.8 2096.1,2584.5 2097.4,2570.5 2098.7,2541.6 2100,2550.6 2101.3,2547.6 2102.6,2558.3 2103.9,2539.9 2105.2,2518.2 2106.5,2538.3 2107.8,2513.9 2109.1,2528.7 2110.4,2507.2 2111.7,2468.3 2113,2559.2 2114.3,2495.9 2115.6,2527 2116.9,2517.4 2118.2,2496.9 2119.5,2483 2120.8,2534.5 2122.1,2503.8 2123.4,2519.2 2124.7,2500.8 2126,2510.1 2127.3,2496.1 2128.6,2467 2129.9,2473.1 2131.2,2490.6 2132.5,2461.6 2133.8,2474.3 2135.1,2475.2 2136.4,2492.6 2137.7,2499.3"/>
<polyline fill="none" stroke="#ff0000" stroke-width="3.6" stroke-linejoin="round" stroke-linecap="round" points="345,2727.4 346.3,2710.1 347.6,2685.1 348.9,2698.7 350.2,2823.7 351.5,2648.1 352.8,2755.4 354.1,2759.5 355.4,2687.5 356.7,2671 358,2731.7 359.3,2750.8 360.6,2793.6 361.9,2749 363.2,2785.4 364.5,2712.5 365.8,2701.5 367.1,2674.9 368.4,2699.3 369.7,2735.1 371,2757.7 372.3,2700.3 373.6,2787.8 374.9,2754.3 376.2,2729.8 377.5,2726.8 378.8,2838.8 380.1,2763 381.4,2719.7 382.7,2718.4 384,2863.6 385.3,2730.9 386.6,2803.5 387.9,2816.2 389.2,2648.1 390.5,2810.4 391.8,2745.5 393.1,2681.9 394.4,2735.4 395.7,2781.4 397,2772.6 398.3,2777.2 399.6,2736.4 400.9,2811.1 402.2,2819 403.5,2833 404.8,2799.6 406.1,2836.1 407.4,2844 408.7,2785.2 410,2797.9 411.3,2788 412.6,2785.2 413.9,2821.2 415.2,2700.6 416.5,2754.8 417.8,2786.1 419.1,2690.4 420.4,2714.8 421.7,2830.7 423,2733.7 424.3,2755.5 425.6,2785.9 426.9,2743.5 428.2,2720.6 429.5,2755.1 430.8,2756.9 432.1,2751 433.4,2780.5 434.7,2830.7 436,2787.4 437.3,2830.8 438.6,2801.9 439.9,2806 441.2,2795.9 442.5,2759.3 443.8,2789.9 445.1,2787.3 446.4,2740.3 447.7,2821.2 449,2800.9 450.3,2794.8 451.6,2761.2 452.9,2692.6 454.2,2827.9 455.5,2778.6 456.8,2708.9 458.1,2799.6 459.4,2756.9 460.7,2803.3 462,2780 463.3,2818.8 464.6,2786.4 465.9,2787.7 467.2,2783.3 468.5,2819.1 469.8,2740.4 471.1,2843.1 472.4,2805.2 473.7,2770.3 475,2788.2 476.3,2777.9 477.6,2793.1 478.9,2819.4 480.2,2771.5 481.5,2814.7 482.8,2820.5 484.1,2811.3 485.4,2871.7 486.7,2790.4 488,2813.6 489.3,2866.8 490.6,2794.6 491.9,2791.7 493.2,2799.3 494.5,2813.2 495.8,2778.9 497.1,2791.1 498.4,2749.2 499.7,2750 501,2771.5 502.3,2765.8 503.6,2790.2 504.9,2823.6 506.2,2792.5 507.5,2768.1 508.8,2811.2 510.1,2807.8 511.4,2767 512.7,2811.4 514,2775.9 515.3,2789.5 516.6,2786.2 517.9,2827.7 519.2,2785.7 520.5,2800.1 521.8,2812.4 523.1,2835 524.4,2840.5 525.7,2785.6 527,2864.4 528.3,2821.4 529.6,2843.7 530.9,2840.9 532.2,2803 533.5,2817 534.8,2807.7 536.1,2824 537.4,2857 538.7,2819.5 540,2801.7 541.3,2879.6 542.6,2794.9 543.9,2821.9 545.2,2823.7 546.5,2793.1 547.8,2841.2 549.1,2848.6 550.4,2820.8 551.7,2825 553,2819.2 554.3,2781.8 555.6,2830 556.9,2796.8 558.2,2804.9 559.5,2837.1 560.8,2850.3 562.1,2809.7 563.4,2854.6 564.7,2869.2 566,2834.3 567.3,2828.6 568.6,2836.1 569.9,2822.7 571.2,2813.2 572.5,2846.4 573.8,2848 575.1,2813.3 576.4,2823.5 577.7,2821.1 579,2818.8 580.3,2813.5 581.6,2781.6 582.9,2867.4 584.2,2824.8 585.5,2838.6 586.8,2872.8 588.1,2827.8 589.4,2850.2 590.7,2810.8 592,2825.6 593.3,2852.7 594.6,2834 595.9,2791.3 597.2,2809.8 598.5,2847.5 599.8,2824.3 601.1,2857.7 602.4,2849.6 603.7,2838.3 605,2844 606.3,2860.4 607.6,2846.9 608.9,2828.1 610.2,2850.9 611.5,2839 612.8,2841.3 614.1,2855.9 615.4,2855.6 616.7,2864.9 618,2844.7 619.3,2842.2 620.6,2844.4 621.9,2858.6 623.2,2837.2 624.5,2841.5 625.8,2838.8 627.1,2840 628.4,2850.6 629.7,2901.1 631,2847.5 632.3,2859.4 633.6,2856.2 634.9,2851.9 636.2,2855 637.5,2885.8 638.8,2849.2 640.1,2898.3 641.4,2865.6 642.7,2833.1 644,2845.2 645.3,2843.9 646.6,2839.6 647.9,2873.8 649.2,2863 650.5,2864.9 651.8,2840.4 653.1,2864.8 654.4,2849.9 655.7,2896.2 657,2859.1 658.3,2865.7 659.6,2866.9 660.9,2856.1 662.2,2856.3 663.5,2856.1 664.8,2883 666.1,2850.8 667.4,2857.8 668.7,2865.9 670,2854 671.3,2841.8 672.6,2844.7 673.9,2856.7 675.2,2849.7 676.5,2889.4 677.8,2867 679.1,2868.1 680.4,2854.4 681.7,2882.2 683,2864 684.3,2855.2 685.6,2858.6 686.9,2899.9 688.2,2856.4 689.5,2852.9 690.8,2880.3 692.1,2874.7 693.4,2860.7 694.7,2884.6 696,2847.1 697.3,2862.3 698.6,2845.7 699.9,2888.3 701.2,2870.6 702.5,2905.1 703.8,2876.3 705.1,2877.2 706.4,2855.4 707.7,2856.3 709,2864.5 710.3,2883.9 711.6,2848.6 712.9,2841.6 714.2,2883.3 715.5,2883.8 716.8,2859.1 718.1,2877.7 719.4,2886.4 720.7,2885.6 722,2850.2 723.3,2871.8 724.6,2860.8 725.9,2882.9 727.2,2872.1 728.5,2855.1 729.8,2874 731.1,2880.6 732.4,2852.5 733.7,2856.4 735,2865 736.3,2869 737.6,2866 738.9,2850.3 740.2,2853.6 741.5,2873.7 742.8,2878.8 744.1,2863.8 745.4,2877.6 746.7,2898.7 748,2870.7 749.3,2870.9 750.6,2867.8 751.9,2882.2 753.2,2879.2 754.5,2880.4 755.8,2873.5 757.1,2883.2 758.4,2883.6 759.7,2877.3 761,2893.2 762.3,2847.6 763.6,2886.2 764.9,2876.7 766.2,2887.7 767.5,2900 768.8,2879.3 770.1,2877.5 771.4,2880.3 772.7,2897.3 774,2898.1 775.3,2883.5 776.6,2889 777.9,2901.7 779.2,2887.3 780.5,2864.7 781.8,2872.3 783.1,2876.8 784.4,2886.5 785.7,2876.6 787,2898.6 788.3,2877.9 789.6,2901.4 790.9,2877.5 792.2,2899.4 793.5,2887.1 794.8,2900 796.1,2905.4 797.4,2903.5 798.7,2895.1 800,2877.1 801.3,2877.3 802.6,2856.9 803.9,2902.9 805.2,2911.4 806.5,2899.7 807.8,2876.9 809.1,2916.4 810.4,2881 811.7,2897.4 813,2871.2 814.3,2882 815.6,2901.4 816.9,2900 818.2,2870.8 819.5,2888.5 820.8,2901.4 822.1,2870.1 823.4,2896.4 824.7,2872.4 826,2899.7 827.3,2884.8 828.6,2899.2 829.9,2883.3 831.2,2885.4 832.5,2886.2 833.8,2880.2 835.1,2888.2 836.4,2873.8 837.7,2886.2 839,2898.7 840.3,2888.9 841.6,2902.8 842.9,2898.5 844.2,2898.8 845.5,2878.9 846.8,2894.6 848.1,2906 849.4,2900.7 850.7,2903.8 852,2907.8 853.3,2878.3 854.6,2899 855.9,2898.7 857.2,2890.1 858.5,2870.6 859.8,2895.8 861.1,2890.7 862.4,2912.6 863.7,2906.8 865,2890.8 866.3,2885.3 867.6,2888.3 868.9,2896.2 870.2,2885.2 871.5,2917.7 872.8,2887.5 874.1,2897.9 875.4,2900.8 876.7,2902.4 878,2890.3 879.3,2895.8 880.6,2900.3 881.9,2901.6 883.2,2893.3 884.5,2896.4 885.8,2901 887.1,2916.2 888.4,2887.2 889.7,2905 891,2913.7 892.3,2885.5 893.6,2911.5 894.9,2912.7 896.2,2901 897.5,2909.5 898.8,2913.6 900.1,2898.8 901.4,2903.1 902.7,2891.8 904,2894.9 905.3,2902.2 906.6,2901.1 907.9,2917.9 909.2,2900.4 910.5,2891.5 911.8,2910.6 913.1,2911.5 914.4,2906.4 915.7,2901.6 917,2895.9 918.3,2898.2 919.6,2917.7 920.9,2911.4 922.2,2905.7 923.5,2909.1 924.8,2902 926.1,2897.3 927.4,2901.4 928.7,2905.4 930,2890.5 931.3,2892.2 932.6,2889.4 933.9,2898.6 935.2,2910.2 936.5,2892.9 937.8,2894.4 939.1,2890.4 940.4,2900.4 941.7,2887 943,2896 944.3,2888.7 945.6,2924.8 946.9,2905.1 948.2,2896.6 949.5,2902.2 950.8,2919.3 952.1,2914.7 953.4,2908.7 954.7,2883.1 956,2921 957.3,2916.9 958.6,2914.4 959.9,2911.7 961.2,2908.7 962.5,2918.3 963.8,2905.9 965.1,2917.1 966.4,2904.2 967.7,2905 969,2902.4 970.3,2904.4 971.6,2904.8 972.9,2915.5 974.2,2922.6 975.5,2903.9 976.8,2900.9 978.1,2927.5 979.4,2906.6 980.7,2914.1 982,2911.7 983.3,2917.2 984.6,2902.1 985.9,2919.8 987.2,2917.2 988.5,2892.9 989.8,2909.4 991.1,2905.2 992.4,2914.7 993.7,2911.7 995,2906.2 996.3,2909.3 997.6,2916.1 998.9,2912.1 1000.2,2909.7 1001.5,2933.9 1002.8,2916.2 1004.1,2903.2 1005.4,2914.3 1006.7,2917.1 1008,2907 1009.3,2916.7 1010.6,2909.5 1011.9,2898.4 1013.2,2919.2 1014.5,2920.7 1015.8,2921 1017.1,2915.2 1018.4,2911.2 1019.7,2918 1021,2920.1 1022.3,2923.8 1023.6,2927.9 1024.9,2923.5 1026.2,2912.5 1027.5,2916.6 1028.8,2906.2 1030.1,2922.8 1031.4,2921.8 1032.7,2926.4 1034,2924.2 1035.3,2930.6 1036.6,2913.5 1037.9,2921.1 1039.2,2916.9 1040.5,2916.4 1041.8,2906 1043.1,2913.7 1044.4,2903.9 1045.7,2916.3 1047,2913.4 1048.3,2919.8 1049.6,2904.7 1050.9,2914.3 1052.2,2916.8 1053.5,2901.3 1054.8,2931.8 1056.1,2923.5 1057.4,2910 1058.7,2934.5 1060,2930.9 1061.3,2902.2 1062.6,2918.7 1063.9,2916.6 1065.2,2922.2 1066.5,2915.2 1067.8,2921 1069.1,2923.9 1070.4,2905.2 1071.7,2924.6 1073,2934 1074.3,2924.6 1075.6,2932.3 1076.9,2943.7 1078.2,2925.9 1079.5,2927.2 1080.8,2927.8 1082.1,2922.8 1083.4,2942.4 1084.7,2929.1 1086,2929.4 1087.3,2933 1088.6,2936.4 1089.9,2916 1091.2,2918.3 1092.5,2927.6 1093.8,2930.2 1095.1,2918.7 1096.4,2910.8 1097.7,2933.2 1099,2933.1 1100.3,2924.8 1101.6,2926.7 1102.9,2924.3 1104.2,2920.5 1105.5,2922.8 1106.8,2930.2 1108.1,2928.2 1109.4,2936.2 1110.7,2919.9 1112,2917.7 1113.3,2934.7 1114.6,2924.2 1115.9,2929.4 1117.2,2931.5 1118.5,2923.1 1119.8,2921.6 1121.1,2934.6 1122.4,2913.8 1123.7,2937.2 1125,2920.5 1126.3,2942.9 1127.6,2935.9 1128.9,2935.6 1130.2,2937.1 1131.5,2934.4 1132.8,2923.6 1134.1,2938.7 1135.4,2934.2 1136.7,2937 1138,2933.3 1139.3,2932.9 1140.6,2942.4 1141.9,2943.4 1143.2,2939.5 1144.5,2929.6 1145.8,2931.6 1147.1,2930.9 1148.4,2946.1 1149.7,2941.1 1151,2938.2 1152.3,2936.5 1153.6,2932.5 1154.9,2943.6 1156.2,2931.1 1157.5,2932.8 1158.8,2945.2 1160.1,2943.8 1161.4,2939.3 1162.7,2925.2 1164,2931.4 1165.3,2946.3 1166.6,2943.5 1167.9,2951.5 1169.2,2938.3 1170.5,2941 1171.8,2935.5 1173.1,2954.1 1174.4,2931.2 1175.7,2946.9 1177,2954.5 1178.3,2937.1 1179.6,2934.6 1180.9,2937.3 1182.2,2934 1183.5,2946.3 1184.8,2943.6 1186.1,2936.9 1187.4,2940.9 1188.7,2953 1190,2941.2 1191.3,2940.9 1192.6,2957.3 1193.9,2937.9 1195.2,2941.7 1196.5,2955.7 1197.8,2945.8 1199.1,2932.9 1200.4,2940.3 1201.7,2931.1 1203,2942.5 1204.3,2949.3 1205.6,2936.1 1206.9,2958.5 1208.2,2956.7 1209.5,2954 1210.8,2943.8 1212.1,2949.7 1213.4,2953.9 1214.7,2956.5 1216,2959.4 1217.3,2935.7 1218.6,2945.5 1219.9,2942.3 1221.2,2947.7 1222.5,2951.5 1223.8,2969.4 1225.1,2950 1226.4,2957.2 1227.7,2952 1229,2951.2 1230.3,2963.5 1231.6,2943.8 1232.9,2955.7 1234.2,2969.8 1235.5,2969.9 1236.8,2947.7 1238.1,2940.6 1239.4,2943.2 1240.7,2949.2 1242,2952.6 1243.3,2952.7 1244.6,2960.7 1245.9,2950.7 1247.2,2955 1248.5,2942 1249.8,2948.6 1251.1,2952 1252.4,2937 1253.7,2953.8 1255,2959.6 1256.3,2953.9 1257.6,2954.1 1258.9,2952.5 1260.2,2944.6 1261.5,2953.2 1262.8,2948.9 1264.1,2953.6 1265.4,2954 1266.7,2954.9 1268,2939.6 1269.3,2954.4 1270.6,2966.6 1271.9,2962 1273.2,2953.9 1274.5,2950.6 1275.8,2962.7 1277.1,2956.5 1278.4,2944.6 1279.7,2954 1281,2967.9 1282.3,2945.4 1283.6,2957.3 1284.9,2951.8 1286.2,2955.9 1287.5,2953.9 1288.8,2950.1 1290.1,2938.7 1291.4,2954.7 1292.7,2956.2 1294,2954.8 1295.3,2943.6 1296.6,2951.9 1297.9,2970.9 1299.2,2949 1300.5,2954.9 1301.8,2948.9 1303.1,2956 1304.4,2959.2 1305.7,2965.5 1307,2959.3 1308.3,2957.9 1309.6,2960 1310.9,2961.7 1312.2,2957.7 1313.5,2957.7 1314.8,2965.9 1316.1,2953 1317.4,2957.7 1318.7,2952.3 1320,2954.8 1321.3,2968.3 1322.6,2953.9 1323.9,2964.3 1325.2,2972.9 1326.5,2964 1327.8,2957.4 1329.1,2953.4 1330.4,2941.6 1331.7,2952.1 1333,2952 1334.3,2964.5 1335.6,2963.2 1336.9,2950.1 1338.2,2962.9 1339.5,2954.9 1340.8,2971 1342.1,2969 1343.4,2963.8 1344.7,2956.9 1346,2971.3 1347.3,2965.8 1348.6,2967.7 1349.9,2963.7 1351.2,2958.7 1352.5,2966 1353.8,2956.1 1355.1,2966.7 1356.4,2962.8 1357.7,2951 1359,2965 1360.3,2961.4 1361.6,2959.3 1362.9,2960.8 1364.2,2966.9 1365.5,2954.8 1366.8,2955.4 1368.1,2967 1369.4,2963.7 1370.7,2951.6 1372,2964 1373.3,2952 1374.6,2970.2 1375.9,2964.3 1377.2,2966 1378.5,2953 1379.8,2958.2 1381.1,2968.3 1382.4,2947.9 1383.7,2967.1 1385,2962.8 1386.3,2965.1 1387.6,2955.2 1388.9,2967.7 1390.2,2968.3 1391.5,2969.7 1392.8,2980 1394.1,2963.2 1395.4,2965.3 1396.7,2958.1 1398,2976.4 1399.3,2963.5 1400.6,2970 1401.9,2957.7 1403.2,2963.2 1404.5,2968.6 1405.8,2969.8 1407.1,2962.1 1408.4,2970.6 1409.7,2966.7 1411,2977.2 1412.3,2964.5 1413.6,2970.2 1414.9,2962.9 1416.2,2973.6 1417.5,2965.4 1418.8,2965.9 1420.1,2961.8 1421.4,2971.7 1422.7,2966.5 1424,2964.6 1425.3,2974.6 1426.6,2962.4 1427.9,2973.7 1429.2,2977.1 1430.5,2957.3 1431.8,2973.7 1433.1,2971.3 1434.4,2968.4 1435.7,2969.1 1437,2958.9 1438.3,2969.7 1439.6,2968.6 1440.9,2956.7 1442.2,2964.7 1443.5,2959.3 1444.8,2967.3 1446.1,2961.3 1447.4,2967.5 1448.7,2958.4 1450,2964.4 1451.3,2965.3 1452.6,2966.3 1453.9,2975.4 1455.2,2981.6 1456.5,2959.1 1457.8,2976.6 1459.1,2965.9 1460.4,2964.8 1461.7,2966.1 1463,2966.4 1464.3,2967.4 1465.6,2972.6 1466.9,2975.5 1468.2,2970.4 1469.5,2968.4 1470.8,2971.9 1472.1,2971 1473.4,2979.5 1474.7,2962.6 1476,2960.4 1477.3,2967.3 1478.6,2971 1479.9,2967.3 1481.2,2970.1 1482.5,2953.3 1483.8,2964.5 1485.1,2965 1486.4,2961 1487.7,2965.5 1489,2967.9 1490.3,2971.7 1491.6,2964.1 1492.9,2959.9 1494.2,2972.3 1495.5,2981.4 1496.8,2971.2 1498.1,2971.2 1499.4,2964.5 1500.7,2971.9 1502,2985.5 1503.3,2958.5 1504.6,2976 1505.9,2957.9 1507.2,2978.2 1508.5,2974.1 1509.8,2967.3 1511.1,2971 1512.4,2979.1 1513.7,2962.8 1515,2976.6 1516.3,2975.2 1517.6,2970.1 1518.9,2979.3 1520.2,2961 1521.5,2970.6 1522.8,2964.3 1524.1,2970.9 1525.4,2974.5 1526.7,2960.7 1528,2971.8 1529.3,2971.9 1530.6,2966.6 1531.9,2969.7 1533.2,2977 1534.5,2972.6 1535.8,2980.9 1537.1,2964.6 1538.4,2963 1539.7,2977.7 1541,2962.1 1542.3,2978.1 1543.6,2970.4 1544.9,2974.9 1546.2,2968.5 1547.5,2977.3 1548.8,2979.8 1550.1,2979.1 1551.4,2974.9 1552.7,2963.7 1554,2977.7 1555.3,2972.5 1556.6,2980.5 1557.9,2962.6 1559.2,2974.9 1560.5,2969.1 1561.8,2971.5 1563.1,2978 1564.4,2978 1565.7,2981.5 1567,2978.3 1568.3,2976.8 1569.6,2975.9 1570.9,2967.1 1572.2,2985.7 1573.5,2968.2 1574.8,2970.7 1576.1,2976.1 1577.4,2969.3 1578.7,2970.9 1580,2957.8 1581.3,2968 1582.6,2967.1 1583.9,2969.8 1585.2,2979.6 1586.5,2972.3 1587.8,2972.7 1589.1,2974.6 1590.4,2980.9 1591.7,2981.6 1593,2979 1594.3,2973.3 1595.6,2980.3 1596.9,2972.9 1598.2,2973.8 1599.5,2976.5 1600.8,2971.4 1602.1,2967.1 1603.4,2966.2 1604.7,2972.9 1606,2976.1 1607.3,2978.9 1608.6,2970.2 1609.9,2977 1611.2,2976.6 1612.5,2973.7 1613.8,2993.4 1615.1,2972.5 1616.4,2972.5 1617.7,2978.9 1619,2988.4 1620.3,2975.9 1621.6,2987.7 1622.9,2971.8 1624.2,2974.5 1625.5,2976.9 1626.8,2976.1 1628.1,2979.3 1629.4,2977.1 1630.7,2976 1632,2970.2 1633.3,2980.6 1634.6,2978.7 1635.9,2981.7 1637.2,2986.7 1638.5,2981.6 1639.8,2980.6 1641.1,2989.2 1642.4,2976.2 1643.7,2960.3 1645,2974.3 1646.3,2969.9 1647.6,2977.5 1648.9,2977.7 1650.2,2979 1651.5,2983.7 1652.8,2984.3 1654.1,2982.9 1655.4,2980.5 1656.7,2976.9 1658,2975.6 1659.3,2979.1 1660.6,2977.1 1661.9,2971.4 1663.2,2976.6 1664.5,2984.4 1665.8,2979.1 1667.1,2972.6 1668.4,2980.5 1669.7,2983.5 1671,2970.2 1672.3,2990.2 1673.6,2985.9 1674.9,2975.7 1676.2,2992.1 1677.5,2978.7 1678.8,2981.5 1680.1,2969.8 1681.4,2972.8 1682.7,2974.8 1684,2975.8 1685.3,2972.8 1686.6,2964 1687.9,2967.6 1689.2,2979 1690.5,2973 1691.8,2988.9 1693.1,2986.2 1694.4,2973.2 1695.7,2976 1697,2960.5 1698.3,2980 1699.6,2983.1 1700.9,2968.3 1702.2,2968.4 1703.5,2970.5 1704.8,2981 1706.1,2982.9 1707.4,2967.2 1708.7,2971.8 1710,2979.5 1711.3,2976.7 1712.6,2972.6 1713.9,2979.2 1715.2,2968.1 1716.5,2963.9 1717.8,2980 1719.1,2985.3 1720.4,2985.1 1721.7,2972.3 1723,2968.2 1724.3,2975.2 1725.6,2973.8 1726.9,2974.9 1728.2,2974 1729.5,2985 1730.8,2977.6 1732.1,2994.4 1733.4,2970.5 1734.7,2968.4 1736,2984.4 1737.3,2967.3 1738.6,2968 1739.9,2968 1741.2,2961.8 1742.5,2980.9 1743.8,2990 1745.1,2980.2 1746.4,2982.5 1747.7,2972 1749,2967.8 1750.3,2980 1751.6,2965.8 1752.9,2963.9 1754.2,2969.3 1755.5,2984.2 1756.8,2978.8 1758.1,2974.1 1759.4,2967.6 1760.7,2968.7 1762,2978.6 1763.3,2975.5 1764.6,2970.4 1765.9,2986.1 1767.2,2971.9 1768.5,2963.7 1769.8,2974.5 1771.1,2985.7 1772.4,2983.1 1773.7,2984.9 1775,2970.4 1776.3,2980.4 1777.6,2977.9 1778.9,2974.4 1780.2,2966.7 1781.5,2985.9 1782.8,2977.6 1784.1,2971.3 1785.4,2982.1 1786.7,2996.1 1788,2963.5 1789.3,2977.7 1790.6,2991 1791.9,2990.2 1793.2,2967.2 1794.5,2971.4 1795.8,2958.9 1797.1,2974.8 1798.4,2961.3 1799.7,2964.6 1801,2993 1802.3,2962.6 1803.6,2957.5 1804.9,2972.7 1806.2,2974.8 1807.5,2975.4 1808.8,2982.7 1810.1,2967.1 1811.4,2972.3 1812.7,2978.7 1814,2969.3 1815.3,2985 1816.6,2986.6 1817.9,2973.1 1819.2,2971.2 1820.5,2973.4 1821.8,2978.6 1823.1,2957.3 1824.4,2962.1 1825.7,2966.4 1827,2966.2 1828.3,2968.8 1829.6,2968.3 1830.9,2973.4 1832.2,2969.2 1833.5,2975 1834.8,2977.4 1836.1,2972.5 1837.4,2968.8 1838.7,2966.1 1840,2979 1841.3,2968.5 1842.6,2974.5 1843.9,2979.6 1845.2,2973.8 1846.5,2958 1847.8,2965 1849.1,2988.3 1850.4,2956.5 1851.7,2981.8 1853,2960.3 1854.3,2969.9 1855.6,2978.4 1856.9,2960 1858.2,2977.5 1859.5,2948.9 1860.8,2967.1 1862.1,2962.8 1863.4,2972.6 1864.7,2979 1866,2985.1 1867.3,2978.8 1868.6,2965 1869.9,2960.3 1871.2,2972.4 1872.5,2963.8 1873.8,2949.9 1875.1,2945 1876.4,2963.3 1877.7,2962.8 1879,2967 1880.3,2967.5 1881.6,2941.6 1882.9,2965.9 1884.2,2952.3 1885.5,2967.2 1886.8,2963 1888.1,2976.5 1889.4,2964.6 1890.7,2956.3 1892,2958.3 1893.3,2961.2 1894.6,2965.4 1895.9,2966.2 1897.2,2950.4 1898.5,2948.9 1899.8,2963.8 1901.1,2957.3 1902.4,2965.7 1903.7,2959.9 1905,2970.6 1906.3,2960.2 1907.6,2941.8 1908.9,2945.6 1910.2,2958.4 1911.5,2943 1912.8,2953.2 1914.1,2959.2 1915.4,2963.8 1916.7,2961.8 1918,2938.3 1919.3,2964 1920.6,2944 1921.9,2953.1 1923.2,2937.5 1924.5,2959.9 1925.8,2948.4 1927.1,2951.7 1928.4,2953.1 1929.7,2947.1 1931,2940.6 1932.3,2961.3 1933.6,2952.9 1934.9,2953.8 1936.2,2927.9 1937.5,2924.2 1938.8,2959.9 1940.1,2949.3 1941.4,2922.9 1942.7,2943.5 1944,2940 1945.3,2928.1 1946.6,2932.7 1947.9,2955.1 1949.2,2927.3 1950.5,2938.7 1951.8,2923.7 1953.1,2913.8 1954.4,2953 1955.7,2933.5 1957,2920.4 1958.3,2920.8 1959.6,2919.1 1960.9,2910.1 1962.2,2924.5 1963.5,2929.1 1964.8,2912.1 1966.1,2914.2 1967.4,2897.9 1968.7,2914.4 1970,2888.9 1971.3,2907.3 1972.6,2922.2 1973.9,2902.8 1975.2,2936.3 1976.5,2891.7 1977.8,2897.8 1979.1,2898.4 1980.4,2906.9 1981.7,2908.7 1983,2895.8 1984.3,2874.7 1985.6,2905.6 1986.9,2895.5 1988.2,2901 1989.5,2854.5 1990.8,2888.1 1992.1,2878.6 1993.4,2896.7 1994.7,2910 1996,2867.3 1997.3,2873.9 1998.6,2874.7 1999.9,2864.1 2001.2,2880.5 2002.5,2875.3 2003.8,2849 2005.1,2855.7 2006.4,2866.8 2007.7,2841.5 2009,2863.5 2010.3,2873.7 2011.6,2865.1 2012.9,2841.1 2014.2,2871.1 2015.5,2871.6 2016.8,2830 2018.1,2862.4 2019.4,2855.1 2020.7,2849.4 2022,2826.8 2023.3,2846.3 2024.6,2808.5 2025.9,2831.3 2027.2,2844.7 2028.5,2831.3 2029.8,2817.7 2031.1,2821.7 2032.4,2811.3 2033.7,2814.1 2035,2796.7 2036.3,2789.1 2037.6,2794.7 2038.9,2783 2040.2,2811.7 2041.5,2827.6 2042.8,2799.9 2044.1,2803.1 2045.4,2770.6 2046.7,2778.8 2048,2761.9 2049.3,2782.7 2050.6,2773.6 2051.9,2752.5 2053.2,2782.3 2054.5,2758.2 2055.8,2766 2057.1,2764 2058.4,2767.7 2059.7,2761.9 2061,2742.8 2062.3,2735.7 2063.6,2727.3 2064.9,2718.4 2066.2,2754.9 2067.5,2717.8 2068.8,2742.5 2070.1,2706.1 2071.4,2704.9 2072.7,2725.2 2074,2705.9 2075.3,2691.9 2076.6,2723.1 2077.9,2662.3 2079.2,2679.5 2080.5,2695.9 2081.8,2704.7 2083.1,2677.1 2084.4,2651.7 2085.7,2706 2087,2668.1 2088.3,2647 2089.6,2664.1 2090.9,2677.3 2092.2,2615.5 2093.5,2636.9 2094.8,2660.2 2096.1,2655.3 2097.4,2645.6 2098.7,2637.2 2100,2652.5 2101.3,2661.7 2102.6,2622.9 2103.9,2621.8 2105.2,2643.7 2106.5,2615.6 2107.8,2596.5 2109.1,2611.3 2110.4,2593.9 2111.7,2618.4 2113,2619.6 2114.3,2583.9 2115.6,2598.6 2116.9,2603.1 2118.2,2615.4 2119.5,2606.9 2120.8,2592.9 2122.1,2591.4 2123.4,2602.7 2124.7,2588.1 2126,2583.6 2127.3,2552.2 2128.6,2573 2129.9,2577.9 2131.2,2563.8 2132.5,2541.6 2133.8,2524.1 2135.1,2562.3 2136.4,2561 2137.7,2548.2"/>
<polyline fill="none" stroke="#000080" stroke-width="3.6" stroke-linejoin="round" stroke-linecap="round" points="345,2523.8 346.3,2511.7 347.6,2502.8 348.9,2406.3 350.2,2526.7 351.5,2419 352.8,2550.5 354.1,2539.2 355.4,2575.8 356.7,2553.3 358,2536.9 359.3,2504.4 360.6,2519.1 361.9,2597.8 363.2,2514.1 364.5,2529.5 365.8,2508.7 367.1,2517.1 368.4,2516.9 369.7,2550.1 371,2527.5 372.3,2528.5 373.6,2518.4 374.9,2549.9 376.2,2452.6 377.5,2550.5 378.8,2600.7 380.1,2512.7 381.4,2538.8 382.7,2653.4 384,2502.4 385.3,2474.6 386.6,2522.6 387.9,2612.6 389.2,2626.2 390.5,2494.5 391.8,2566.6 393.1,2543.2 394.4,2523 395.7,2470.1 397,2591.9 398.3,2516.9 399.6,2565.9 400.9,2555.5 402.2,2624.5 403.5,2596.1 404.8,2505 406.1,2536.1 407.4,2586 408.7,2490.7 410,2527.6 411.3,2553.7 412.6,2485.9 413.9,2501.2 415.2,2485.3 416.5,2561.2 417.8,2530 419.1,2585.4 420.4,2558.2 421.7,2574.7 423,2549.4 424.3,2581.1 425.6,2550 426.9,2521.9 428.2,2602.7 429.5,2594.3 430.8,2638.7 432.1,2554.4 433.4,2538.3 434.7,2508.7 436,2466.2 437.3,2516.7 438.6,2581.2 439.9,2536.8 441.2,2477.5 442.5,2590 443.8,2536.8 445.1,2551.5 446.4,2555.4 447.7,2564.4 449,2585.2 450.3,2516.7 451.6,2562.2 452.9,2557.5 454.2,2611.7 455.5,2544.1 456.8,2632.4 458.1,2598 459.4,2662.7 460.7,2552.5 462,2601.7 463.3,2588.4 464.6,2529.9 465.9,2572.6 467.2,2568.2 468.5,2553.2 469.8,2560.3 471.1,2539.2 472.4,2568.5 473.7,2594.1 475,2560.9 476.3,2537.8 477.6,2619.1 478.9,2577.1 480.2,2591.7 481.5,2585.3 482.8,2574.4 484.1,2606.5 485.4,2572.7 486.7,2588.6 488,2543.4 489.3,2537.5 490.6,2574.4 491.9,2643.9 493.2,2596.8 494.5,2648.5 495.8,2607.9 497.1,2612.3 498.4,2582.3 499.7,2598.4 501,2649.3 502.3,2630.6 503.6,2579.9 504.9,2585 506.2,2633.6 507.5,2582.3 508.8,2626.1 510.1,2575.4 511.4,2616.7 512.7,2671 514,2621 515.3,2604.3 516.6,2603.6 517.9,2594.5 519.2,2597.6 520.5,2653.3 521.8,2651.4 523.1,2612.3 524.4,2548.5 525.7,2590.9 527,2615.6 528.3,2608.6 529.6,2573.6 530.9,2624.4 532.2,2673.7 533.5,2576.1 534.8,2607.3 536.1,2642.3 537.4,2591.6 538.7,2590.4 540,2606.4 541.3,2614.4 542.6,2593.9 543.9,2645 545.2,2560.5 546.5,2622.3 547.8,2616.4 549.1,2604 550.4,2618 551.7,2609.9 553,2661.1 554.3,2597.5 555.6,2607.8 556.9,2577.8 558.2,2583.7 559.5,2604.2 560.8,2575.5 562.1,2591.2 563.4,2581.2 564.7,2599.8 566,2611.2 567.3,2628.8 568.6,2550.3 569.9,2605 571.2,2630.2 572.5,2643 573.8,2645.2 575.1,2563.2 576.4,2605.6 577.7,2627.2 579,2635.7 580.3,2620.7 581.6,2620.3 582.9,2620.6 584.2,2600.6 585.5,2620.2 586.8,2634.6 588.1,2610.7 589.4,2659.2 590.7,2563.5 592,2610.8 593.3,2651.4 594.6,2634.7 595.9,2644.3 597.2,2619.6 598.5,2593.3 599.8,2607.3 601.1,2646.3 602.4,2580 603.7,2584.5 605,2584.8 606.3,2607.5 607.6,2610.7 608.9,2629.9 610.2,2605.1 611.5,2656 612.8,2637.1 614.1,2615.4 615.4,2604.9 616.7,2594.9 618,2623.8 619.3,2657.2 620.6,2617.2 621.9,2602.3 623.2,2620.1 624.5,2612.4 625.8,2607.6 627.1,2591.8 628.4,2625.8 629.7,2652.6 631,2663.1 632.3,2645.5 633.6,2632 634.9,2635.1 636.2,2643.7 637.5,2625.1 638.8,2630.2 640.1,2617.9 641.4,2643.1 642.7,2611.1 644,2637.4 645.3,2640.8 646.6,2640.4 647.9,2638.8 649.2,2621.2 650.5,2613.6 651.8,2622.1 653.1,2622.1 654.4,2611.3 655.7,2622.7 657,2620.5 658.3,2615.7 659.6,2640.1 660.9,2619.5 662.2,2635.9 663.5,2653.8 664.8,2657.3 666.1,2632 667.4,2647.3 668.7,2636.4 670,2669.8 671.3,2659.3 672.6,2651.7 673.9,2632.6 675.2,2628.8 676.5,2650.1 677.8,2635.4 679.1,2632.5 680.4,2646.1 681.7,2616.6 683,2606.1 684.3,2621.6 685.6,2619.7 686.9,2635.8 688.2,2622.9 689.5,2633.8 690.8,2608.1 692.1,2659.4 693.4,2643.6 694.7,2625.3 696,2642.2 697.3,2656.7 698.6,2651.8 699.9,2639.7 701.2,2648.9 702.5,2652.8 703.8,2624.4 705.1,2620.4 706.4,2632.3 707.7,2663.3 709,2660 710.3,2642 711.6,2661.9 712.9,2655.6 714.2,2643.2 715.5,2633.9 716.8,2635.6 718.1,2645.4 719.4,2663.5 720.7,2655.2 722,2625.6 723.3,2625.4 724.6,2652.6 725.9,2644.7 727.2,2630.1 728.5,2651.5 729.8,2660.8 731.1,2654.2 732.4,2646.6 733.7,2663.2 735,2640.9 736.3,2638.6 737.6,2635 738.9,2672.6 740.2,2675.5 741.5,2647.8 742.8,2655.9 744.1,2653.9 745.4,2669.1 746.7,2663.2 748,2657.1 749.3,2648.6 750.6,2644.1 751.9,2638.6 753.2,2619.7 754.5,2651.3 755.8,2642.7 757.1,2653.2 758.4,2651.1 759.7,2640 761,2647.3 762.3,2658.8 763.6,2656.8 764.9,2645.3 766.2,2640.6 767.5,2663.1 768.8,2659.1 770.1,2662.4 771.4,2654.5 772.7,2664.8 774,2657.1 775.3,2686.2 776.6,2651.2 777.9,2642.9 779.2,2675.6 780.5,2655.1 781.8,2647.3 783.1,2661.8 784.4,2630.5 785.7,2662.6 787,2658.6 788.3,2661.7 789.6,2650.7 790.9,2674.6 792.2,2663.1 793.5,2659.8 794.8,2663.9 796.1,2650.8 797.4,2658.4 798.7,2643.9 800,2647.2 801.3,2662.5 802.6,2660.5 803.9,2667.7 805.2,2651.9 806.5,2657.6 807.8,2645.6 809.1,2661.5 810.4,2667 811.7,2677.7 813,2664.2 814.3,2650.5 815.6,2661.6 816.9,2648.7 818.2,2639.4 819.5,2661.8 820.8,2662.1 822.1,2668.4 823.4,2668.9 824.7,2647.3 826,2651 827.3,2660.9 828.6,2661.8 829.9,2663.7 831.2,2646.9 832.5,2658.2 833.8,2668.2 835.1,2681 836.4,2647.9 837.7,2677.8 839,2658.5 840.3,2646.7 841.6,2674.7 842.9,2649.9 844.2,2649.6 845.5,2669.5 846.8,2672.9 848.1,2663.5 849.4,2655.6 850.7,2648.6 852,2664.5 853.3,2639.5 854.6,2649.1 855.9,2673.9 857.2,2669.8 858.5,2675.5 859.8,2667.9 861.1,2653.3 862.4,2670.4 863.7,2648.1 865,2673.2 866.3,2680.2 867.6,2657 868.9,2676.4 870.2,2667.2 871.5,2665.1 872.8,2647.5 874.1,2665.6 875.4,2675.5 876.7,2651.5 878,2663.9 879.3,2661.6 880.6,2653.2 881.9,2678.7 883.2,2669.7 884.5,2670.1 885.8,2679.6 887.1,2663.2 888.4,2696.4 889.7,2665.7 891,2659.6 892.3,2676.3 893.6,2674.3 894.9,2661.4 896.2,2662 897.5,2678.3 898.8,2673.3 900.1,2674.2 901.4,2677.8 902.7,2660.1 904,2689.5 905.3,2670.2 906.6,2676.6 907.9,2661.9 909.2,2677.7 910.5,2673.8 911.8,2693.5 913.1,2669.6 914.4,2685.1 915.7,2677.1 917,2685.9 918.3,2674.7 919.6,2676.4 920.9,2652.1 922.2,2660.5 923.5,2681.2 924.8,2675.8 926.1,2678.7 927.4,2670.1 928.7,2684.5 930,2670 931.3,2673.4 932.6,2685.1 933.9,2684.9 935.2,2671.9 936.5,2676.1 937.8,2677.4 939.1,2674.3 940.4,2674.7 941.7,2666.9 943,2679.6 944.3,2665 945.6,2665.9 946.9,2685.7 948.2,2690.6 949.5,2690.1 950.8,2677.6 952.1,2670.6 953.4,2682.8 954.7,2690.7 956,2678.1 957.3,2673.8 958.6,2664.2 959.9,2655.7 961.2,2693.6 962.5,2665.9 963.8,2672.8 965.1,2676.8 966.4,2682.1 967.7,2668.9 969,2684.9 970.3,2684.9 971.6,2681.3 972.9,2675.4 974.2,2677.8 975.5,2657.5 976.8,2685.8 978.1,2676.5 979.4,2670.2 980.7,2680.3 982,2685.3 983.3,2683.9 984.6,2687.3 985.9,2692.4 987.2,2678.8 988.5,2685.1 989.8,2687 991.1,2664.7 992.4,2694 993.7,2681.5 995,2686.2 996.3,2686.1 997.6,2677 998.9,2690.1 1000.2,2691.9 1001.5,2685.1 1002.8,2661.9 1004.1,2694.9 1005.4,2682.9 1006.7,2679.7 1008,2680.7 1009.3,2676.5 1010.6,2683.1 1011.9,2691.6 1013.2,2677.9 1014.5,2688.3 1015.8,2681.1 1017.1,2683.9 1018.4,2681 1019.7,2689 1021,2695.3 1022.3,2686.9 1023.6,2694.8 1024.9,2700.2 1026.2,2677.3 1027.5,2699 1028.8,2686.5 1030.1,2687 1031.4,2701.6 1032.7,2687.1 1034,2683.8 1035.3,2698.8 1036.6,2697.6 1037.9,2692.7 1039.2,2711.2 1040.5,2683.3 1041.8,2678.3 1043.1,2689.2 1044.4,2675.6 1045.7,2693.6 1047,2685.7 1048.3,2684.9 1049.6,2689.7 1050.9,2683.5 1052.2,2670.1 1053.5,2685.6 1054.8,2696.5 1056.1,2693.9 1057.4,2704.8 1058.7,2705.7 1060,2699.8 1061.3,2692.8 1062.6,2683.7 1063.9,2696.9 1065.2,2705.4 1066.5,2704.4 1067.8,2700.4 1069.1,2687.6 1070.4,2697.9 1071.7,2699 1073,2703.7 1074.3,2685.2 1075.6,2689.2 1076.9,2695.6 1078.2,2696.1 1079.5,2691.1 1080.8,2699.2 1082.1,2692.9 1083.4,2703.7 1084.7,2692.4 1086,2697.7 1087.3,2681 1088.6,2697.7 1089.9,2692.1 1091.2,2702.5 1092.5,2695.5 1093.8,2706.4 1095.1,2693.8 1096.4,2687.7 1097.7,2700.3 1099,2702.6 1100.3,2693.4 1101.6,2689.3 1102.9,2704.9 1104.2,2707.4 1105.5,2705.4 1106.8,2701.3 1108.1,2701.5 1109.4,2713.1 1110.7,2707.9 1112,2695.5 1113.3,2694.6 1114.6,2706.4 1115.9,2710.7 1117.2,2694.6 1118.5,2697.4 1119.8,2709.4 1121.1,2700.5 1122.4,2708.8 1123.7,2695.8 1125,2691.8 1126.3,2691.8 1127.6,2703.8 1128.9,2702.2 1130.2,2693.7 1131.5,2707.1 1132.8,2702.5 1134.1,2705.5 1135.4,2717.1 1136.7,2714.2 1138,2710.8 1139.3,2705.3 1140.6,2694 1141.9,2703.5 1143.2,2705.8 1144.5,2717.2 1145.8,2702.3 1147.1,2705.2 1148.4,2709.4 1149.7,2712.8 1151,2718 1152.3,2719.9 1153.6,2709.1 1154.9,2730.2 1156.2,2717 1157.5,2707.1 1158.8,2705 1160.1,2709.2 1161.4,2710.4 1162.7,2718 1164,2707.3 1165.3,2708.8 1166.6,2706.9 1167.9,2715.5 1169.2,2703.9 1170.5,2717.7 1171.8,2709.3 1173.1,2713.4 1174.4,2717.5 1175.7,2717.3 1177,2734.1 1178.3,2709.4 1179.6,2701.8 1180.9,2706.7 1182.2,2721.6 1183.5,2709.5 1184.8,2723.5 1186.1,2715.1 1187.4,2721.7 1188.7,2706.4 1190,2729.4 1191.3,2725.5 1192.6,2706.3 1193.9,2727.3 1195.2,2736.6 1196.5,2718.6 1197.8,2712.2 1199.1,2715.2 1200.4,2717.6 1201.7,2727.2 1203,2732.9 1204.3,2717.8 1205.6,2719.8 1206.9,2712.5 1208.2,2718.5 1209.5,2725.5 1210.8,2708.3 1212.1,2726.8 1213.4,2728.1 1214.7,2730.5 1216,2718.3 1217.3,2712.1 1218.6,2721.6 1219.9,2716.5 1221.2,2712 1222.5,2719.2 1223.8,2714.8 1225.1,2743.1 1226.4,2729.4 1227.7,2730.5 1229,2717.2 1230.3,2734.4 1231.6,2723.4 1232.9,2732.3 1234.2,2719.1 1235.5,2730.8 1236.8,2715.4 1238.1,2724.8 1239.4,2724.9 1240.7,2717 1242,2726 1243.3,2722.1 1244.6,2723.4 1245.9,2731.2 1247.2,2735.5 1248.5,2726.1 1249.8,2742.4 1251.1,2735 1252.4,2733.9 1253.7,2739.7 1255,2718.7 1256.3,2737.8 1257.6,2731.2 1258.9,2724 1260.2,2727.3 1261.5,2739.9 1262.8,2742.5 1264.1,2737 1265.4,2721.5 1266.7,2712.7 1268,2730.4 1269.3,2734.4 1270.6,2725 1271.9,2739.7 1273.2,2734.1 1274.5,2733.4 1275.8,2725.7 1277.1,2739 1278.4,2737.4 1279.7,2740.7 1281,2736 1282.3,2723.1 1283.6,2733.9 1284.9,2736.8 1286.2,2730.2 1287.5,2724.1 1288.8,2735.7 1290.1,2736.6 1291.4,2724.2 1292.7,2727.9 1294,2723.5 1295.3,2735 1296.6,2734.2 1297.9,2744.5 1299.2,2726.9 1300.5,2742.1 1301.8,2731.7 1303.1,2735 1304.4,2725.3 1305.7,2733 1307,2729.3 1308.3,2732.3 1309.6,2733.7 1310.9,2736.2 1312.2,2737.9 1313.5,2732.4 1314.8,2727.1 1316.1,2740.2 1317.4,2734.1 1318.7,2730.2 1320,2743.3 1321.3,2738.4 1322.6,2740.1 1323.9,2724.6 1325.2,2731.4 1326.5,2748.6 1327.8,2739 1329.1,2739 1330.4,2731.4 1331.7,2735.4 1333,2740.3 1334.3,2735.7 1335.6,2735.7 1336.9,2724.8 1338.2,2730.9 1339.5,2733 1340.8,2742 1342.1,2741.9 1343.4,2735.8 1344.7,2728.1 1346,2731.4 1347.3,2738.2 1348.6,2728.1 1349.9,2735.7 1351.2,2735.2 1352.5,2736.2 1353.8,2748.3 1355.1,2737.1 1356.4,2743.5 1357.7,2748.1 1359,2741 1360.3,2737.6 1361.6,2729.6 1362.9,2748.2 1364.2,2731 1365.5,2724.6 1366.8,2744.4 1368.1,2728.6 1369.4,2730.7 1370.7,2734 1372,2731.5 1373.3,2725.3 1374.6,2740.6 1375.9,2744.5 1377.2,2744.1 1378.5,2738.8 1379.8,2736.5 1381.1,2735.2 1382.4,2751.2 1383.7,2743.9 1385,2736.1 1386.3,2741.2 1387.6,2732 1388.9,2742.9 1390.2,2733.3 1391.5,2739.4 1392.8,2739.2 1394.1,2724.6 1395.4,2745.4 1396.7,2740.8 1398,2735.6 1399.3,2736.2 1400.6,2739.7 1401.9,2738.1 1403.2,2744.5 1404.5,2740.6 1405.8,2743.8 1407.1,2742.1 1408.4,2731.8 1409.7,2732.3 1411,2743.5 1412.3,2742.9 1413.6,2740.3 1414.9,2732.4 1416.2,2736.1 1417.5,2735.6 1418.8,2744.9 1420.1,2736.6 1421.4,2726.9 1422.7,2733.4 1424,2744.2 1425.3,2752 1426.6,2739 1427.9,2749.1 1429.2,2739.6 1430.5,2739.7 1431.8,2737.4 1433.1,2750.6 1434.4,2739.8 1435.7,2752.7 1437,2740.4 1438.3,2752.9 1439.6,2743.9 1440.9,2742.8 1442.2,2735.4 1443.5,2750.7 1444.8,2744.7 1446.1,2743.6 1447.4,2744 1448.7,2741.6 1450,2741.5 1451.3,2747.2 1452.6,2740.2 1453.9,2744.4 1455.2,2758.7 1456.5,2744.3 1457.8,2743.1 1459.1,2750 1460.4,2738.5 1461.7,2759 1463,2744.8 1464.3,2738.1 1465.6,2744.1 1466.9,2740.4 1468.2,2749 1469.5,2742 1470.8,2748.9 1472.1,2727.8 1473.4,2741 1474.7,2747.1 1476,2747.1 1477.3,2744.6 1478.6,2748.3 1479.9,2748.7 1481.2,2744 1482.5,2746 1483.8,2750 1485.1,2745.2 1486.4,2728.9 1487.7,2735 1489,2737.7 1490.3,2748.3 1491.6,2744.8 1492.9,2748.2 1494.2,2750.4 1495.5,2747.2 1496.8,2738.5 1498.1,2748.9 1499.4,2736.2 1500.7,2736.2 1502,2742 1503.3,2731.7 1504.6,2755.3 1505.9,2759.5 1507.2,2744.5 1508.5,2742.9 1509.8,2732.3 1511.1,2749.5 1512.4,2739.5 1513.7,2736.5 1515,2735.5 1516.3,2743.4 1517.6,2743.3 1518.9,2743.8 1520.2,2740.9 1521.5,2734.4 1522.8,2753.8 1524.1,2749.5 1525.4,2740.9 1526.7,2730 1528,2733.6 1529.3,2749 1530.6,2747.6 1531.9,2746 1533.2,2752.1 1534.5,2741.1 1535.8,2753.4 1537.1,2745.5 1538.4,2739.9 1539.7,2747.5 1541,2746.6 1542.3,2740 1543.6,2755.9 1544.9,2734.8 1546.2,2747.6 1547.5,2747.8 1548.8,2741.4 1550.1,2745.9 1551.4,2754.2 1552.7,2739.1 1554,2738.9 1555.3,2741.5 1556.6,2748.8 1557.9,2752.6 1559.2,2749.1 1560.5,2738.4 1561.8,2752.7 1563.1,2750.9 1564.4,2753.2 1565.7,2736.6 1567,2736.7 1568.3,2743.6 1569.6,2745.6 1570.9,2748.6 1572.2,2741.8 1573.5,2742.2 1574.8,2752 1576.1,2736 1577.4,2742.4 1578.7,2749.9 1580,2754.4 1581.3,2752.1 1582.6,2760.8 1583.9,2752.4 1585.2,2755 1586.5,2755.7 1587.8,2751.3 1589.1,2743 1590.4,2749.3 1591.7,2748.8 1593,2746.4 1594.3,2757 1595.6,2750 1596.9,2743.5 1598.2,2752.5 1599.5,2747.1 1600.8,2757.5 1602.1,2737 1603.4,2742 1604.7,2752.6 1606,2755.7 1607.3,2754.2 1608.6,2763.9 1609.9,2751.8 1611.2,2750.7 1612.5,2759.9 1613.8,2752.3 1615.1,2757.8 1616.4,2769.4 1617.7,2754.7 1619,2755 1620.3,2751.6 1621.6,2759.2 1622.9,2760.4 1624.2,2763.2 1625.5,2760.7 1626.8,2770.2 1628.1,2757.8 1629.4,2757.3 1630.7,2754.4 1632,2765.7 1633.3,2757.5 1634.6,2755.2 1635.9,2748 1637.2,2757.1 1638.5,2764.9 1639.8,2740 1641.1,2750.8 1642.4,2752.2 1643.7,2754 1645,2760.3 1646.3,2756.9 1647.6,2760.3 1648.9,2761.8 1650.2,2770.1 1651.5,2758.3 1652.8,2761.6 1654.1,2757.2 1655.4,2760.5 1656.7,2756.9 1658,2750.5 1659.3,2762.2 1660.6,2766.9 1661.9,2751 1663.2,2757.6 1664.5,2757.1 1665.8,2740.2 1667.1,2771.3 1668.4,2767.3 1669.7,2764.4 1671,2763.1 1672.3,2748 1673.6,2735.9 1674.9,2755.1 1676.2,2755.8 1677.5,2753.4 1678.8,2752.7 1680.1,2763.6 1681.4,2766.2 1682.7,2754.6 1684,2750.8 1685.3,2773 1686.6,2760.3 1687.9,2754.1 1689.2,2742.9 1690.5,2740.8 1691.8,2731.5 1693.1,2748.5 1694.4,2754.8 1695.7,2749.9 1697,2752.9 1698.3,2754.1 1699.6,2758.6 1700.9,2737.7 1702.2,2734.9 1703.5,2759.8 1704.8,2754.9 1706.1,2756.7 1707.4,2745 1708.7,2773.6 1710,2754.1 1711.3,2751.6 1712.6,2746.8 1713.9,2755.8 1715.2,2755.1 1716.5,2752.7 1717.8,2767.6 1719.1,2764.2 1720.4,2753.7 1721.7,2748.2 1723,2749.2 1724.3,2756.5 1725.6,2732.5 1726.9,2757.7 1728.2,2753.5 1729.5,2773.8 1730.8,2760.7 1732.1,2756 1733.4,2758.2 1734.7,2752.1 1736,2752 1737.3,2757.9 1738.6,2741.6 1739.9,2758.7 1741.2,2744.9 1742.5,2753.3 1743.8,2753.2 1745.1,2765 1746.4,2772.4 1747.7,2770.6 1749,2755.2 1750.3,2757.6 1751.6,2759.8 1752.9,2761 1754.2,2769.4 1755.5,2766 1756.8,2761 1758.1,2777.5 1759.4,2769 1760.7,2777.3 1762,2761.7 1763.3,2767.2 1764.6,2765.8 1765.9,2765 1767.2,2754.3 1768.5,2764.9 1769.8,2750.2 1771.1,2765.5 1772.4,2777 1773.7,2771 1775,2764.2 1776.3,2759.4 1777.6,2769.3 1778.9,2753.9 1780.2,2752.3 1781.5,2751.6 1782.8,2765.9 1784.1,2750.6 1785.4,2766.9 1786.7,2770.8 1788,2771.8 1789.3,2761.3 1790.6,2765.8 1791.9,2752.1 1793.2,2763.8 1794.5,2777.1 1795.8,2774.7 1797.1,2748.8 1798.4,2762.1 1799.7,2759.9 1801,2770.5 1802.3,2765.3 1803.6,2761.2 1804.9,2756 1806.2,2762.9 1807.5,2759.7 1808.8,2761 1810.1,2759.4 1811.4,2749.4 1812.7,2763.5 1814,2764.1 1815.3,2761.8 1816.6,2763.6 1817.9,2770.6 1819.2,2769.4 1820.5,2775 1821.8,2766.9 1823.1,2773.1 1824.4,2760.4 1825.7,2749.9 1827,2748.2 1828.3,2762.8 1829.6,2759.1 1830.9,2763.1 1832.2,2738.2 1833.5,2757.4 1834.8,2761.5 1836.1,2754.9 1837.4,2758 1838.7,2744 1840,2758.3 1841.3,2770.4 1842.6,2747.9 1843.9,2762.3 1845.2,2750.9 1846.5,2760.4 1847.8,2770.3 1849.1,2757.8 1850.4,2760.5 1851.7,2763.2 1853,2757.1 1854.3,2768.2 1855.6,2737.9 1856.9,2753.7 1858.2,2739.3 1859.5,2742.9 1860.8,2756.4 1862.1,2744.3 1863.4,2751.4 1864.7,2775.5 1866,2759.1 1867.3,2779.1 1868.6,2752.2 1869.9,2752.9 1871.2,2729.8 1872.5,2752.5 1873.8,2745.1 1875.1,2757.1 1876.4,2752.3 1877.7,2745.5 1879,2732.9 1880.3,2757.9 1881.6,2743.6 1882.9,2733.4 1884.2,2752.5 1885.5,2729.2 1886.8,2742.2 1888.1,2728.7 1889.4,2745.9 1890.7,2732.7 1892,2775.1 1893.3,2758.8 1894.6,2753.2 1895.9,2750.9 1897.2,2753.7 1898.5,2754.6 1899.8,2749 1901.1,2735.3 1902.4,2748.2 1903.7,2730.6 1905,2741.8 1906.3,2747.7 1907.6,2732.6 1908.9,2746.9 1910.2,2737 1911.5,2764.8 1912.8,2737.3 1914.1,2749.3 1915.4,2748.2 1916.7,2743.3 1918,2744.6 1919.3,2738.9 1920.6,2741.6 1921.9,2741.3 1923.2,2747.6 1924.5,2750.8 1925.8,2737.8 1927.1,2751.9 1928.4,2736.9 1929.7,2727.1 1931,2731.6 1932.3,2727.9 1933.6,2732.3 1934.9,2733.7 1936.2,2734.5 1937.5,2743.5 1938.8,2738.4 1940.1,2725 1941.4,2734.1 1942.7,2726.2 1944,2740.8 1945.3,2739.5 1946.6,2723.8 1947.9,2731.9 1949.2,2737.2 1950.5,2724.9 1951.8,2699.2 1953.1,2715.8 1954.4,2704.7 1955.7,2723.3 1957,2714.3 1958.3,2712.2 1959.6,2726.4 1960.9,2719 1962.2,2705.3 1963.5,2682.5 1964.8,2695 1966.1,2691.4 1967.4,2694.9 1968.7,2681.9 1970,2700.2 1971.3,2704.6 1972.6,2683.7 1973.9,2668.2 1975.2,2684.3 1976.5,2678.6 1977.8,2690.6 1979.1,2677.5 1980.4,2668 1981.7,2659.7 1983,2674.8 1984.3,2645.7 1985.6,2658.4 1986.9,2677.6 1988.2,2666 1989.5,2666.3 1990.8,2663.2 1992.1,2649.1 1993.4,2659.1 1994.7,2668.5 1996,2667.5 1997.3,2647.4 1998.6,2658.8 1999.9,2667.3 2001.2,2657.3 2002.5,2671.3 2003.8,2650.6 2005.1,2629.8 2006.4,2647.7 2007.7,2647.1 2009,2652.3 2010.3,2648 2011.6,2659.5 2012.9,2646.4 2014.2,2638.9 2015.5,2627.8 2016.8,2630.1 2018.1,2646.5 2019.4,2652.2 2020.7,2629.2 2022,2625.2 2023.3,2618.3 2024.6,2622 2025.9,2616.9 2027.2,2603.4 2028.5,2625.3 2029.8,2596.3 2031.1,2610.8 2032.4,2609.5 2033.7,2613.9 2035,2600.5 2036.3,2588.6 2037.6,2596.2 2038.9,2572.8 2040.2,2590.1 2041.5,2580.8 2042.8,2623 2044.1,2548 2045.4,2566.3 2046.7,2598.2 2048,2574.3 2049.3,2554.7 2050.6,2580.7 2051.9,2598.5 2053.2,2566.4 2054.5,2576.5 2055.8,2542.3 2057.1,2544.7 2058.4,2559.1 2059.7,2557.8 2061,2541.1 2062.3,2540 2063.6,2529.2 2064.9,2530.6 2066.2,2530.4 2067.5,2527 2068.8,2540.1 2070.1,2508.6 2071.4,2533.7 2072.7,2549.6 2074,2521.8 2075.3,2508.4 2076.6,2496.2 2077.9,2500.1 2079.2,2484.9 2080.5,2502.8 2081.8,2493.7 2083.1,2503 2084.4,2492.1 2085.7,2498.6 2087,2505.2 2088.3,2493.3 2089.6,2519 2090.9,2491.1 2092.2,2462.1 2093.5,2476.2 2094.8,2474.4 2096.1,2461.1 2097.4,2478.5 2098.7,2463.7 2100,2472.6 2101.3,2445 2102.6,2426.3 2103.9,2430.9 2105.2,2401.9 2106.5,2385.7 2107.8,2409.6 2109.1,2416 2110.4,2402.4 2111.7,2441.6 2113,2400.9 2114.3,2396.7 2115.6,2450.2 2116.9,2386.1 2118.2,2424.4 2119.5,2406.1 2120.8,2357 2122.1,2421.1 2123.4,2392.6 2124.7,2404.2 2126,2396.9 2127.3,2396.3 2128.6,2403 2129.9,2422.7 2131.2,2386.3 2132.5,2369.3 2133.8,2381.6 2135.1,2366.4 2136.4,2297 2137.7,2355.9"/>
<polyline fill="none" stroke="#008000" stroke-width="3.6" stroke-linejoin="round" stroke-linecap="round" points="345,2631.6 346.3,2593.7 347.6,2530.4 348.9,2575.1 350.2,2571.5 351.5,2581.4 352.8,2617.9 354.1,2542.8 355.4,2637.1 356.7,2552 358,2594.2 359.3,2643.4 360.6,2653.6 361.9,2578.8 363.2,2680.4 364.5,2621.1 365.8,2566.7 367.1,2609.7 368.4,2572.6 369.7,2636.8 371,2551.5 372.3,2641.2 373.6,2534.3 374.9,2651.6 376.2,2615.9 377.5,2661.2 378.8,2579.7 380.1,2525.8 381.4,2517.4 382.7,2595.7 384,2690.7 385.3,2635.5 386.6,2667.4 387.9,2579.5 389.2,2575.1 390.5,2598.4 391.8,2661.6 393.1,2590.7 394.4,2599.6 395.7,2714 397,2568.4 398.3,2602.9 399.6,2512.2 400.9,2589.7 402.2,2635.9 403.5,2649.6 404.8,2511.8 406.1,2505.8 407.4,2625.3 408.7,2670 410,2581.9 411.3,2626.2 412.6,2610.3 413.9,2526.9 415.2,2510.1 416.5,2604.3 417.8,2625.2 419.1,2549.4 420.4,2590.8 421.7,2555.3 423,2573.1 424.3,2561.7 425.6,2656.1 426.9,2614.9 428.2,2606.3 429.5,2600.3 430.8,2632 432.1,2601.3 433.4,2622.8 434.7,2589 436,2634.8 437.3,2602.2 438.6,2631.1 439.9,2557.7 441.2,2563.9 442.5,2572.1 443.8,2672 445.1,2600.3 446.4,2620.6 447.7,2566.8 449,2591.8 450.3,2568.2 451.6,2621.7 452.9,2591.3 454.2,2677.5 455.5,2599.4 456.8,2661.6 458.1,2625.9 459.4,2644.9 460.7,2598 462,2628.7 463.3,2621.2 464.6,2601.7 465.9,2655.2 467.2,2577 468.5,2622.6 469.8,2624.3 471.1,2635.5 472.4,2598.3 473.7,2668.6 475,2610.7 476.3,2624.8 477.6,2613.4 478.9,2631.7 480.2,2653.6 481.5,2728.5 482.8,2565.9 484.1,2671.7 485.4,2671.3 486.7,2688.9 488,2653.3 489.3,2660.2 490.6,2700.8 491.9,2652.3 493.2,2655.4 494.5,2650.1 495.8,2662.1 497.1,2699.4 498.4,2623.1 499.7,2680.1 501,2581.1 502.3,2669.3 503.6,2637.9 504.9,2688.2 506.2,2678.3 507.5,2678.9 508.8,2674.1 510.1,2668.2 511.4,2603 512.7,2666 514,2621.5 515.3,2685.8 516.6,2638.3 517.9,2658 519.2,2645.3 520.5,2660.9 521.8,2662.7 523.1,2670.5 524.4,2624.2 525.7,2699 527,2630.7 528.3,2653.7 529.6,2592.4 530.9,2666.3 532.2,2682.9 533.5,2689.5 534.8,2680.1 536.1,2678.9 537.4,2642 538.7,2640.7 540,2656.1 541.3,2665.8 542.6,2617 543.9,2651.8 545.2,2672.9 546.5,2665 547.8,2659.1 549.1,2642.3 550.4,2671.6 551.7,2667.3 553,2699.7 554.3,2665.8 555.6,2689.4 556.9,2634.6 558.2,2704.9 559.5,2634 560.8,2661.8 562.1,2656.1 563.4,2651.2 564.7,2656.4 566,2652.7 567.3,2667.9 568.6,2671.7 569.9,2689.8 571.2,2691.5 572.5,2702.7 573.8,2677.3 575.1,2649.1 576.4,2717.1 577.7,2678.8 579,2615.1 580.3,2685.3 581.6,2666 582.9,2654.5 584.2,2655.9 585.5,2669 586.8,2652.4 588.1,2674 589.4,2666.4 590.7,2669.3 592,2681.8 593.3,2682.6 594.6,2710.4 595.9,2688.3 597.2,2660.1 598.5,2679.1 599.8,2711.7 601.1,2712.9 602.4,2663.9 603.7,2692.3 605,2670.3 606.3,2670.3 607.6,2653 608.9,2632.1 610.2,2675.3 611.5,2685.9 612.8,2691.4 614.1,2665.8 615.4,2672.3 616.7,2682.9 618,2679.7 619.3,2635.1 620.6,2662.5 621.9,2684.1 623.2,2692.6 624.5,2666.6 625.8,2702.5 627.1,2639.6 628.4,2708.8 629.7,2675.7 631,2685.6 632.3,2671.6 633.6,2668.3 634.9,2682.2 636.2,2689.1 637.5,2668.9 638.8,2701.4 640.1,2680.6 641.4,2689.1 642.7,2676.5 644,2669.7 645.3,2690.1 646.6,2670.4 647.9,2703.2 649.2,2672.9 650.5,2699.4 651.8,2676.8 653.1,2691.2 654.4,2682.9 655.7,2712.3 657,2719.3 658.3,2681.4 659.6,2702.6 660.9,2699 662.2,2707.1 663.5,2712.3 664.8,2724.2 666.1,2698.3 667.4,2670.4 668.7,2707.8 670,2691.4 671.3,2695.2 672.6,2714.9 673.9,2719.9 675.2,2699.2 676.5,2727.9 677.8,2708.3 679.1,2711.4 680.4,2697.3 681.7,2720.2 683,2691.1 684.3,2699.7 685.6,2712.8 686.9,2674.7 688.2,2704.5 689.5,2705.6 690.8,2712.7 692.1,2726.8 693.4,2674.4 694.7,2717 696,2708.4 697.3,2719.7 698.6,2712.8 699.9,2692.5 701.2,2694.1 702.5,2686.4 703.8,2719.2 705.1,2693.5 706.4,2707.4 707.7,2700.9 709,2676.3 710.3,2700 711.6,2702.5 712.9,2723.9 714.2,2701.6 715.5,2677.8 716.8,2697 718.1,2716 719.4,2712.1 720.7,2712 722,2714.9 723.3,2695.5 724.6,2718.7 725.9,2711.7 727.2,2673.2 728.5,2700.4 729.8,2725.5 731.1,2701.7 732.4,2704 733.7,2709.3 735,2710.7 736.3,2708.8 737.6,2716.2 738.9,2700.5 740.2,2690.7 741.5,2709.2 742.8,2708.9 744.1,2723.7 745.4,2737.1 746.7,2721.8 748,2723.1 749.3,2734.3 750.6,2729.6 751.9,2721.6 753.2,2701.4 754.5,2708.7 755.8,2704.7 757.1,2709.6 758.4,2726.4 759.7,2723.1 761,2715.3 762.3,2689 763.6,2722.4 764.9,2722.1 766.2,2701.5 767.5,2716.8 768.8,2712.8 770.1,2723.9 771.4,2684.3 772.7,2700.6 774,2731 775.3,2704.1 776.6,2707.6 777.9,2712 779.2,2720.6 780.5,2734.7 781.8,2718.7 783.1,2730.3 784.4,2724.3 785.7,2712.5 787,2736.7 788.3,2729.9 789.6,2713.8 790.9,2715.8 792.2,2706.5 793.5,2698.8 794.8,2717.3 796.1,2731.1 797.4,2690.4 798.7,2713.5 800,2743.1 801.3,2738.4 802.6,2711.5 803.9,2715.1 805.2,2738.1 806.5,2712.1 807.8,2722.2 809.1,2714.6 810.4,2729.4 811.7,2729 813,2743.4 814.3,2713.5 815.6,2706.7 816.9,2720.5 818.2,2730.8 819.5,2722.1 820.8,2751.5 822.1,2720.1 823.4,2723 824.7,2736.4 826,2746.3 827.3,2731.4 828.6,2734.6 829.9,2715 831.2,2711.9 832.5,2735.5 833.8,2738 835.1,2735.7 836.4,2739.6 837.7,2738.2 839,2730.2 840.3,2726.7 841.6,2727.5 842.9,2717.1 844.2,2722.8 845.5,2722.3 846.8,2737 848.1,2756.4 849.4,2737.8 850.7,2756.2 852,2721.6 853.3,2727 854.6,2729.3 855.9,2743.9 857.2,2753.1 858.5,2743.4 859.8,2738.3 861.1,2736.1 862.4,2725.9 863.7,2739.5 865,2738.5 866.3,2734.2 867.6,2720.6 868.9,2735.4 870.2,2732.6 871.5,2726.9 872.8,2746.7 874.1,2734.6 875.4,2742.1 876.7,2725 878,2729.7 879.3,2728.3 880.6,2724.3 881.9,2736 883.2,2733.1 884.5,2724 885.8,2727.4 887.1,2738.1 888.4,2737.7 889.7,2756.6 891,2716.8 892.3,2747 893.6,2745.4 894.9,2741.5 896.2,2730.6 897.5,2730.4 898.8,2718.8 900.1,2742.3 901.4,2732.1 902.7,2732.3 904,2760.9 905.3,2729 906.6,2738 907.9,2744.6 909.2,2737.4 910.5,2742.8 911.8,2741.9 913.1,2746.3 914.4,2730 915.7,2729.3 917,2751 918.3,2750.5 919.6,2739.6 920.9,2735 922.2,2754.2 923.5,2737.8 924.8,2732.9 926.1,2751.2 927.4,2733.2 928.7,2739.3 930,2744.6 931.3,2733.9 932.6,2746.2 933.9,2746.9 935.2,2748.5 936.5,2743.1 937.8,2758.7 939.1,2745.5 940.4,2739.2 941.7,2747.6 943,2739.7 944.3,2723.1 945.6,2754.9 946.9,2729.2 948.2,2727.4 949.5,2747.6 950.8,2739.2 952.1,2754.8 953.4,2754.2 954.7,2754.9 956,2743.5 957.3,2748.7 958.6,2735.4 959.9,2753 961.2,2746.3 962.5,2746.2 963.8,2748.4 965.1,2747.8 966.4,2751 967.7,2755 969,2747.7 970.3,2744.3 971.6,2736.6 972.9,2761.8 974.2,2751 975.5,2745.6 976.8,2726.3 978.1,2752.4 979.4,2730 980.7,2750.2 982,2744.4 983.3,2756.8 984.6,2743.8 985.9,2738.4 987.2,2730.1 988.5,2743.3 989.8,2761.4 991.1,2751.6 992.4,2746.7 993.7,2759.5 995,2744.6 996.3,2758.8 997.6,2734 998.9,2741.8 1000.2,2757.9 1001.5,2739.4 1002.8,2765.6 1004.1,2750.7 1005.4,2772.9 1006.7,2746.5 1008,2749.4 1009.3,2764 1010.6,2746.6 1011.9,2754 1013.2,2745.2 1014.5,2759.7 1015.8,2752.4 1017.1,2744.4 1018.4,2754.1 1019.7,2746 1021,2759.9 1022.3,2745.1 1023.6,2773.4 1024.9,2772.7 1026.2,2740.6 1027.5,2759.2 1028.8,2749.2 1030.1,2750.5 1031.4,2747.3 1032.7,2769 1034,2743.2 1035.3,2778.9 1036.6,2745.8 1037.9,2766.2 1039.2,2758.1 1040.5,2755.6 1041.8,2752.9 1043.1,2757 1044.4,2761.9 1045.7,2772.1 1047,2745.8 1048.3,2764.8 1049.6,2758.7 1050.9,2754.8 1052.2,2760.9 1053.5,2762.4 1054.8,2755.8 1056.1,2759 1057.4,2765.7 1058.7,2760.4 1060,2767.3 1061.3,2753.2 1062.6,2766.4 1063.9,2768.4 1065.2,2770.8 1066.5,2767.4 1067.8,2765.4 1069.1,2763.7 1070.4,2760.5 1071.7,2761.1 1073,2767.2 1074.3,2756 1075.6,2779.2 1076.9,2757.7 1078.2,2767.1 1079.5,2777.7 1080.8,2780.8 1082.1,2773.4 1083.4,2769.8 1084.7,2758.7 1086,2774.8 1087.3,2766.3 1088.6,2758.9 1089.9,2766.4 1091.2,2777 1092.5,2774.3 1093.8,2773.6 1095.1,2777.5 1096.4,2776 1097.7,2774.7 1099,2770.5 1100.3,2775.4 1101.6,2768.9 1102.9,2768.6 1104.2,2767.2 1105.5,2784.7 1106.8,2777.5 1108.1,2779.7 1109.4,2773.7 1110.7,2775.1 1112,2768.8 1113.3,2769.5 1114.6,2780.2 1115.9,2787.1 1117.2,2761 1118.5,2769.5 1119.8,2769.2 1121.1,2766 1122.4,2771.1 1123.7,2771.7 1125,2767.5 1126.3,2777.2 1127.6,2763.3 1128.9,2784.2 1130.2,2779.8 1131.5,2771.1 1132.8,2767 1134.1,2767.8 1135.4,2775 1136.7,2786.3 1138,2783.8 1139.3,2782.7 1140.6,2763.9 1141.9,2775.9 1143.2,2781.9 1144.5,2779.8 1145.8,2779.6 1147.1,2776.3 1148.4,2774.9 1149.7,2777.9 1151,2780.2 1152.3,2778.5 1153.6,2787.3 1154.9,2774.5 1156.2,2793.8 1157.5,2783.3 1158.8,2778.9 1160.1,2791.5 1161.4,2784.2 1162.7,2769.1 1164,2778.5 1165.3,2789.5 1166.6,2784.3 1167.9,2791.7 1169.2,2777.6 1170.5,2781.8 1171.8,2777.5 1173.1,2782.8 1174.4,2778.7 1175.7,2778.8 1177,2797.4 1178.3,2776.1 1179.6,2781.8 1180.9,2790.5 1182.2,2798.4 1183.5,2795.7 1184.8,2790.8 1186.1,2784.1 1187.4,2786.9 1188.7,2792.1 1190,2786.3 1191.3,2774.7 1192.6,2786.9 1193.9,2784.7 1195.2,2768.4 1196.5,2786.1 1197.8,2783.7 1199.1,2790.1 1200.4,2789.8 1201.7,2797.8 1203,2797.6 1204.3,2786.2 1205.6,2780.2 1206.9,2789.5 1208.2,2799.3 1209.5,2788.8 1210.8,2790.4 1212.1,2792.1 1213.4,2788.1 1214.7,2787.7 1216,2788.6 1217.3,2789.8 1218.6,2783.3 1219.9,2803.2 1221.2,2785.2 1222.5,2799.1 1223.8,2787.1 1225.1,2800.1 1226.4,2794.3 1227.7,2796.9 1229,2806.7 1230.3,2797.4 1231.6,2789 1232.9,2789.5 1234.2,2783.3 1235.5,2785.5 1236.8,2788.5 1238.1,2804.1 1239.4,2791.9 1240.7,2799.4 1242,2790.6 1243.3,2788.7 1244.6,2792.7 1245.9,2790.7 1247.2,2795.9 1248.5,2810.8 1249.8,2797.2 1251.1,2802.5 1252.4,2797.6 1253.7,2789.3 1255,2788.2 1256.3,2801.7 1257.6,2794.9 1258.9,2800.2 1260.2,2791.8 1261.5,2788.1 1262.8,2800.7 1264.1,2797.9 1265.4,2788.5 1266.7,2803.7 1268,2807.6 1269.3,2798.3 1270.6,2800.8 1271.9,2795.7 1273.2,2796.1 1274.5,2803.8 1275.8,2806.6 1277.1,2797.6 1278.4,2794.2 1279.7,2792.9 1281,2799 1282.3,2802.3 1283.6,2797.1 1284.9,2790.8 1286.2,2805.1 1287.5,2803.4 1288.8,2794.5 1290.1,2808.8 1291.4,2799.4 1292.7,2799.4 1294,2793.7 1295.3,2804.5 1296.6,2809.9 1297.9,2791.2 1299.2,2799.2 1300.5,2781.5 1301.8,2790.6 1303.1,2795.5 1304.4,2805.4 1305.7,2800.9 1307,2802 1308.3,2794.2 1309.6,2806.2 1310.9,2791.6 1312.2,2803.8 1313.5,2792.8 1314.8,2802.4 1316.1,2810.2 1317.4,2806.6 1318.7,2806.9 1320,2805.6 1321.3,2785.7 1322.6,2796.8 1323.9,2806.8 1325.2,2801 1326.5,2797 1327.8,2805.5 1329.1,2809.8 1330.4,2798.5 1331.7,2806.8 1333,2804.9 1334.3,2807.3 1335.6,2814.3 1336.9,2802.4 1338.2,2810.1 1339.5,2814.5 1340.8,2794.6 1342.1,2803.3 1343.4,2800.8 1344.7,2808 1346,2797.7 1347.3,2802.5 1348.6,2813.8 1349.9,2804.5 1351.2,2798 1352.5,2801.3 1353.8,2800.6 1355.1,2798.5 1356.4,2811.4 1357.7,2815.3 1359,2800 1360.3,2820 1361.6,2809.7 1362.9,2796.1 1364.2,2795.6 1365.5,2799.2 1366.8,2814.7 1368.1,2798 1369.4,2800.7 1370.7,2815.3 1372,2804.5 1373.3,2809.2 1374.6,2790.8 1375.9,2808.9 1377.2,2802 1378.5,2803.9 1379.8,2800.9 1381.1,2811.7 1382.4,2792.8 1383.7,2810 1385,2821.7 1386.3,2815.3 1387.6,2798.7 1388.9,2815.2 1390.2,2813.6 1391.5,2816.3 1392.8,2807.8 1394.1,2819.9 1395.4,2814.8 1396.7,2804.3 1398,2803 1399.3,2809.9 1400.6,2816.3 1401.9,2815.9 1403.2,2816.6 1404.5,2807.3 1405.8,2811 1407.1,2806 1408.4,2812.8 1409.7,2806 1411,2811.4 1412.3,2823.4 1413.6,2809.1 1414.9,2819.5 1416.2,2821.5 1417.5,2807.3 1418.8,2825.4 1420.1,2820.5 1421.4,2809.4 1422.7,2812.7 1424,2809.4 1425.3,2816 1426.6,2816.5 1427.9,2809.9 1429.2,2812.4 1430.5,2809.6 1431.8,2802.6 1433.1,2797.7 1434.4,2817.7 1435.7,2802.4 1437,2812.4 1438.3,2822.3 1439.6,2819.7 1440.9,2822.9 1442.2,2805.7 1443.5,2818.3 1444.8,2818 1446.1,2813.4 1447.4,2816 1448.7,2814.5 1450,2824.7 1451.3,2810.7 1452.6,2801.2 1453.9,2821 1455.2,2806.4 1456.5,2809.5 1457.8,2817 1459.1,2812.5 1460.4,2809.6 1461.7,2821.9 1463,2804.8 1464.3,2818.2 1465.6,2812.6 1466.9,2814.3 1468.2,2820.5 1469.5,2819.1 1470.8,2816.5 1472.1,2828.2 1473.4,2812.2 1474.7,2826.2 1476,2817.3 1477.3,2816.3 1478.6,2818.2 1479.9,2824 1481.2,2806.6 1482.5,2829.6 1483.8,2830.5 1485.1,2809 1486.4,2809.5 1487.7,2814.4 1489,2814.2 1490.3,2817.7 1491.6,2817.4 1492.9,2817.1 1494.2,2831.2 1495.5,2814.4 1496.8,2812.5 1498.1,2825.1 1499.4,2827.1 1500.7,2814.8 1502,2822.9 1503.3,2817.6 1504.6,2809.1 1505.9,2814.7 1507.2,2823.9 1508.5,2811 1509.8,2813.4 1511.1,2819.3 1512.4,2836.9 1513.7,2829.2 1515,2821.3 1516.3,2821.8 1517.6,2828.1 1518.9,2816.1 1520.2,2823.5 1521.5,2812.9 1522.8,2823 1524.1,2827.5 1525.4,2814.9 1526.7,2826.2 1528,2826.8 1529.3,2819 1530.6,2809.3 1531.9,2820.4 1533.2,2836.9 1534.5,2819.4 1535.8,2811.5 1537.1,2825.8 1538.4,2818.3 1539.7,2815.9 1541,2824.5 1542.3,2831.5 1543.6,2825.2 1544.9,2822.3 1546.2,2824.8 1547.5,2816.1 1548.8,2815.7 1550.1,2836.3 1551.4,2821.7 1552.7,2822.3 1554,2822.1 1555.3,2817.8 1556.6,2828.3 1557.9,2807.4 1559.2,2826.2 1560.5,2819.7 1561.8,2825.7 1563.1,2829.8 1564.4,2824.4 1565.7,2815.6 1567,2827.3 1568.3,2824.6 1569.6,2835.8 1570.9,2818.8 1572.2,2836.5 1573.5,2820.3 1574.8,2818.3 1576.1,2806.4 1577.4,2820.8 1578.7,2828.3 1580,2821 1581.3,2822.3 1582.6,2830 1583.9,2830.7 1585.2,2819.4 1586.5,2830.4 1587.8,2831.1 1589.1,2842.3 1590.4,2820.3 1591.7,2813.8 1593,2826.4 1594.3,2818.5 1595.6,2819.2 1596.9,2826.1 1598.2,2827.7 1599.5,2824.8 1600.8,2829.4 1602.1,2829.9 1603.4,2824.6 1604.7,2834.8 1606,2837.8 1607.3,2827.6 1608.6,2836.1 1609.9,2829.8 1611.2,2825.6 1612.5,2824.2 1613.8,2841.1 1615.1,2820.6 1616.4,2818.9 1617.7,2835.3 1619,2827.7 1620.3,2816.2 1621.6,2818.8 1622.9,2825.3 1624.2,2818.2 1625.5,2824.7 1626.8,2825.2 1628.1,2829.4 1629.4,2818.3 1630.7,2826.9 1632,2830.3 1633.3,2817.7 1634.6,2818.1 1635.9,2837.6 1637.2,2825.8 1638.5,2818.8 1639.8,2835.5 1641.1,2826.3 1642.4,2815.9 1643.7,2822.2 1645,2830.7 1646.3,2838.7 1647.6,2820.3 1648.9,2831.7 1650.2,2838.1 1651.5,2809.5 1652.8,2829 1654.1,2834.9 1655.4,2830.6 1656.7,2829 1658,2822.2 1659.3,2835.1 1660.6,2830.1 1661.9,2823.7 1663.2,2835.7 1664.5,2835.9 1665.8,2829.2 1667.1,2839.1 1668.4,2831.9 1669.7,2831 1671,2853.1 1672.3,2832.1 1673.6,2824.7 1674.9,2834.8 1676.2,2839.1 1677.5,2832.1 1678.8,2811 1680.1,2833.5 1681.4,2829 1682.7,2828.7 1684,2850.3 1685.3,2842.2 1686.6,2839.2 1687.9,2847.5 1689.2,2842.7 1690.5,2844.7 1691.8,2833.7 1693.1,2836.8 1694.4,2835.2 1695.7,2849.3 1697,2829.7 1698.3,2840.6 1699.6,2824.7 1700.9,2842 1702.2,2829.8 1703.5,2821.9 1704.8,2839.8 1706.1,2838.1 1707.4,2832 1708.7,2829.3 1710,2831.6 1711.3,2843.7 1712.6,2831.7 1713.9,2826.2 1715.2,2842.1 1716.5,2822.4 1717.8,2835.4 1719.1,2844.4 1720.4,2836.1 1721.7,2845.6 1723,2854.7 1724.3,2827.3 1725.6,2826.9 1726.9,2829 1728.2,2826.6 1729.5,2821.9 1730.8,2844.9 1732.1,2842.2 1733.4,2845.5 1734.7,2835.6 1736,2833.7 1737.3,2828.1 1738.6,2844.3 1739.9,2841.8 1741.2,2840 1742.5,2837.9 1743.8,2828.2 1745.1,2854.2 1746.4,2855.1 1747.7,2833.9 1749,2836.2 1750.3,2836.8 1751.6,2836.7 1752.9,2848.7 1754.2,2839.4 1755.5,2835.2 1756.8,2840.3 1758.1,2833.7 1759.4,2828.6 1760.7,2830.9 1762,2829 1763.3,2831.8 1764.6,2845.5 1765.9,2844.4 1767.2,2849.7 1768.5,2846.4 1769.8,2840.4 1771.1,2839.7 1772.4,2839.3 1773.7,2836.7 1775,2832.2 1776.3,2842.6 1777.6,2853.4 1778.9,2845.6 1780.2,2829.5 1781.5,2823.2 1782.8,2845.8 1784.1,2838.6 1785.4,2818.8 1786.7,2819.3 1788,2832.3 1789.3,2828.1 1790.6,2838.8 1791.9,2846.5 1793.2,2827.4 1794.5,2837.6 1795.8,2849.4 1797.1,2842.6 1798.4,2834.9 1799.7,2826.7 1801,2849.5 1802.3,2832.7 1803.6,2852.3 1804.9,2853.8 1806.2,2831.8 1807.5,2855.1 1808.8,2841.4 1810.1,2832.9 1811.4,2862.9 1812.7,2839.8 1814,2850.2 1815.3,2825.3 1816.6,2841.4 1817.9,2834.6 1819.2,2828.4 1820.5,2826.2 1821.8,2840.3 1823.1,2829.6 1824.4,2842.7 1825.7,2839.1 1827,2826.3 1828.3,2822.5 1829.6,2837.1 1830.9,2825.6 1832.2,2839.5 1833.5,2824.9 1834.8,2844.6 1836.1,2833.1 1837.4,2821.4 1838.7,2831.3 1840,2828.2 1841.3,2839.5 1842.6,2836.2 1843.9,2828.5 1845.2,2837.4 1846.5,2838.7 1847.8,2816.8 1849.1,2816 1850.4,2846 1851.7,2840.5 1853,2823 1854.3,2827.8 1855.6,2842.6 1856.9,2810 1858.2,2825.3 1859.5,2813.1 1860.8,2821.3 1862.1,2843.4 1863.4,2851.7 1864.7,2832.5 1866,2841.9 1867.3,2820 1868.6,2827.1 1869.9,2832.6 1871.2,2806.3 1872.5,2816 1873.8,2834.6 1875.1,2827.9 1876.4,2815.8 1877.7,2829.9 1879,2818.3 1880.3,2827.4 1881.6,2803.3 1882.9,2819.1 1884.2,2828.4 1885.5,2836.3 1886.8,2843.4 1888.1,2811.1 1889.4,2836.3 1890.7,2830.7 1892,2837.5 1893.3,2821.8 1894.6,2816.9 1895.9,2844.6 1897.2,2824.8 1898.5,2829.7 1899.8,2832.2 1901.1,2815.7 1902.4,2802.4 1903.7,2810.9 1905,2801.9 1906.3,2824.2 1907.6,2829.4 1908.9,2846.6 1910.2,2834.6 1911.5,2829.2 1912.8,2811.9 1914.1,2805.2 1915.4,2803.7 1916.7,2829.1 1918,2819.1 1919.3,2829.6 1920.6,2826.7 1921.9,2803.1 1923.2,2824.6 1924.5,2802.5 1925.8,2819.6 1927.1,2841.3 1928.4,2798.6 1929.7,2816.6 1931,2830 1932.3,2794 1933.6,2793.1 1934.9,2797.9 1936.2,2807.7 1937.5,2817.6 1938.8,2800.3 1940.1,2805.3 1941.4,2787.6 1942.7,2788.8 1944,2779.9 1945.3,2808 1946.6,2814 1947.9,2791.2 1949.2,2790.7 1950.5,2798.2 1951.8,2797.9 1953.1,2796.2 1954.4,2798.3 1955.7,2769.5 1957,2803.4 1958.3,2787.1 1959.6,2784.2 1960.9,2784.7 1962.2,2799.5 1963.5,2773.2 1964.8,2788.3 1966.1,2774.4 1967.4,2765 1968.7,2777.3 1970,2783.1 1971.3,2787.3 1972.6,2772.4 1973.9,2765.3 1975.2,2772.1 1976.5,2763.3 1977.8,2758 1979.1,2770.4 1980.4,2767.4 1981.7,2763.8 1983,2776.8 1984.3,2757.1 1985.6,2753.3 1986.9,2751.6 1988.2,2738.5 1989.5,2751.5 1990.8,2725.4 1992.1,2751.5 1993.4,2754.5 1994.7,2732.4 1996,2723.1 1997.3,2733 1998.6,2763.9 1999.9,2736 2001.2,2734.3 2002.5,2733 2003.8,2710.8 2005.1,2724.1 2006.4,2728.6 2007.7,2714.6 2009,2732.9 2010.3,2709.8 2011.6,2711.5 2012.9,2723.4 2014.2,2700.1 2015.5,2696.5 2016.8,2696.5 2018.1,2698.2 2019.4,2701.1 2020.7,2678.2 2022,2700.3 2023.3,2685.9 2024.6,2722.2 2025.9,2708.7 2027.2,2669.6 2028.5,2669.6 2029.8,2665.6 2031.1,2677 2032.4,2674.9 2033.7,2658.9 2035,2663.8 2036.3,2662.8 2037.6,2669.3 2038.9,2642.9 2040.2,2656 2041.5,2643.2 2042.8,2666.6 2044.1,2663.6 2045.4,2642.1 2046.7,2648.6 2048,2631.9 2049.3,2641.5 2050.6,2656.4 2051.9,2645.6 2053.2,2646.6 2054.5,2628 2055.8,2596.9 2057.1,2615.6 2058.4,2615.8 2059.7,2629.8 2061,2592.9 2062.3,2587.7 2063.6,2596.8 2064.9,2603 2066.2,2581.3 2067.5,2586.7 2068.8,2604.3 2070.1,2610.9 2071.4,2587.2 2072.7,2597.5 2074,2619.4 2075.3,2568.9 2076.6,2602.1 2077.9,2587.2 2079.2,2554.4 2080.5,2575.8 2081.8,2581 2083.1,2558.2 2084.4,2563.6 2085.7,2589.1 2087,2561.6 2088.3,2537.1 2089.6,2563.9 2090.9,2558.2 2092.2,2583.9 2093.5,2521.4 2094.8,2526.1 2096.1,2542.3 2097.4,2552 2098.7,2481 2100,2522.2 2101.3,2498.8 2102.6,2482.3 2103.9,2501.5 2105.2,2472.5 2106.5,2500.2 2107.8,2493.2 2109.1,2508.4 2110.4,2501.3 2111.7,2487.5 2113,2492.4 2114.3,2497.6 2115.6,2478.8 2116.9,2510.2 2118.2,2462.8 2119.5,2439.8 2120.8,2476.2 2122.1,2472.2 2123.4,2477.6 2124.7,2451.9 2126,2507.6 2127.3,2465 2128.6,2459 2129.9,2454.8 2131.2,2432 2132.5,2449.4 2133.8,2415.7 2135.1,2428.9 2136.4,2431.8 2137.7,2429.9"/>
<polyline fill="none" stroke="#000000" stroke-width="3.6" stroke-linejoin="round" stroke-linecap="round" points="345,2978 346.3,3196.9 347.6,3058.5 348.9,3038.7 350.2,3063.1 351.5,3070 352.8,2967.4 354.1,3075.4 355.4,3001 356.7,3121.3 358,3056.9 359.3,2994.3 360.6,3026.6 361.9,3023.8 363.2,3029.5 364.5,3074.1 365.8,3037.3 367.1,3086.7 368.4,3044 369.7,3008 371,2949 372.3,2950.8 373.6,3024.8 374.9,3042.8 376.2,3077.3 377.5,2991.3 378.8,3023.8 380.1,2987.7 381.4,3002.9 382.7,2908.9 384,3056.8 385.3,2993.6 386.6,3019.6 387.9,3039.7 389.2,3035.4 390.5,2967.9 391.8,3083.5 393.1,3052.4 394.4,3044 395.7,2996.4 397,2959.2 398.3,2957.6 399.6,3013 400.9,3036.4 402.2,2978.8 403.5,3100.4 404.8,3044.4 406.1,3072.8 407.4,3066.9 408.7,2994.9 410,3072.1 411.3,3050.7 412.6,2987.9 413.9,3058.4 415.2,3070.4 416.5,3069.1 417.8,3073.7 419.1,2989.6 420.4,3029.1 421.7,3019.3 423,3037.5 424.3,3039.7 425.6,3076.3 426.9,3062.6 428.2,3014.6 429.5,3068.4 430.8,3088.3 432.1,3048.8 433.4,2995 434.7,3018 436,3034.4 437.3,2995.3 438.6,3041 439.9,2988.2 441.2,3072.1 442.5,3071.5 443.8,3056.3 445.1,3034.8 446.4,3067.2 447.7,3054.3 449,3058.3 450.3,3094.4 451.6,3056.6 452.9,3057.1 454.2,3081.2 455.5,3092.2 456.8,3089.8 458.1,3079.6 459.4,3094.8 460.7,3065.5 462,3095.2 463.3,3092.7 464.6,3061.6 465.9,3070 467.2,3031.3 468.5,3041 469.8,3061.4 471.1,3022.1 472.4,3044.5 473.7,3047.9 475,3040.9 476.3,3061.9 477.6,2957.2 478.9,3042.7 480.2,3065.2 481.5,3076.9 482.8,3029.1 484.1,3024.2 485.4,2981.1 486.7,3053.5 488,3086.4 489.3,3051.3 490.6,3093.7 491.9,3079.6 493.2,3064.7 494.5,3044.6 495.8,3009.6 497.1,3050.1 498.4,3061.8 499.7,3048.1 501,3044.7 502.3,3042.3 503.6,3068.2 504.9,3011.4 506.2,3045 507.5,3055 508.8,3070.5 510.1,3070 511.4,3049 512.7,3042.9 514,3032.5 515.3,3085.5 516.6,3081.7 517.9,3063.2 519.2,3042.6 520.5,3034.3 521.8,3106.7 523.1,3059.2 524.4,3071.7 525.7,3102.7 527,3028.9 528.3,3045.1 529.6,3070.6 530.9,3075.3 532.2,3038.6 533.5,3060 534.8,3050.1 536.1,3049.5 537.4,3071.9 538.7,3068.6 540,3090.3 541.3,3079.2 542.6,3099.2 543.9,3048.5 545.2,3076.6 546.5,3038.2 547.8,3011.4 549.1,3038.2 550.4,3080.5 551.7,3069 553,3008.3 554.3,3110.7 555.6,3083.9 556.9,3059.3 558.2,3060 559.5,3065.9 560.8,3042.2 562.1,3115.4 563.4,3058.2 564.7,3063.6 566,3060.7 567.3,3053.5 568.6,3037.2 569.9,3075.1 571.2,3046 572.5,3050.9 573.8,3056.2 575.1,3088.6 576.4,3053.1 577.7,3052.7 579,3077.6 580.3,3048.7 581.6,3063.3 582.9,3086.6 584.2,3076 585.5,3068.8 586.8,3098.6 588.1,3063.1 589.4,3053.1 590.7,3040.9 592,3075 593.3,3087.9 594.6,3064.5 595.9,3110.1 597.2,3094.8 598.5,3091.2 599.8,3053.3 601.1,3081.3 602.4,3082.1 603.7,3039.9 605,3076 606.3,3071.8 607.6,3047.9 608.9,3085.9 610.2,3111.2 611.5,3089.8 612.8,3062.7 614.1,3069.7 615.4,3097.9 616.7,3062.9 618,3084.3 619.3,3079.8 620.6,3081.4 621.9,3105.8 623.2,3053.5 624.5,3097.4 625.8,3083.2 627.1,3076.3 628.4,3050.8 629.7,3082.8 631,3072.6 632.3,3037.2 633.6,3058.5 634.9,3061.5 636.2,3065.1 637.5,3072.5 638.8,3069.9 640.1,3106.6 641.4,3099.1 642.7,3080.8 644,3104.4 645.3,3115.7 646.6,3089.1 647.9,3061.6 649.2,3087.5 650.5,3103.1 651.8,3066.1 653.1,3080.9 654.4,3095.2 655.7,3099.6 657,3096.1 658.3,3088.9 659.6,3081.9 660.9,3076 662.2,3108.8 663.5,3097.4 664.8,3077.9 666.1,3074.4 667.4,3103 668.7,3100.1 670,3076.4 671.3,3064.1 672.6,3091.1 673.9,3101.3 675.2,3104.2 676.5,3110.7 677.8,3069.1 679.1,3091.2 680.4,3085.6 681.7,3080.3 683,3127.7 684.3,3090 685.6,3092.9 686.9,3084 688.2,3098.9 689.5,3105.2 690.8,3085.2 692.1,3089.1 693.4,3083.8 694.7,3076.6 696,3088.8 697.3,3096.4 698.6,3091.5 699.9,3088 701.2,3065.7 702.5,3095.4 703.8,3093.2 705.1,3111.5 706.4,3080.8 707.7,3071.8 709,3064.5 710.3,3082.3 711.6,3090.6 712.9,3094.6 714.2,3071.6 715.5,3086.2 716.8,3107 718.1,3094.7 719.4,3090.3 720.7,3087.2 722,3075.5 723.3,3077.4 724.6,3089.9 725.9,3114.4 727.2,3113.2 728.5,3096.4 729.8,3107.6 731.1,3105 732.4,3115.1 733.7,3089.8 735,3102.6 736.3,3119.9 737.6,3082.4 738.9,3096.1 740.2,3101.6 741.5,3103.9 742.8,3111 744.1,3107 745.4,3113.3 746.7,3118.2 748,3105.2 749.3,3128.3 750.6,3094.6 751.9,3097.8 753.2,3104.9 754.5,3084.7 755.8,3082.7 757.1,3085.8 758.4,3118.8 759.7,3095.9 761,3088.4 762.3,3128.2 763.6,3109.1 764.9,3106.9 766.2,3093.2 767.5,3106.4 768.8,3096.8 770.1,3105.7 771.4,3102.8 772.7,3097.6 774,3105.6 775.3,3091.4 776.6,3098.1 777.9,3094.2 779.2,3107.8 780.5,3111.2 781.8,3113.6 783.1,3081.6 784.4,3126 785.7,3099.9 787,3102.8 788.3,3103.9 789.6,3103.8 790.9,3119.5 792.2,3105.1 793.5,3106.5 794.8,3114.5 796.1,3119.5 797.4,3092.7 798.7,3091.1 800,3083.1 801.3,3084.1 802.6,3109.5 803.9,3107.7 805.2,3105.7 806.5,3110.1 807.8,3110.1 809.1,3120.2 810.4,3125.5 811.7,3097.6 813,3124.7 814.3,3120.8 815.6,3100.2 816.9,3111.3 818.2,3104.7 819.5,3090.8 820.8,3109.9 822.1,3091 823.4,3109.3 824.7,3097.3 826,3105.1 827.3,3118.3 828.6,3111.7 829.9,3102.5 831.2,3113.9 832.5,3119.4 833.8,3122.2 835.1,3101.9 836.4,3123 837.7,3107.2 839,3104.2 840.3,3122.8 841.6,3116.9 842.9,3117.9 844.2,3113.3 845.5,3091.1 846.8,3119.4 848.1,3117.3 849.4,3110.9 850.7,3130 852,3113.2 853.3,3130.2 854.6,3125.3 855.9,3105.6 857.2,3103.2 858.5,3108.4 859.8,3112.2 861.1,3120.6 862.4,3103.3 863.7,3102.9 865,3136.2 866.3,3116.2 867.6,3118 868.9,3141.9 870.2,3114.9 871.5,3090.2 872.8,3118.9 874.1,3107.8 875.4,3123 876.7,3094.3 878,3115 879.3,3122 880.6,3128.3 881.9,3123.9 883.2,3124 884.5,3115 885.8,3114.8 887.1,3104.8 888.4,3124.7 889.7,3141.3 891,3126.4 892.3,3107.6 893.6,3102.8 894.9,3112.2 896.2,3133.3 897.5,3119.1 898.8,3102 900.1,3114.2 901.4,3131.2 902.7,3110.6 904,3110.2 905.3,3112.6 906.6,3109.8 907.9,3137.9 909.2,3111.7 910.5,3122.4 911.8,3139.6 913.1,3118.7 914.4,3116.2 915.7,3118.9 917,3120.7 918.3,3118.7 919.6,3117 920.9,3118.9 922.2,3123.6 923.5,3148.1 924.8,3119.9 926.1,3131.5 927.4,3122.4 928.7,3114.9 930,3112.2 931.3,3126.6 932.6,3102.9 933.9,3127.8 935.2,3120.5 936.5,3138.8 937.8,3114.4 939.1,3134.9 940.4,3137.7 941.7,3132.7 943,3120.2 944.3,3128.5 945.6,3127.4 946.9,3124.1 948.2,3134.5 949.5,3125.6 950.8,3128.8 952.1,3136.4 953.4,3125.8 954.7,3123.3 956,3129.5 957.3,3123.1 958.6,3107 959.9,3124 961.2,3127.1 962.5,3118.4 963.8,3112.5 965.1,3134.1 966.4,3124 967.7,3135.4 969,3134.1 970.3,3144.3 971.6,3135.8 972.9,3138.8 974.2,3142.7 975.5,3127.2 976.8,3140.9 978.1,3142 979.4,3114.8 980.7,3121.8 982,3132.9 983.3,3147.3 984.6,3129 985.9,3120.7 987.2,3118 988.5,3135.3 989.8,3134.3 991.1,3126.4 992.4,3134.8 993.7,3129 995,3142.6 996.3,3120.3 997.6,3129.2 998.9,3143.5 1000.2,3128.7 1001.5,3127.3 1002.8,3132.7 1004.1,3152.2 1005.4,3137.5 1006.7,3148.2 1008,3127.9 1009.3,3134.7 1010.6,3146.8 1011.9,3138.1 1013.2,3131.4 1014.5,3117.1 1015.8,3141.3 1017.1,3143.4 1018.4,3141.2 1019.7,3122.4 1021,3125 1022.3,3129.1 1023.6,3128.3 1024.9,3146.5 1026.2,3127.6 1027.5,3134 1028.8,3127.2 1030.1,3122 1031.4,3145.7 1032.7,3139.1 1034,3127.5 1035.3,3138.5 1036.6,3119.9 1037.9,3152.9 1039.2,3130 1040.5,3122.9 1041.8,3130.5 1043.1,3141.8 1044.4,3140.1 1045.7,3146 1047,3146.3 1048.3,3141.5 1049.6,3150.1 1050.9,3124.9 1052.2,3145.2 1053.5,3145.4 1054.8,3144 1056.1,3140.5 1057.4,3133.2 1058.7,3136.2 1060,3127.2 1061.3,3137.3 1062.6,3151 1063.9,3155.1 1065.2,3138.5 1066.5,3138.8 1067.8,3139.2 1069.1,3142.6 1070.4,3144.1 1071.7,3149 1073,3156.6 1074.3,3127.2 1075.6,3136 1076.9,3141.5 1078.2,3146 1079.5,3150.9 1080.8,3170.5 1082.1,3139.8 1083.4,3153.6 1084.7,3147.2 1086,3148.7 1087.3,3150.7 1088.6,3155.5 1089.9,3149.4 1091.2,3139.8 1092.5,3156.4 1093.8,3156.9 1095.1,3137.3 1096.4,3154.2 1097.7,3150.1 1099,3149.6 1100.3,3151.7 1101.6,3166.2 1102.9,3137.6 1104.2,3152.8 1105.5,3129.1 1106.8,3152 1108.1,3160.3 1109.4,3137.5 1110.7,3168.5 1112,3157.4 1113.3,3153.5 1114.6,3152.8 1115.9,3154.6 1117.2,3155.6 1118.5,3155.4 1119.8,3164.9 1121.1,3167 1122.4,3147.5 1123.7,3163.8 1125,3177.6 1126.3,3168.7 1127.6,3157.8 1128.9,3142.5 1130.2,3152 1131.5,3155.8 1132.8,3156.4 1134.1,3144.8 1135.4,3162.3 1136.7,3164.9 1138,3147.2 1139.3,3152.6 1140.6,3150.3 1141.9,3159.2 1143.2,3168.8 1144.5,3142.2 1145.8,3172.8 1147.1,3167.4 1148.4,3148.3 1149.7,3173 1151,3169.6 1152.3,3164.5 1153.6,3162.9 1154.9,3152.7 1156.2,3164.8 1157.5,3155.2 1158.8,3163.5 1160.1,3171.7 1161.4,3160.1 1162.7,3158 1164,3168.6 1165.3,3172.2 1166.6,3178.4 1167.9,3161.5 1169.2,3175.2 1170.5,3177 1171.8,3161.2 1173.1,3168 1174.4,3147.6 1175.7,3161.7 1177,3154.7 1178.3,3164.8 1179.6,3159.5 1180.9,3145.7 1182.2,3171.1 1183.5,3158.5 1184.8,3176.1 1186.1,3178.3 1187.4,3171 1188.7,3165.2 1190,3168.4 1191.3,3154.5 1192.6,3167.6 1193.9,3174.7 1195.2,3172.9 1196.5,3159.3 1197.8,3180.7 1199.1,3172.9 1200.4,3161 1201.7,3172.6 1203,3161.8 1204.3,3165.5 1205.6,3169.9 1206.9,3185.1 1208.2,3191.3 1209.5,3158.7 1210.8,3170.7 1212.1,3170.1 1213.4,3178 1214.7,3175.2 1216,3167.4 1217.3,3177.1 1218.6,3166.5 1219.9,3165 1221.2,3175.6 1222.5,3172.7 1223.8,3167.4 1225.1,3178 1226.4,3169.9 1227.7,3167.4 1229,3172.7 1230.3,3179.8 1231.6,3170.1 1232.9,3186.9 1234.2,3173.7 1235.5,3178.2 1236.8,3182.2 1238.1,3176.1 1239.4,3171.1 1240.7,3174.5 1242,3189.9 1243.3,3186.3 1244.6,3181.2 1245.9,3173.2 1247.2,3169.5 1248.5,3173 1249.8,3171.7 1251.1,3178.7 1252.4,3177.2 1253.7,3171.5 1255,3183.3 1256.3,3167.8 1257.6,3178.7 1258.9,3172.2 1260.2,3187.4 1261.5,3182.5 1262.8,3181.2 1264.1,3188.2 1265.4,3193.2 1266.7,3170 1268,3181.9 1269.3,3172.6 1270.6,3176.2 1271.9,3177.3 1273.2,3169.1 1274.5,3170.7 1275.8,3180.8 1277.1,3181.2 1278.4,3184.6 1279.7,3179.5 1281,3175.7 1282.3,3179 1283.6,3179.6 1284.9,3176 1286.2,3182.6 1287.5,3174.6 1288.8,3174.4 1290.1,3171 1291.4,3183.3 1292.7,3176.5 1294,3180.6 1295.3,3183.6 1296.6,3175.7 1297.9,3183.6 1299.2,3183 1300.5,3182.3 1301.8,3168.2 1303.1,3190.6 1304.4,3187.1 1305.7,3188.2 1307,3197.8 1308.3,3176.7 1309.6,3200.8 1310.9,3185.5 1312.2,3198.8 1313.5,3197 1314.8,3180.1 1316.1,3190.1 1317.4,3183.6 1318.7,3191 1320,3176.1 1321.3,3201.1 1322.6,3190.6 1323.9,3185.2 1325.2,3180.4 1326.5,3196.9 1327.8,3183.4 1329.1,3193.4 1330.4,3177.9 1331.7,3191.2 1333,3173.1 1334.3,3190.2 1335.6,3180.5 1336.9,3180.1 1338.2,3194.8 1339.5,3192.8 1340.8,3183.2 1342.1,3182.3 1343.4,3202 1344.7,3168.6 1346,3186.3 1347.3,3183.3 1348.6,3189.7 1349.9,3189.1 1351.2,3188 1352.5,3179.7 1353.8,3191.3 1355.1,3191.4 1356.4,3184.8 1357.7,3200.6 1359,3184.2 1360.3,3188.4 1361.6,3203.3 1362.9,3186.9 1364.2,3188.8 1365.5,3178.2 1366.8,3190.1 1368.1,3187.4 1369.4,3192.7 1370.7,3182.5 1372,3200 1373.3,3197.6 1374.6,3198.2 1375.9,3188.5 1377.2,3177.5 1378.5,3192.8 1379.8,3190.1 1381.1,3185.9 1382.4,3202.1 1383.7,3191.7 1385,3191.2 1386.3,3193.4 1387.6,3193.1 1388.9,3193.7 1390.2,3196.6 1391.5,3191.6 1392.8,3187.8 1394.1,3185.7 1395.4,3193.7 1396.7,3196.2 1398,3198.3 1399.3,3187.1 1400.6,3181.5 1401.9,3181.9 1403.2,3203 1404.5,3196.6 1405.8,3191.5 1407.1,3189.9 1408.4,3208.7 1409.7,3198.1 1411,3197.6 1412.3,3188.9 1413.6,3207.5 1414.9,3190.3 1416.2,3183.4 1417.5,3203.7 1418.8,3196.6 1420.1,3199.8 1421.4,3183.3 1422.7,3191.6 1424,3188.1 1425.3,3196.5 1426.6,3194.2 1427.9,3195.2 1429.2,3189.6 1430.5,3205.6 1431.8,3185.7 1433.1,3201.2 1434.4,3195.3 1435.7,3203.4 1437,3188.6 1438.3,3203.4 1439.6,3190.5 1440.9,3199.2 1442.2,3196.5 1443.5,3215.5 1444.8,3188 1446.1,3193 1447.4,3184.1 1448.7,3189.8 1450,3195.6 1451.3,3194.1 1452.6,3190.2 1453.9,3187.3 1455.2,3194.8 1456.5,3197.5 1457.8,3209.2 1459.1,3200 1460.4,3195.5 1461.7,3192.5 1463,3203 1464.3,3207.4 1465.6,3196.3 1466.9,3205.2 1468.2,3204.4 1469.5,3183.4 1470.8,3212.9 1472.1,3205.4 1473.4,3188.7 1474.7,3183.7 1476,3199.2 1477.3,3194.2 1478.6,3201.4 1479.9,3191.9 1481.2,3207.4 1482.5,3194.2 1483.8,3202.2 1485.1,3204.3 1486.4,3197.3 1487.7,3206.5 1489,3201.3 1490.3,3199.5 1491.6,3198.4 1492.9,3182.2 1494.2,3192 1495.5,3212.7 1496.8,3196.4 1498.1,3193 1499.4,3197.9 1500.7,3198 1502,3215.4 1503.3,3191.5 1504.6,3194.3 1505.9,3204.3 1507.2,3187.3 1508.5,3188.6 1509.8,3190.9 1511.1,3194.1 1512.4,3207.3 1513.7,3209.9 1515,3203.2 1516.3,3213.6 1517.6,3184.6 1518.9,3206.2 1520.2,3193.7 1521.5,3202.6 1522.8,3196.8 1524.1,3188.7 1525.4,3208.2 1526.7,3210.9 1528,3202.3 1529.3,3194.6 1530.6,3221 1531.9,3183.3 1533.2,3202.5 1534.5,3194 1535.8,3194.8 1537.1,3207.1 1538.4,3196.4 1539.7,3207.3 1541,3201 1542.3,3209.8 1543.6,3211.6 1544.9,3206.7 1546.2,3201.4 1547.5,3200.8 1548.8,3193.8 1550.1,3204.8 1551.4,3206.8 1552.7,3196.3 1554,3204.2 1555.3,3194.9 1556.6,3201.1 1557.9,3194.3 1559.2,3202.7 1560.5,3211 1561.8,3205.3 1563.1,3189.9 1564.4,3209.2 1565.7,3201.4 1567,3213.3 1568.3,3209.9 1569.6,3210.1 1570.9,3202.9 1572.2,3207.2 1573.5,3200.2 1574.8,3206.7 1576.1,3211.9 1577.4,3194.1 1578.7,3203.4 1580,3211.9 1581.3,3198.4 1582.6,3205.3 1583.9,3211.1 1585.2,3210.2 1586.5,3212.3 1587.8,3213.7 1589.1,3217.3 1590.4,3205.7 1591.7,3215 1593,3211.6 1594.3,3193.8 1595.6,3207 1596.9,3216 1598.2,3213.3 1599.5,3216 1600.8,3210.6 1602.1,3210.3 1603.4,3218 1604.7,3194.9 1606,3197 1607.3,3210.9 1608.6,3213.3 1609.9,3216 1611.2,3216.6 1612.5,3213.2 1613.8,3203.5 1615.1,3217.3 1616.4,3215.5 1617.7,3204.8 1619,3200.1 1620.3,3209.1 1621.6,3218.1 1622.9,3212.8 1624.2,3221.7 1625.5,3209.8 1626.8,3206.8 1628.1,3208.1 1629.4,3214.5 1630.7,3215.7 1632,3220.5 1633.3,3212.9 1634.6,3205.1 1635.9,3204.2 1637.2,3216.9 1638.5,3213.8 1639.8,3216.8 1641.1,3211.2 1642.4,3211.7 1643.7,3211.3 1645,3210.2 1646.3,3216.4 1647.6,3228.1 1648.9,3214.8 1650.2,3216.2 1651.5,3200.6 1652.8,3222.4 1654.1,3214.3 1655.4,3227.2 1656.7,3221.2 1658,3228.9 1659.3,3209.8 1660.6,3223.4 1661.9,3224.8 1663.2,3214 1664.5,3226.7 1665.8,3206.4 1667.1,3219.4 1668.4,3213.9 1669.7,3229 1671,3202.1 1672.3,3230.1 1673.6,3240.2 1674.9,3209.5 1676.2,3225.4 1677.5,3210.7 1678.8,3225.3 1680.1,3227.6 1681.4,3209.5 1682.7,3241.2 1684,3218.6 1685.3,3219.9 1686.6,3226.1 1687.9,3227.5 1689.2,3220.9 1690.5,3225.7 1691.8,3226.6 1693.1,3212.2 1694.4,3223.7 1695.7,3223.7 1697,3222 1698.3,3231.1 1699.6,3216.5 1700.9,3206.4 1702.2,3226 1703.5,3223.8 1704.8,3220.1 1706.1,3216.1 1707.4,3239.1 1708.7,3221.8 1710,3212.3 1711.3,3223.2 1712.6,3225.2 1713.9,3209.6 1715.2,3227 1716.5,3204.2 1717.8,3216 1719.1,3228.5 1720.4,3230.5 1721.7,3224.7 1723,3228.3 1724.3,3214.5 1725.6,3223.1 1726.9,3228.2 1728.2,3207.4 1729.5,3225.2 1730.8,3228.2 1732.1,3232.1 1733.4,3229 1734.7,3231 1736,3234.4 1737.3,3214.1 1738.6,3213.6 1739.9,3216.5 1741.2,3210.9 1742.5,3228.9 1743.8,3236.1 1745.1,3232.8 1746.4,3226 1747.7,3231.6 1749,3223.5 1750.3,3227.1 1751.6,3232.3 1752.9,3213.6 1754.2,3217.4 1755.5,3225.5 1756.8,3245.8 1758.1,3232.2 1759.4,3228 1760.7,3233.8 1762,3217.2 1763.3,3197.2 1764.6,3212.4 1765.9,3213 1767.2,3245.8 1768.5,3220.1 1769.8,3220.4 1771.1,3220 1772.4,3219.4 1773.7,3220.9 1775,3222.9 1776.3,3232.2 1777.6,3224 1778.9,3209.5 1780.2,3229.5 1781.5,3226.3 1782.8,3218.7 1784.1,3224 1785.4,3212.7 1786.7,3241.8 1788,3231.1 1789.3,3223.6 1790.6,3214.4 1791.9,3227.1 1793.2,3226.8 1794.5,3221.1 1795.8,3219 1797.1,3247.8 1798.4,3219.5 1799.7,3230.6 1801,3233.6 1802.3,3212.4 1803.6,3225.9 1804.9,3230.9 1806.2,3222 1807.5,3208.3 1808.8,3231.1 1810.1,3240.3 1811.4,3226.1 1812.7,3224.3 1814,3215.2 1815.3,3219.9 1816.6,3226 1817.9,3210.2 1819.2,3213.3 1820.5,3222.8 1821.8,3221.9 1823.1,3221.7 1824.4,3220.3 1825.7,3233 1827,3218.7 1828.3,3219.6 1829.6,3212.4 1830.9,3212 1832.2,3218.8 1833.5,3244 1834.8,3232.6 1836.1,3210.2 1837.4,3235.8 1838.7,3220.7 1840,3208.9 1841.3,3222.6 1842.6,3210.5 1843.9,3207.1 1845.2,3207.9 1846.5,3215.1 1847.8,3190.3 1849.1,3224.7 1850.4,3231.4 1851.7,3213.9 1853,3216 1854.3,3219.6 1855.6,3213.1 1856.9,3212.7 1858.2,3221.1 1859.5,3224.2 1860.8,3211.2 1862.1,3221.5 1863.4,3218.4 1864.7,3209.9 1866,3214.7 1867.3,3197.9 1868.6,3204.8 1869.9,3217.8 1871.2,3219.8 1872.5,3224.2 1873.8,3227 1875.1,3202 1876.4,3215 1877.7,3185.7 1879,3210.4 1880.3,3205.5 1881.6,3214.5 1882.9,3209.2 1884.2,3211.4 1885.5,3205.1 1886.8,3210.5 1888.1,3223 1889.4,3217.5 1890.7,3210 1892,3194.5 1893.3,3192.7 1894.6,3209.2 1895.9,3211.8 1897.2,3213.4 1898.5,3211.4 1899.8,3200.1 1901.1,3189.9 1902.4,3213.2 1903.7,3210.3 1905,3215.7 1906.3,3187.2 1907.6,3208 1908.9,3208.2 1910.2,3189.8 1911.5,3190.4 1912.8,3181.3 1914.1,3190.5 1915.4,3197 1916.7,3194.2 1918,3208.9 1919.3,3198.2 1920.6,3186.6 1921.9,3193.6 1923.2,3183.6 1924.5,3167 1925.8,3192 1927.1,3183.1 1928.4,3211.6 1929.7,3186.9 1931,3203.1 1932.3,3196.2 1933.6,3170.2 1934.9,3203.1 1936.2,3179.8 1937.5,3182.6 1938.8,3169.9 1940.1,3170.7 1941.4,3208.9 1942.7,3180 1944,3146.2 1945.3,3195.6 1946.6,3176.3 1947.9,3165.5 1949.2,3178.7 1950.5,3174.1 1951.8,3162 1953.1,3186.2 1954.4,3174.1 1955.7,3188.2 1957,3167.2 1958.3,3162.5 1959.6,3164.7 1960.9,3148.4 1962.2,3148 1963.5,3167 1964.8,3153.8 1966.1,3160.3 1967.4,3151.1 1968.7,3144.1 1970,3168.1 1971.3,3137.3 1972.6,3130.7 1973.9,3140.6 1975.2,3151.8 1976.5,3150.6 1977.8,3122.3 1979.1,3121.8 1980.4,3125.9 1981.7,3117.9 1983,3128.1 1984.3,3137 1985.6,3119.4 1986.9,3099.8 1988.2,3085.2 1989.5,3097 1990.8,3109.2 1992.1,3117.7 1993.4,3088.2 1994.7,3110.3 1996,3110.3 1997.3,3132.8 1998.6,3084.4 1999.9,3098.4 2001.2,3105.2 2002.5,3099.8 2003.8,3105.3 2005.1,3098.3 2006.4,3100.3 2007.7,3084.6 2009,3082.9 2010.3,3058.8 2011.6,3107.4 2012.9,3057.2 2014.2,3075.3 2015.5,3071.7 2016.8,3055.7 2018.1,3041.2 2019.4,3064.2 2020.7,3034.9 2022,3072 2023.3,3092.8 2024.6,3087 2025.9,3014.6 2027.2,3057.1 2028.5,3050.5 2029.8,3043.2 2031.1,3056.5 2032.4,3032.5 2033.7,3045.1 2035,3015.9 2036.3,3014.5 2037.6,3035 2038.9,3040.5 2040.2,3012.2 2041.5,3042.7 2042.8,3011.6 2044.1,3000.6 2045.4,2999.8 2046.7,2998.7 2048,3014.7 2049.3,3012.9 2050.6,3000.5 2051.9,3018.8 2053.2,2979.4 2054.5,2997.7 2055.8,2992.1 2057.1,2950.4 2058.4,2987.8 2059.7,2972.9 2061,3000.3 2062.3,2964.2 2063.6,2992.1 2064.9,2975.3 2066.2,2923.1 2067.5,2980.5 2068.8,2969.9 2070.1,2961.4 2071.4,2949.1 2072.7,2980.8 2074,2941.2 2075.3,2962.2 2076.6,2948.8 2077.9,2929.9 2079.2,2918 2080.5,2934.5 2081.8,2922.8 2083.1,2899.1 2084.4,2922.8 2085.7,2922.2 2087,2910.2 2088.3,2872.7 2089.6,2910.4 2090.9,2890.3 2092.2,2906.8 2093.5,2880.7 2094.8,2870.5 2096.1,2876.4 2097.4,2872.7 2098.7,2907.9 2100,2843.5 2101.3,2830.6 2102.6,2852.2 2103.9,2849.9 2105.2,2792.4 2106.5,2808.7 2107.8,2821.8 2109.1,2829.7 2110.4,2821.4 2111.7,2854.5 2113,2820.7 2114.3,2804.3 2115.6,2813 2116.9,2815.8 2118.2,2818 2119.5,2747.9 2120.8,2797.9 2122.1,2803.2 2123.4,2814.9 2124.7,2774.8 2126,2777.6 2127.3,2735.6 2128.6,2776.4 2129.9,2771.8 2131.2,2725.8 2132.5,2739.7 2133.8,2720.4 2135.1,2744.5 2136.4,2710.8 2137.7,2712.9"/>
<rect x="344.2" y="1967.8" width="1798.2" height="13.2" fill="#000"/>
<rect x="2135.8" y="1974.4" width="13.2" height="1332.2" fill="#000"/>
<text x="392.1" y="2084.9" font-family='"Liberation Serif", serif' font-size="71" font-weight="bold" text-anchor="start" >(B)</text>
<text x="932.7" y="2634.1" font-family='"Liberation Sans", sans-serif' font-size="71" font-weight="bold" text-anchor="start" >18 nm</text>
<text x="1572" y="2803.3" font-family='"Liberation Sans", sans-serif' font-size="71" font-weight="bold" text-anchor="start" >25 nm</text>
<text x="879" y="2887.5" font-family='"Liberation Sans", sans-serif' font-size="71" font-weight="bold" text-anchor="start" >40 nm</text>
<text x="914.7" y="3031.8" font-family='"Liberation Sans", sans-serif' font-size="71" font-weight="bold" text-anchor="start" >55 nm</text>
<text x="1478.5" y="3159" font-family='"Liberation Sans", sans-serif' font-size="71" font-weight="bold" text-anchor="start" >97 nm</text>
<line x1="847.2" y1="2641.6" x2="892.6" y2="2630.3" stroke="#000" stroke-width="2.0"/><polygon points="927.1,2621.7 894.7,2638.8 890.5,2621.8" fill="#000"/>
<line x1="1469.7" y1="2806.6" x2="1539.5" y2="2799.3" stroke="#000" stroke-width="2.0"/><polygon points="1574.8,2795.6 1540.4,2808 1538.6,2790.6" fill="#000"/>
<line x1="1206.2" y1="2843.3" x2="1174.3" y2="2853.3" stroke="#000" stroke-width="2.0"/><polygon points="1140.5,2864 1171.7,2845 1176.9,2861.7" fill="#000"/>
<line x1="1259.3" y1="2968.5" x2="1214.8" y2="2976.5" stroke="#000" stroke-width="2.0"/><polygon points="1179.8,2982.8 1213.2,2967.9 1216.3,2985.1" fill="#000"/>
<line x1="1385.4" y1="3166.6" x2="1437.3" y2="3154.4" stroke="#000" stroke-width="2.0"/><polygon points="1471.9,3146.3 1439.3,3162.9 1435.3,3145.9" fill="#000"/>
<text transform="translate(100.3,2742.9) rotate(-90) scale(0.942,1)" font-family='"Liberation Sans", sans-serif' font-size="87.8" font-weight="bold">R%</text>
<text x="933.4" y="3522.6" font-family='"Liberation Serif", serif' font-size="84" font-weight="bold" text-anchor="start" style="font-kerning:none">Wavelength (nm)</text>
<g id="insetC">
<rect x="1226.1" y="2021.7" width="659.3" height="587.3" fill="#fff"/>
<rect x="1223.8" y="2021.7" width="4.7" height="598.2" fill="#000"/>
<rect x="1883.1" y="2021.7" width="4.7" height="598.2" fill="#000"/>
<rect x="1226.1" y="2018.8" width="659.3" height="5.8" fill="#000"/>
<rect x="1226.1" y="2606.1" width="659.3" height="5.8" fill="#000"/>
<text transform="translate(1226.1,2654) scale(0.905,1)" font-family='"Liberation Sans", sans-serif' font-size="33.5" font-weight="bold" text-anchor="middle">0</text>
<rect x="1289.4" y="2609" width="5.2" height="5.9" fill="#000"/>
<rect x="1355.4" y="2609" width="5.2" height="10.9" fill="#000"/>
<text transform="translate(1358,2654) scale(0.905,1)" font-family='"Liberation Sans", sans-serif' font-size="33.5" font-weight="bold" text-anchor="middle">20</text>
<rect x="1421.3" y="2609" width="5.2" height="5.9" fill="#000"/>
<rect x="1487.2" y="2609" width="5.2" height="10.9" fill="#000"/>
<text transform="translate(1489.8,2654) scale(0.905,1)" font-family='"Liberation Sans", sans-serif' font-size="33.5" font-weight="bold" text-anchor="middle">40</text>
<rect x="1553.2" y="2609" width="5.2" height="5.9" fill="#000"/>
<rect x="1619.1" y="2609" width="5.2" height="10.9" fill="#000"/>
<text transform="translate(1621.7,2654) scale(0.905,1)" font-family='"Liberation Sans", sans-serif' font-size="33.5" font-weight="bold" text-anchor="middle">60</text>
<rect x="1685" y="2609" width="5.2" height="5.9" fill="#000"/>
<rect x="1750.9" y="2609" width="5.2" height="10.9" fill="#000"/>
<text transform="translate(1753.5,2654) scale(0.905,1)" font-family='"Liberation Sans", sans-serif' font-size="33.5" font-weight="bold" text-anchor="middle">80</text>
<rect x="1816.9" y="2609" width="5.2" height="5.9" fill="#000"/>
<text transform="translate(1885.4,2654) scale(0.905,1)" font-family='"Liberation Sans", sans-serif' font-size="33.5" font-weight="bold" text-anchor="middle">100</text>
<rect x="1220.8" y="2593.9" width="5.3" height="5.8" fill="#000"/>
<rect x="1215.8" y="2557.2" width="10.3" height="5.8" fill="#000"/>
<text transform="translate(1208.8,2570.2) scale(0.905,1)" font-family='"Liberation Sans", sans-serif' font-size="33.5" font-weight="bold" text-anchor="end">3</text>
<rect x="1220.8" y="2520.5" width="5.3" height="5.8" fill="#000"/>
<rect x="1215.8" y="2483.7" width="10.3" height="5.8" fill="#000"/>
<text transform="translate(1208.8,2496.7) scale(0.905,1)" font-family='"Liberation Sans", sans-serif' font-size="33.5" font-weight="bold" text-anchor="end">6</text>
<rect x="1220.8" y="2447" width="5.3" height="5.8" fill="#000"/>
<rect x="1215.8" y="2410.3" width="10.3" height="5.8" fill="#000"/>
<text transform="translate(1208.8,2423.3) scale(0.905,1)" font-family='"Liberation Sans", sans-serif' font-size="33.5" font-weight="bold" text-anchor="end">9</text>
<rect x="1220.8" y="2373.6" width="5.3" height="5.8" fill="#000"/>
<rect x="1215.8" y="2336.9" width="10.3" height="5.8" fill="#000"/>
<text transform="translate(1208.8,2349.9) scale(0.905,1)" font-family='"Liberation Sans", sans-serif' font-size="33.5" font-weight="bold" text-anchor="end">12</text>
<rect x="1220.8" y="2300.2" width="5.3" height="5.8" fill="#000"/>
<rect x="1215.8" y="2263.5" width="10.3" height="5.8" fill="#000"/>
<text transform="translate(1208.8,2276.5) scale(0.905,1)" font-family='"Liberation Sans", sans-serif' font-size="33.5" font-weight="bold" text-anchor="end">15</text>
<rect x="1220.8" y="2226.8" width="5.3" height="5.8" fill="#000"/>
<rect x="1215.8" y="2190.1" width="10.3" height="5.8" fill="#000"/>
<text transform="translate(1208.8,2203.1) scale(0.905,1)" font-family='"Liberation Sans", sans-serif' font-size="33.5" font-weight="bold" text-anchor="end">18</text>
<rect x="1220.8" y="2153.4" width="5.3" height="5.8" fill="#000"/>
<rect x="1215.8" y="2116.7" width="10.3" height="5.8" fill="#000"/>
<text transform="translate(1208.8,2129.7) scale(0.905,1)" font-family='"Liberation Sans", sans-serif' font-size="33.5" font-weight="bold" text-anchor="end">21</text>
<rect x="1220.8" y="2080" width="5.3" height="5.8" fill="#000"/>
<rect x="1215.8" y="2043.3" width="10.3" height="5.8" fill="#000"/>
<text transform="translate(1208.8,2056.3) scale(0.905,1)" font-family='"Liberation Sans", sans-serif' font-size="33.5" font-weight="bold" text-anchor="end">24</text>
<rect x="1223.8" y="2101.4" width="8.1" height="12" fill="#000"/>
<rect x="1341.6" y="2139.5" width="10.6" height="12" fill="#000"/>
<rect x="1387.3" y="2177.4" width="10.6" height="12" fill="#000"/>
<rect x="1482.1" y="2199.7" width="10.6" height="12" fill="#000"/>
<rect x="1583" y="2240.4" width="10.6" height="12" fill="#000"/>
<rect x="1858.9" y="2355.8" width="10.6" height="12" fill="#000"/>
<line x1="1226.1" y1="2105.9" x2="1864" y2="2359.5" stroke="#f00" stroke-width="4.4"/>
<text transform="translate(1240.6,2072.4) scale(0.88,1)" font-family='"Liberation Sans", sans-serif' font-size="37.5" font-weight="bold" text-anchor="start">(C)</text>
<text transform="translate(1152.1,2382.7) rotate(-90) scale(1,0.966)" font-family='"Liberation Sans", sans-serif' font-size="42" font-weight="bold">R %</text>
<text transform="translate(1415.7,2719.4) scale(0.83,1)" font-family='"Liberation Sans", sans-serif' font-size="46" font-weight="bold" text-anchor="start">Thickness (nm)</text>
</g>
</g>
</svg></body></html>
